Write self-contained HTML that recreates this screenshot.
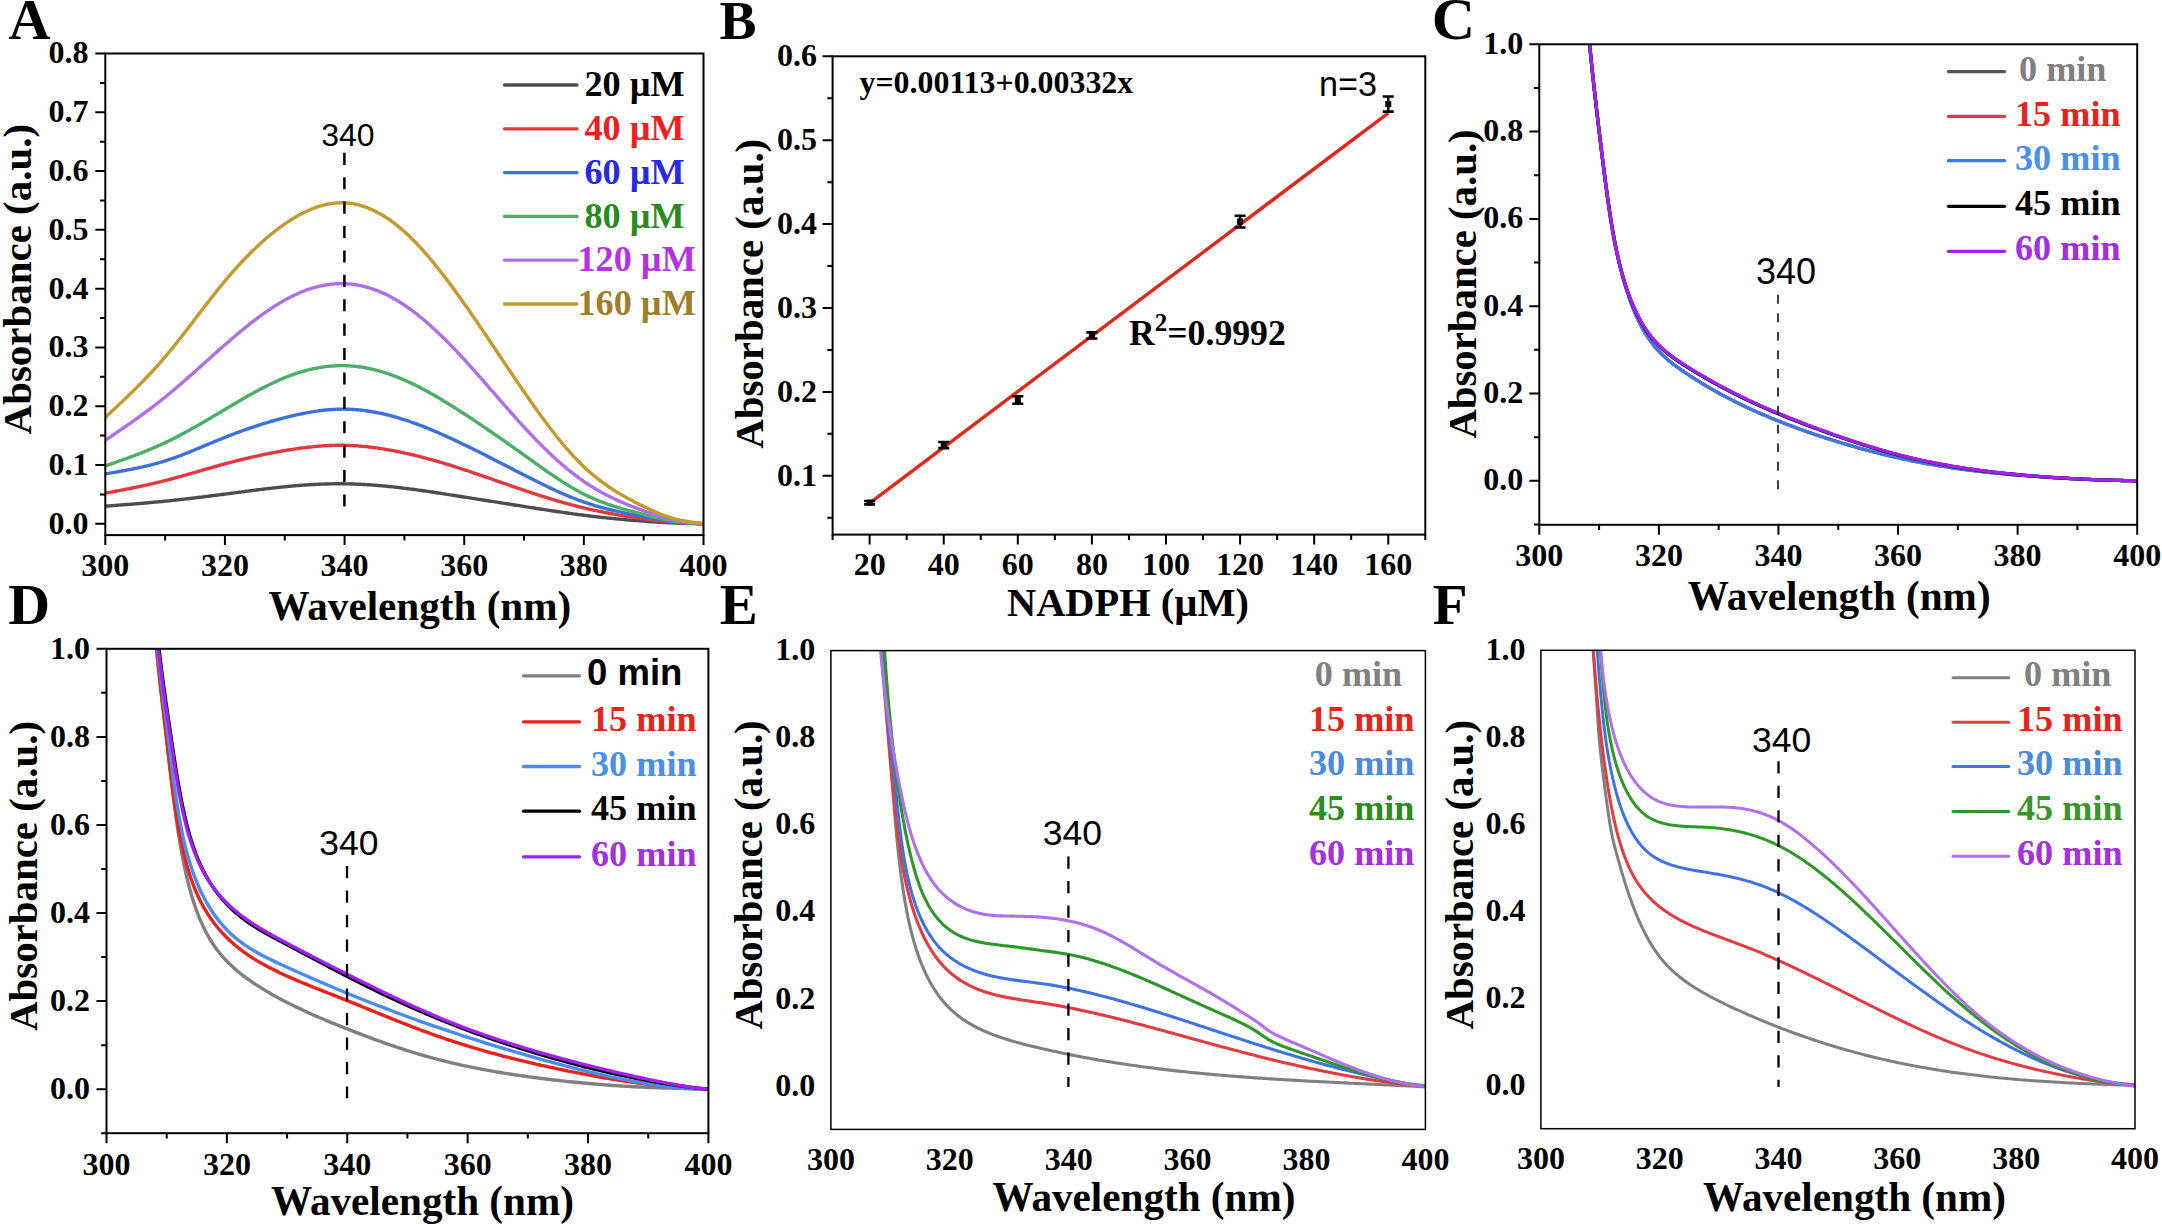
<!DOCTYPE html>
<html lang="en"><head><meta charset="utf-8"><title>NADPH absorbance spectra</title>
<style>html,body{margin:0;padding:0;background:#fff}svg{display:block}.sf{font-family:'Liberation Serif', 'Times New Roman', serif;font-weight:bold}.ss{font-family:'Liberation Sans', Arial, sans-serif;font-weight:bold}.sn{font-family:'Liberation Sans', Arial, sans-serif;font-weight:normal}</style>
</head><body>
<svg width="2162" height="1225" viewBox="0 0 2162 1225" role="img" aria-label="UV absorbance spectra of NADPH, panels A to F">
<rect width="2162" height="1225" fill="#fff"/>
<defs>
<clipPath id="cpA"><rect x="105.3" y="53.5" width="598.2" height="481.6"/></clipPath>
</defs>
<path d="M105.3,506.16 106.8,506.05 108.3,505.94 109.8,505.82 111.3,505.71 112.8,505.6 114.3,505.48 115.79,505.37 117.29,505.25 118.79,505.14 120.29,505.02 121.79,504.91 123.29,504.79 124.79,504.67 126.29,504.56 127.79,504.44 129.29,504.32 130.79,504.2 132.29,504.08 133.79,503.96 135.28,503.84 136.78,503.72 138.28,503.59 139.78,503.47 141.28,503.34 142.78,503.21 144.28,503.09 145.78,502.96 147.28,502.83 148.78,502.7 150.28,502.56 151.78,502.43 153.28,502.29 154.78,502.16 156.27,502.02 157.77,501.88 159.27,501.74 160.77,501.59 162.27,501.45 163.77,501.3 165.27,501.15 166.77,501 168.27,500.85 169.77,500.7 171.27,500.54 172.77,500.38 174.27,500.22 175.76,500.06 177.26,499.9 178.76,499.74 180.26,499.57 181.76,499.41 183.26,499.24 184.76,499.07 186.26,498.9 187.76,498.73 189.26,498.55 190.76,498.38 192.26,498.2 193.76,498.03 195.25,497.85 196.75,497.67 198.25,497.49 199.75,497.3 201.25,497.12 202.75,496.94 204.25,496.75 205.75,496.57 207.25,496.38 208.75,496.19 210.25,496 211.75,495.81 213.25,495.62 214.75,495.43 216.24,495.24 217.74,495.05 219.24,494.85 220.74,494.66 222.24,494.46 223.74,494.27 225.24,494.07 226.74,493.88 228.24,493.68 229.74,493.48 231.24,493.28 232.74,493.09 234.24,492.89 235.73,492.69 237.23,492.49 238.73,492.3 240.23,492.1 241.73,491.9 243.23,491.7 244.73,491.51 246.23,491.31 247.73,491.12 249.23,490.92 250.73,490.73 252.23,490.54 253.73,490.35 255.22,490.16 256.72,489.97 258.22,489.78 259.72,489.59 261.22,489.41 262.72,489.22 264.22,489.04 265.72,488.86 267.22,488.68 268.72,488.51 270.22,488.33 271.72,488.16 273.22,487.99 274.72,487.82 276.21,487.66 277.71,487.5 279.21,487.33 280.71,487.18 282.21,487.02 283.71,486.87 285.21,486.72 286.71,486.57 288.21,486.43 289.71,486.29 291.21,486.15 292.71,486.02 294.21,485.89 295.7,485.76 297.2,485.63 298.7,485.51 300.2,485.4 301.7,485.28 303.2,485.17 304.7,485.07 306.2,484.96 307.7,484.86 309.2,484.77 310.7,484.68 312.2,484.59 313.7,484.51 315.19,484.43 316.69,484.36 318.19,484.29 319.69,484.22 321.19,484.16 322.69,484.1 324.19,484.05 325.69,484 327.19,483.96 328.69,483.92 330.19,483.89 331.69,483.86 333.19,483.84 334.68,483.82 336.18,483.8 337.68,483.8 339.18,483.79 340.68,483.79 342.18,483.8 343.68,483.81 345.18,483.83 346.68,483.86 348.18,483.89 349.68,483.92 351.18,483.96 352.68,484 354.18,484.05 355.67,484.11 357.17,484.17 358.67,484.23 360.17,484.3 361.67,484.38 363.17,484.46 364.67,484.54 366.17,484.63 367.67,484.72 369.17,484.82 370.67,484.92 372.17,485.03 373.67,485.14 375.16,485.25 376.66,485.37 378.16,485.5 379.66,485.62 381.16,485.75 382.66,485.89 384.16,486.03 385.66,486.17 387.16,486.31 388.66,486.46 390.16,486.62 391.66,486.77 393.16,486.93 394.65,487.1 396.15,487.26 397.65,487.43 399.15,487.61 400.65,487.78 402.15,487.96 403.65,488.14 405.15,488.33 406.65,488.51 408.15,488.7 409.65,488.9 411.15,489.09 412.65,489.29 414.15,489.49 415.64,489.69 417.14,489.9 418.64,490.1 420.14,490.31 421.64,490.52 423.14,490.74 424.64,490.95 426.14,491.17 427.64,491.39 429.14,491.61 430.64,491.83 432.14,492.05 433.64,492.28 435.13,492.5 436.63,492.73 438.13,492.96 439.63,493.19 441.13,493.42 442.63,493.65 444.13,493.88 445.63,494.12 447.13,494.35 448.63,494.59 450.13,494.82 451.63,495.06 453.13,495.29 454.62,495.53 456.12,495.77 457.62,496.01 459.12,496.24 460.62,496.48 462.12,496.72 463.62,496.96 465.12,497.19 466.62,497.43 468.12,497.67 469.62,497.91 471.12,498.14 472.62,498.38 474.12,498.62 475.61,498.85 477.11,499.09 478.61,499.32 480.11,499.56 481.61,499.8 483.11,500.03 484.61,500.27 486.11,500.5 487.61,500.74 489.11,500.97 490.61,501.21 492.11,501.44 493.61,501.68 495.1,501.92 496.6,502.15 498.1,502.39 499.6,502.62 501.1,502.86 502.6,503.09 504.1,503.33 505.6,503.56 507.1,503.8 508.6,504.03 510.1,504.27 511.6,504.5 513.1,504.74 514.59,504.97 516.09,505.21 517.59,505.44 519.09,505.68 520.59,505.92 522.09,506.15 523.59,506.39 525.09,506.62 526.59,506.86 528.09,507.09 529.59,507.33 531.09,507.57 532.59,507.8 534.08,508.04 535.58,508.27 537.08,508.51 538.58,508.74 540.08,508.97 541.58,509.21 543.08,509.44 544.58,509.67 546.08,509.9 547.58,510.13 549.08,510.36 550.58,510.59 552.08,510.82 553.58,511.04 555.07,511.27 556.57,511.49 558.07,511.71 559.57,511.94 561.07,512.15 562.57,512.37 564.07,512.59 565.57,512.8 567.07,513.02 568.57,513.23 570.07,513.44 571.57,513.65 573.07,513.85 574.56,514.06 576.06,514.26 577.56,514.46 579.06,514.66 580.56,514.85 582.06,515.05 583.56,515.24 585.06,515.43 586.56,515.61 588.06,515.8 589.56,515.98 591.06,516.16 592.56,516.33 594.05,516.51 595.55,516.68 597.05,516.85 598.55,517.02 600.05,517.18 601.55,517.35 603.05,517.51 604.55,517.67 606.05,517.82 607.55,517.98 609.05,518.13 610.55,518.28 612.05,518.43 613.55,518.58 615.04,518.72 616.54,518.87 618.04,519.01 619.54,519.15 621.04,519.28 622.54,519.42 624.04,519.55 625.54,519.69 627.04,519.82 628.54,519.94 630.04,520.07 631.54,520.2 633.04,520.32 634.53,520.44 636.03,520.56 637.53,520.68 639.03,520.8 640.53,520.92 642.03,521.03 643.53,521.14 645.03,521.25 646.53,521.36 648.03,521.47 649.53,521.58 651.03,521.69 652.53,521.79 654.02,521.89 655.52,521.99 657.02,522.08 658.52,522.18 660.02,522.27 661.52,522.36 663.02,522.45 664.52,522.53 666.02,522.61 667.52,522.69 669.02,522.77 670.52,522.84 672.02,522.91 673.52,522.97 675.01,523.04 676.51,523.1 678.01,523.15 679.51,523.2 681.01,523.26 682.51,523.3 684.01,523.35 685.51,523.39 687.01,523.43 688.51,523.47 690.01,523.51 691.51,523.55 693.01,523.58 694.5,523.61 696,523.65 697.5,523.68 699,523.71 700.5,523.74 702,523.77 703.5,523.8" fill="none" stroke="#4d4d4d" stroke-width="3.4" stroke-linejoin="round" stroke-linecap="butt" clip-path="url(#cpA)"/>
<path d="M105.3,493.23 106.8,492.95 108.3,492.66 109.8,492.37 111.3,492.09 112.8,491.8 114.3,491.51 115.79,491.23 117.29,490.94 118.79,490.65 120.29,490.36 121.79,490.07 123.29,489.77 124.79,489.48 126.29,489.18 127.79,488.89 129.29,488.59 130.79,488.28 132.29,487.98 133.79,487.68 135.28,487.37 136.78,487.06 138.28,486.74 139.78,486.43 141.28,486.11 142.78,485.79 144.28,485.47 145.78,485.14 147.28,484.81 148.78,484.48 150.28,484.14 151.78,483.8 153.28,483.45 154.78,483.11 156.27,482.75 157.77,482.4 159.27,482.04 160.77,481.67 162.27,481.3 163.77,480.93 165.27,480.55 166.77,480.17 168.27,479.78 169.77,479.39 171.27,479 172.77,478.6 174.27,478.19 175.76,477.79 177.26,477.38 178.76,476.96 180.26,476.55 181.76,476.13 183.26,475.71 184.76,475.28 186.26,474.86 187.76,474.43 189.26,474 190.76,473.57 192.26,473.14 193.76,472.71 195.25,472.28 196.75,471.84 198.25,471.41 199.75,470.97 201.25,470.54 202.75,470.1 204.25,469.67 205.75,469.24 207.25,468.8 208.75,468.37 210.25,467.94 211.75,467.51 213.25,467.09 214.75,466.66 216.24,466.24 217.74,465.82 219.24,465.4 220.74,464.98 222.24,464.57 223.74,464.16 225.24,463.76 226.74,463.35 228.24,462.95 229.74,462.56 231.24,462.17 232.74,461.78 234.24,461.39 235.73,461.01 237.23,460.63 238.73,460.26 240.23,459.89 241.73,459.52 243.23,459.16 244.73,458.8 246.23,458.44 247.73,458.09 249.23,457.74 250.73,457.39 252.23,457.05 253.73,456.71 255.22,456.38 256.72,456.05 258.22,455.72 259.72,455.4 261.22,455.08 262.72,454.77 264.22,454.46 265.72,454.15 267.22,453.85 268.72,453.55 270.22,453.26 271.72,452.97 273.22,452.68 274.72,452.4 276.21,452.12 277.71,451.84 279.21,451.57 280.71,451.31 282.21,451.05 283.71,450.79 285.21,450.53 286.71,450.28 288.21,450.04 289.71,449.8 291.21,449.56 292.71,449.33 294.21,449.1 295.7,448.88 297.2,448.67 298.7,448.46 300.2,448.25 301.7,448.05 303.2,447.86 304.7,447.67 306.2,447.49 307.7,447.31 309.2,447.14 310.7,446.98 312.2,446.82 313.7,446.67 315.19,446.53 316.69,446.39 318.19,446.26 319.69,446.14 321.19,446.03 322.69,445.92 324.19,445.82 325.69,445.73 327.19,445.65 328.69,445.57 330.19,445.51 331.69,445.45 333.19,445.4 334.68,445.36 336.18,445.33 337.68,445.3 339.18,445.29 340.68,445.29 342.18,445.29 343.68,445.31 345.18,445.33 346.68,445.36 348.18,445.41 349.68,445.46 351.18,445.52 352.68,445.59 354.18,445.68 355.67,445.77 357.17,445.86 358.67,445.97 360.17,446.09 361.67,446.21 363.17,446.35 364.67,446.49 366.17,446.64 367.67,446.8 369.17,446.97 370.67,447.14 372.17,447.33 373.67,447.52 375.16,447.71 376.66,447.92 378.16,448.13 379.66,448.35 381.16,448.58 382.66,448.82 384.16,449.06 385.66,449.31 387.16,449.56 388.66,449.83 390.16,450.1 391.66,450.37 393.16,450.65 394.65,450.94 396.15,451.24 397.65,451.54 399.15,451.84 400.65,452.16 402.15,452.47 403.65,452.8 405.15,453.13 406.65,453.46 408.15,453.8 409.65,454.15 411.15,454.5 412.65,454.85 414.15,455.21 415.64,455.58 417.14,455.95 418.64,456.32 420.14,456.7 421.64,457.09 423.14,457.48 424.64,457.87 426.14,458.27 427.64,458.67 429.14,459.08 430.64,459.49 432.14,459.91 433.64,460.33 435.13,460.75 436.63,461.18 438.13,461.62 439.63,462.05 441.13,462.49 442.63,462.94 444.13,463.39 445.63,463.84 447.13,464.29 448.63,464.75 450.13,465.21 451.63,465.68 453.13,466.15 454.62,466.62 456.12,467.1 457.62,467.57 459.12,468.06 460.62,468.54 462.12,469.03 463.62,469.52 465.12,470.01 466.62,470.51 468.12,471.01 469.62,471.51 471.12,472.01 472.62,472.52 474.12,473.02 475.61,473.53 477.11,474.04 478.61,474.56 480.11,475.07 481.61,475.59 483.11,476.11 484.61,476.62 486.11,477.14 487.61,477.67 489.11,478.19 490.61,478.71 492.11,479.23 493.61,479.76 495.1,480.28 496.6,480.8 498.1,481.33 499.6,481.85 501.1,482.38 502.6,482.9 504.1,483.42 505.6,483.95 507.1,484.47 508.6,484.99 510.1,485.51 511.6,486.03 513.1,486.55 514.59,487.07 516.09,487.58 517.59,488.1 519.09,488.61 520.59,489.12 522.09,489.63 523.59,490.14 525.09,490.64 526.59,491.15 528.09,491.65 529.59,492.15 531.09,492.64 532.59,493.14 534.08,493.63 535.58,494.12 537.08,494.6 538.58,495.08 540.08,495.56 541.58,496.04 543.08,496.52 544.58,496.99 546.08,497.45 547.58,497.92 549.08,498.38 550.58,498.84 552.08,499.29 553.58,499.74 555.07,500.19 556.57,500.63 558.07,501.07 559.57,501.5 561.07,501.93 562.57,502.36 564.07,502.78 565.57,503.2 567.07,503.61 568.57,504.02 570.07,504.43 571.57,504.83 573.07,505.22 574.56,505.61 576.06,506 577.56,506.38 579.06,506.76 580.56,507.13 582.06,507.5 583.56,507.86 585.06,508.21 586.56,508.56 588.06,508.91 589.56,509.25 591.06,509.58 592.56,509.91 594.05,510.24 595.55,510.56 597.05,510.87 598.55,511.18 600.05,511.49 601.55,511.79 603.05,512.09 604.55,512.38 606.05,512.67 607.55,512.96 609.05,513.24 610.55,513.52 612.05,513.79 613.55,514.06 615.04,514.32 616.54,514.59 618.04,514.84 619.54,515.1 621.04,515.35 622.54,515.6 624.04,515.85 625.54,516.09 627.04,516.33 628.54,516.56 630.04,516.8 631.54,517.03 633.04,517.26 634.53,517.48 636.03,517.7 637.53,517.92 639.03,518.14 640.53,518.36 642.03,518.57 643.53,518.78 645.03,518.99 646.53,519.2 648.03,519.4 649.53,519.6 651.03,519.8 652.53,520 654.02,520.19 655.52,520.38 657.02,520.56 658.52,520.74 660.02,520.92 661.52,521.09 663.02,521.26 664.52,521.42 666.02,521.57 667.52,521.72 669.02,521.87 670.52,522.01 672.02,522.14 673.52,522.27 675.01,522.38 676.51,522.5 678.01,522.6 679.51,522.7 681.01,522.8 682.51,522.89 684.01,522.97 685.51,523.05 687.01,523.13 688.51,523.2 690.01,523.27 691.51,523.34 693.01,523.4 694.5,523.46 696,523.52 697.5,523.58 699,523.64 700.5,523.69 702,523.75 703.5,523.8" fill="none" stroke="#e0393e" stroke-width="3.4" stroke-linejoin="round" stroke-linecap="butt" clip-path="url(#cpA)"/>
<path d="M105.3,473.83 106.8,473.58 108.3,473.33 109.8,473.08 111.3,472.83 112.8,472.58 114.3,472.32 115.79,472.07 117.29,471.81 118.79,471.55 120.29,471.29 121.79,471.02 123.29,470.75 124.79,470.48 126.29,470.21 127.79,469.93 129.29,469.65 130.79,469.36 132.29,469.07 133.79,468.77 135.28,468.46 136.78,468.16 138.28,467.84 139.78,467.52 141.28,467.19 142.78,466.86 144.28,466.52 145.78,466.17 147.28,465.81 148.78,465.45 150.28,465.08 151.78,464.7 153.28,464.31 154.78,463.91 156.27,463.5 157.77,463.09 159.27,462.66 160.77,462.22 162.27,461.78 163.77,461.32 165.27,460.85 166.77,460.37 168.27,459.88 169.77,459.38 171.27,458.87 172.77,458.35 174.27,457.82 175.76,457.28 177.26,456.73 178.76,456.18 180.26,455.61 181.76,455.05 183.26,454.47 184.76,453.89 186.26,453.3 187.76,452.71 189.26,452.11 190.76,451.5 192.26,450.9 193.76,450.28 195.25,449.67 196.75,449.05 198.25,448.43 199.75,447.81 201.25,447.18 202.75,446.55 204.25,445.93 205.75,445.3 207.25,444.67 208.75,444.04 210.25,443.42 211.75,442.79 213.25,442.16 214.75,441.54 216.24,440.92 217.74,440.3 219.24,439.69 220.74,439.07 222.24,438.47 223.74,437.86 225.24,437.26 226.74,436.67 228.24,436.08 229.74,435.5 231.24,434.92 232.74,434.34 234.24,433.77 235.73,433.21 237.23,432.65 238.73,432.1 240.23,431.55 241.73,431 243.23,430.47 244.73,429.93 246.23,429.4 247.73,428.88 249.23,428.36 250.73,427.85 252.23,427.35 253.73,426.84 255.22,426.35 256.72,425.86 258.22,425.37 259.72,424.89 261.22,424.42 262.72,423.95 264.22,423.48 265.72,423.03 267.22,422.57 268.72,422.13 270.22,421.68 271.72,421.25 273.22,420.82 274.72,420.39 276.21,419.97 277.71,419.56 279.21,419.15 280.71,418.75 282.21,418.35 283.71,417.96 285.21,417.57 286.71,417.19 288.21,416.82 289.71,416.45 291.21,416.09 292.71,415.74 294.21,415.39 295.7,415.05 297.2,414.71 298.7,414.39 300.2,414.07 301.7,413.76 303.2,413.46 304.7,413.16 306.2,412.88 307.7,412.6 309.2,412.34 310.7,412.08 312.2,411.83 313.7,411.59 315.19,411.36 316.69,411.14 318.19,410.93 319.69,410.73 321.19,410.55 322.69,410.37 324.19,410.2 325.69,410.05 327.19,409.91 328.69,409.77 330.19,409.66 331.69,409.55 333.19,409.45 334.68,409.37 336.18,409.3 337.68,409.25 339.18,409.2 340.68,409.18 342.18,409.16 343.68,409.16 345.18,409.17 346.68,409.2 348.18,409.24 349.68,409.29 351.18,409.36 352.68,409.44 354.18,409.54 355.67,409.65 357.17,409.77 358.67,409.91 360.17,410.06 361.67,410.22 363.17,410.39 364.67,410.58 366.17,410.78 367.67,410.99 369.17,411.22 370.67,411.45 372.17,411.7 373.67,411.97 375.16,412.24 376.66,412.52 378.16,412.82 379.66,413.13 381.16,413.45 382.66,413.78 384.16,414.12 385.66,414.47 387.16,414.83 388.66,415.21 390.16,415.59 391.66,415.99 393.16,416.39 394.65,416.81 396.15,417.23 397.65,417.67 399.15,418.11 400.65,418.57 402.15,419.03 403.65,419.51 405.15,419.99 406.65,420.48 408.15,420.98 409.65,421.49 411.15,422.01 412.65,422.54 414.15,423.08 415.64,423.62 417.14,424.17 418.64,424.73 420.14,425.3 421.64,425.88 423.14,426.46 424.64,427.05 426.14,427.65 427.64,428.25 429.14,428.87 430.64,429.48 432.14,430.11 433.64,430.74 435.13,431.38 436.63,432.02 438.13,432.67 439.63,433.32 441.13,433.98 442.63,434.65 444.13,435.32 445.63,436 447.13,436.68 448.63,437.36 450.13,438.05 451.63,438.75 453.13,439.44 454.62,440.15 456.12,440.85 457.62,441.56 459.12,442.28 460.62,443 462.12,443.72 463.62,444.44 465.12,445.17 466.62,445.9 468.12,446.63 469.62,447.36 471.12,448.1 472.62,448.84 474.12,449.58 475.61,450.33 477.11,451.08 478.61,451.83 480.11,452.58 481.61,453.33 483.11,454.08 484.61,454.84 486.11,455.6 487.61,456.36 489.11,457.12 490.61,457.88 492.11,458.64 493.61,459.41 495.1,460.17 496.6,460.94 498.1,461.71 499.6,462.47 501.1,463.24 502.6,464.01 504.1,464.78 505.6,465.55 507.1,466.32 508.6,467.09 510.1,467.86 511.6,468.63 513.1,469.4 514.59,470.17 516.09,470.94 517.59,471.71 519.09,472.48 520.59,473.24 522.09,474.01 523.59,474.78 525.09,475.54 526.59,476.31 528.09,477.07 529.59,477.83 531.09,478.59 532.59,479.35 534.08,480.1 535.58,480.85 537.08,481.6 538.58,482.35 540.08,483.09 541.58,483.83 543.08,484.56 544.58,485.29 546.08,486.02 547.58,486.74 549.08,487.45 550.58,488.16 552.08,488.87 553.58,489.57 555.07,490.26 556.57,490.95 558.07,491.63 559.57,492.3 561.07,492.97 562.57,493.63 564.07,494.28 565.57,494.92 567.07,495.56 568.57,496.19 570.07,496.81 571.57,497.42 573.07,498.02 574.56,498.61 576.06,499.19 577.56,499.76 579.06,500.32 580.56,500.87 582.06,501.41 583.56,501.94 585.06,502.46 586.56,502.97 588.06,503.47 589.56,503.95 591.06,504.43 592.56,504.89 594.05,505.35 595.55,505.8 597.05,506.23 598.55,506.66 600.05,507.08 601.55,507.49 603.05,507.9 604.55,508.29 606.05,508.68 607.55,509.06 609.05,509.44 610.55,509.8 612.05,510.16 613.55,510.52 615.04,510.87 616.54,511.21 618.04,511.55 619.54,511.88 621.04,512.21 622.54,512.53 624.04,512.85 625.54,513.16 627.04,513.47 628.54,513.78 630.04,514.09 631.54,514.39 633.04,514.68 634.53,514.98 636.03,515.27 637.53,515.56 639.03,515.85 640.53,516.14 642.03,516.43 643.53,516.72 645.03,517 646.53,517.29 648.03,517.57 649.53,517.85 651.03,518.13 652.53,518.41 654.02,518.68 655.52,518.95 657.02,519.21 658.52,519.47 660.02,519.72 661.52,519.97 663.02,520.21 664.52,520.45 666.02,520.67 667.52,520.89 669.02,521.1 670.52,521.3 672.02,521.49 673.52,521.67 675.01,521.85 676.51,522.01 678.01,522.16 679.51,522.3 681.01,522.44 682.51,522.56 684.01,522.68 685.51,522.79 687.01,522.9 688.51,523 690.01,523.1 691.51,523.19 693.01,523.27 694.5,523.35 696,523.43 697.5,523.51 699,523.58 700.5,523.66 702,523.73 703.5,523.8" fill="none" stroke="#3b72d9" stroke-width="3.4" stroke-linejoin="round" stroke-linecap="butt" clip-path="url(#cpA)"/>
<path d="M105.3,465.89 106.8,465.38 108.3,464.86 109.8,464.34 111.3,463.82 112.8,463.29 114.3,462.77 115.79,462.25 117.29,461.72 118.79,461.2 120.29,460.67 121.79,460.13 123.29,459.6 124.79,459.06 126.29,458.52 127.79,457.98 129.29,457.43 130.79,456.88 132.29,456.32 133.79,455.76 135.28,455.2 136.78,454.63 138.28,454.06 139.78,453.48 141.28,452.89 142.78,452.3 144.28,451.71 145.78,451.1 147.28,450.5 148.78,449.88 150.28,449.26 151.78,448.63 153.28,447.99 154.78,447.35 156.27,446.69 157.77,446.03 159.27,445.37 160.77,444.69 162.27,444 163.77,443.31 165.27,442.6 166.77,441.89 168.27,441.17 169.77,440.43 171.27,439.69 172.77,438.94 174.27,438.19 175.76,437.42 177.26,436.65 178.76,435.87 180.26,435.08 181.76,434.28 183.26,433.48 184.76,432.67 186.26,431.86 187.76,431.04 189.26,430.21 190.76,429.38 192.26,428.54 193.76,427.7 195.25,426.86 196.75,426 198.25,425.15 199.75,424.29 201.25,423.42 202.75,422.56 204.25,421.69 205.75,420.81 207.25,419.93 208.75,419.06 210.25,418.17 211.75,417.29 213.25,416.4 214.75,415.52 216.24,414.63 217.74,413.74 219.24,412.85 220.74,411.96 222.24,411.06 223.74,410.17 225.24,409.28 226.74,408.39 228.24,407.5 229.74,406.61 231.24,405.72 232.74,404.83 234.24,403.95 235.73,403.06 237.23,402.19 238.73,401.31 240.23,400.44 241.73,399.57 243.23,398.7 244.73,397.84 246.23,396.98 247.73,396.13 249.23,395.29 250.73,394.45 252.23,393.61 253.73,392.79 255.22,391.97 256.72,391.15 258.22,390.35 259.72,389.55 261.22,388.76 262.72,387.98 264.22,387.21 265.72,386.45 267.22,385.69 268.72,384.95 270.22,384.22 271.72,383.5 273.22,382.79 274.72,382.09 276.21,381.4 277.71,380.72 279.21,380.06 280.71,379.41 282.21,378.77 283.71,378.14 285.21,377.53 286.71,376.93 288.21,376.35 289.71,375.78 291.21,375.23 292.71,374.69 294.21,374.16 295.7,373.65 297.2,373.15 298.7,372.67 300.2,372.2 301.7,371.75 303.2,371.32 304.7,370.89 306.2,370.49 307.7,370.1 309.2,369.72 310.7,369.36 312.2,369.02 313.7,368.69 315.19,368.38 316.69,368.09 318.19,367.81 319.69,367.54 321.19,367.3 322.69,367.07 324.19,366.85 325.69,366.66 327.19,366.48 328.69,366.32 330.19,366.17 331.69,366.04 333.19,365.93 334.68,365.84 336.18,365.76 337.68,365.7 339.18,365.66 340.68,365.64 342.18,365.63 343.68,365.65 345.18,365.68 346.68,365.73 348.18,365.79 349.68,365.88 351.18,365.98 352.68,366.1 354.18,366.24 355.67,366.39 357.17,366.57 358.67,366.76 360.17,366.96 361.67,367.19 363.17,367.43 364.67,367.68 366.17,367.96 367.67,368.25 369.17,368.55 370.67,368.87 372.17,369.21 373.67,369.57 375.16,369.93 376.66,370.32 378.16,370.72 379.66,371.13 381.16,371.56 382.66,372.01 384.16,372.47 385.66,372.94 387.16,373.43 388.66,373.94 390.16,374.45 391.66,374.99 393.16,375.53 394.65,376.09 396.15,376.67 397.65,377.26 399.15,377.86 400.65,378.47 402.15,379.1 403.65,379.74 405.15,380.39 406.65,381.06 408.15,381.74 409.65,382.43 411.15,383.13 412.65,383.85 414.15,384.58 415.64,385.31 417.14,386.06 418.64,386.82 420.14,387.59 421.64,388.38 423.14,389.17 424.64,389.97 426.14,390.78 427.64,391.6 429.14,392.43 430.64,393.27 432.14,394.11 433.64,394.97 435.13,395.83 436.63,396.7 438.13,397.58 439.63,398.47 441.13,399.36 442.63,400.27 444.13,401.17 445.63,402.09 447.13,403.01 448.63,403.93 450.13,404.87 451.63,405.8 453.13,406.75 454.62,407.7 456.12,408.65 457.62,409.61 459.12,410.57 460.62,411.53 462.12,412.5 463.62,413.48 465.12,414.45 466.62,415.43 468.12,416.42 469.62,417.4 471.12,418.39 472.62,419.39 474.12,420.38 475.61,421.38 477.11,422.38 478.61,423.39 480.11,424.39 481.61,425.4 483.11,426.42 484.61,427.43 486.11,428.45 487.61,429.47 489.11,430.5 490.61,431.52 492.11,432.55 493.61,433.58 495.1,434.62 496.6,435.65 498.1,436.69 499.6,437.73 501.1,438.78 502.6,439.82 504.1,440.87 505.6,441.92 507.1,442.98 508.6,444.03 510.1,445.09 511.6,446.15 513.1,447.21 514.59,448.27 516.09,449.34 517.59,450.41 519.09,451.48 520.59,452.55 522.09,453.62 523.59,454.7 525.09,455.77 526.59,456.85 528.09,457.93 529.59,459.01 531.09,460.09 532.59,461.17 534.08,462.24 535.58,463.32 537.08,464.39 538.58,465.47 540.08,466.53 541.58,467.6 543.08,468.66 544.58,469.72 546.08,470.77 547.58,471.81 549.08,472.85 550.58,473.89 552.08,474.91 553.58,475.93 555.07,476.94 556.57,477.94 558.07,478.94 559.57,479.92 561.07,480.89 562.57,481.86 564.07,482.81 565.57,483.75 567.07,484.68 568.57,485.59 570.07,486.5 571.57,487.39 573.07,488.26 574.56,489.12 576.06,489.97 577.56,490.8 579.06,491.62 580.56,492.42 582.06,493.2 583.56,493.96 585.06,494.71 586.56,495.44 588.06,496.15 589.56,496.84 591.06,497.52 592.56,498.18 594.05,498.83 595.55,499.46 597.05,500.08 598.55,500.68 600.05,501.27 601.55,501.85 603.05,502.41 604.55,502.96 606.05,503.5 607.55,504.03 609.05,504.55 610.55,505.05 612.05,505.55 613.55,506.03 615.04,506.51 616.54,506.98 618.04,507.43 619.54,507.89 621.04,508.33 622.54,508.76 624.04,509.19 625.54,509.62 627.04,510.03 628.54,510.44 630.04,510.85 631.54,511.25 633.04,511.65 634.53,512.04 636.03,512.44 637.53,512.82 639.03,513.21 640.53,513.59 642.03,513.97 643.53,514.36 645.03,514.74 646.53,515.12 648.03,515.49 649.53,515.87 651.03,516.24 652.53,516.61 654.02,516.97 655.52,517.33 657.02,517.68 658.52,518.02 660.02,518.36 661.52,518.69 663.02,519.01 664.52,519.33 666.02,519.63 667.52,519.92 669.02,520.2 670.52,520.47 672.02,520.72 673.52,520.97 675.01,521.19 676.51,521.41 678.01,521.61 679.51,521.8 681.01,521.98 682.51,522.15 684.01,522.31 685.51,522.46 687.01,522.6 688.51,522.73 690.01,522.86 691.51,522.98 693.01,523.1 694.5,523.21 696,523.31 697.5,523.41 699,523.51 700.5,523.61 702,523.71 703.5,523.8" fill="none" stroke="#4caf68" stroke-width="3.4" stroke-linejoin="round" stroke-linecap="butt" clip-path="url(#cpA)"/>
<path d="M105.3,440.32 106.8,439.3 108.3,438.29 109.8,437.27 111.3,436.25 112.8,435.23 114.3,434.21 115.79,433.18 117.29,432.16 118.79,431.13 120.29,430.1 121.79,429.07 123.29,428.04 124.79,427 126.29,425.96 127.79,424.92 129.29,423.87 130.79,422.82 132.29,421.76 133.79,420.7 135.28,419.64 136.78,418.57 138.28,417.5 139.78,416.42 141.28,415.33 142.78,414.24 144.28,413.14 145.78,412.04 147.28,410.93 148.78,409.81 150.28,408.68 151.78,407.55 153.28,406.41 154.78,405.27 156.27,404.11 157.77,402.95 159.27,401.77 160.77,400.59 162.27,399.4 163.77,398.2 165.27,396.99 166.77,395.77 168.27,394.54 169.77,393.31 171.27,392.06 172.77,390.81 174.27,389.54 175.76,388.27 177.26,387 178.76,385.71 180.26,384.42 181.76,383.12 183.26,381.82 184.76,380.51 186.26,379.2 187.76,377.88 189.26,376.56 190.76,375.24 192.26,373.91 193.76,372.58 195.25,371.24 196.75,369.9 198.25,368.56 199.75,367.22 201.25,365.88 202.75,364.54 204.25,363.19 205.75,361.85 207.25,360.51 208.75,359.16 210.25,357.82 211.75,356.48 213.25,355.14 214.75,353.8 216.24,352.47 217.74,351.14 219.24,349.81 220.74,348.48 222.24,347.16 223.74,345.84 225.24,344.53 226.74,343.22 228.24,341.92 229.74,340.62 231.24,339.33 232.74,338.05 234.24,336.77 235.73,335.5 237.23,334.24 238.73,332.98 240.23,331.73 241.73,330.49 243.23,329.26 244.73,328.04 246.23,326.83 247.73,325.63 249.23,324.44 250.73,323.26 252.23,322.09 253.73,320.93 255.22,319.79 256.72,318.65 258.22,317.53 259.72,316.42 261.22,315.33 262.72,314.24 264.22,313.18 265.72,312.12 267.22,311.08 268.72,310.06 270.22,309.05 271.72,308.05 273.22,307.07 274.72,306.11 276.21,305.17 277.71,304.24 279.21,303.33 280.71,302.43 282.21,301.56 283.71,300.7 285.21,299.86 286.71,299.05 288.21,298.25 289.71,297.46 291.21,296.7 292.71,295.96 294.21,295.24 295.7,294.54 297.2,293.86 298.7,293.2 300.2,292.56 301.7,291.94 303.2,291.34 304.7,290.76 306.2,290.21 307.7,289.67 309.2,289.16 310.7,288.66 312.2,288.19 313.7,287.74 315.19,287.32 316.69,286.91 318.19,286.53 319.69,286.17 321.19,285.84 322.69,285.52 324.19,285.23 325.69,284.97 327.19,284.72 328.69,284.5 330.19,284.3 331.69,284.13 333.19,283.98 334.68,283.86 336.18,283.76 337.68,283.68 339.18,283.63 340.68,283.6 342.18,283.6 343.68,283.63 345.18,283.68 346.68,283.75 348.18,283.85 349.68,283.97 351.18,284.12 352.68,284.3 354.18,284.5 355.67,284.72 357.17,284.97 358.67,285.25 360.17,285.55 361.67,285.87 363.17,286.22 364.67,286.59 366.17,286.99 367.67,287.41 369.17,287.86 370.67,288.33 372.17,288.82 373.67,289.34 375.16,289.88 376.66,290.45 378.16,291.03 379.66,291.65 381.16,292.28 382.66,292.94 384.16,293.63 385.66,294.33 387.16,295.06 388.66,295.82 390.16,296.59 391.66,297.39 393.16,298.22 394.65,299.06 396.15,299.93 397.65,300.82 399.15,301.73 400.65,302.67 402.15,303.63 403.65,304.61 405.15,305.62 406.65,306.64 408.15,307.69 409.65,308.76 411.15,309.85 412.65,310.96 414.15,312.09 415.64,313.24 417.14,314.42 418.64,315.61 420.14,316.82 421.64,318.05 423.14,319.3 424.64,320.56 426.14,321.85 427.64,323.15 429.14,324.47 430.64,325.81 432.14,327.16 433.64,328.53 435.13,329.91 436.63,331.31 438.13,332.73 439.63,334.16 441.13,335.61 442.63,337.07 444.13,338.54 445.63,340.03 447.13,341.53 448.63,343.05 450.13,344.57 451.63,346.11 453.13,347.66 454.62,349.23 456.12,350.8 457.62,352.39 459.12,353.98 460.62,355.59 462.12,357.21 463.62,358.84 465.12,360.47 466.62,362.12 468.12,363.77 469.62,365.43 471.12,367.1 472.62,368.78 474.12,370.46 475.61,372.15 477.11,373.85 478.61,375.55 480.11,377.25 481.61,378.96 483.11,380.68 484.61,382.39 486.11,384.11 487.61,385.83 489.11,387.56 490.61,389.28 492.11,391.01 493.61,392.73 495.1,394.46 496.6,396.19 498.1,397.91 499.6,399.63 501.1,401.35 502.6,403.07 504.1,404.79 505.6,406.5 507.1,408.21 508.6,409.91 510.1,411.61 511.6,413.31 513.1,414.99 514.59,416.68 516.09,418.35 517.59,420.02 519.09,421.68 520.59,423.33 522.09,424.97 523.59,426.61 525.09,428.23 526.59,429.84 528.09,431.45 529.59,433.04 531.09,434.62 532.59,436.2 534.08,437.76 535.58,439.31 537.08,440.84 538.58,442.37 540.08,443.88 541.58,445.38 543.08,446.87 544.58,448.34 546.08,449.8 547.58,451.25 549.08,452.69 550.58,454.1 552.08,455.51 553.58,456.9 555.07,458.28 556.57,459.64 558.07,460.98 559.57,462.31 561.07,463.63 562.57,464.93 564.07,466.21 565.57,467.47 567.07,468.72 568.57,469.95 570.07,471.17 571.57,472.36 573.07,473.54 574.56,474.7 576.06,475.84 577.56,476.97 579.06,478.07 580.56,479.15 582.06,480.22 583.56,481.27 585.06,482.29 586.56,483.3 588.06,484.29 589.56,485.25 591.06,486.2 592.56,487.14 594.05,488.05 595.55,488.95 597.05,489.83 598.55,490.69 600.05,491.54 601.55,492.37 603.05,493.18 604.55,493.98 606.05,494.77 607.55,495.54 609.05,496.3 610.55,497.04 612.05,497.78 613.55,498.49 615.04,499.2 616.54,499.9 618.04,500.58 619.54,501.25 621.04,501.91 622.54,502.56 624.04,503.2 625.54,503.84 627.04,504.46 628.54,505.07 630.04,505.68 631.54,506.28 633.04,506.86 634.53,507.45 636.03,508.02 637.53,508.59 639.03,509.16 640.53,509.71 642.03,510.26 643.53,510.81 645.03,511.35 646.53,511.89 648.03,512.42 649.53,512.95 651.03,513.47 652.53,513.98 654.02,514.48 655.52,514.97 657.02,515.45 658.52,515.93 660.02,516.39 661.52,516.84 663.02,517.27 664.52,517.69 666.02,518.1 667.52,518.49 669.02,518.87 670.52,519.23 672.02,519.58 673.52,519.9 675.01,520.21 676.51,520.5 678.01,520.78 679.51,521.04 681.01,521.28 682.51,521.51 684.01,521.73 685.51,521.93 687.01,522.13 688.51,522.31 690.01,522.49 691.51,522.65 693.01,522.81 694.5,522.97 696,523.11 697.5,523.26 699,523.4 700.5,523.53 702,523.67 703.5,523.8" fill="none" stroke="#b06fe8" stroke-width="3.4" stroke-linejoin="round" stroke-linecap="butt" clip-path="url(#cpA)"/>
<path d="M105.3,417.39 106.8,416 108.3,414.61 109.8,413.21 111.3,411.82 112.8,410.42 114.3,409.02 115.79,407.62 117.29,406.21 118.79,404.8 120.29,403.38 121.79,401.96 123.29,400.54 124.79,399.11 126.29,397.67 127.79,396.23 129.29,394.78 130.79,393.33 132.29,391.86 133.79,390.39 135.28,388.9 136.78,387.41 138.28,385.91 139.78,384.4 141.28,382.88 142.78,381.34 144.28,379.8 145.78,378.24 147.28,376.67 148.78,375.09 150.28,373.49 151.78,371.88 153.28,370.25 154.78,368.61 156.27,366.95 157.77,365.28 159.27,363.59 160.77,361.89 162.27,360.17 163.77,358.43 165.27,356.67 166.77,354.89 168.27,353.09 169.77,351.28 171.27,349.46 172.77,347.61 174.27,345.76 175.76,343.89 177.26,342 178.76,340.11 180.26,338.21 181.76,336.29 183.26,334.37 184.76,332.44 186.26,330.5 187.76,328.56 189.26,326.61 190.76,324.66 192.26,322.7 193.76,320.74 195.25,318.78 196.75,316.82 198.25,314.86 199.75,312.9 201.25,310.95 202.75,308.99 204.25,307.04 205.75,305.1 207.25,303.16 208.75,301.22 210.25,299.3 211.75,297.38 213.25,295.47 214.75,293.57 216.24,291.69 217.74,289.81 219.24,287.95 220.74,286.1 222.24,284.27 223.74,282.45 225.24,280.65 226.74,278.86 228.24,277.1 229.74,275.35 231.24,273.61 232.74,271.9 234.24,270.2 235.73,268.52 237.23,266.86 238.73,265.22 240.23,263.59 241.73,261.99 243.23,260.4 244.73,258.83 246.23,257.27 247.73,255.74 249.23,254.22 250.73,252.73 252.23,251.25 253.73,249.79 255.22,248.35 256.72,246.93 258.22,245.53 259.72,244.14 261.22,242.78 262.72,241.44 264.22,240.11 265.72,238.81 267.22,237.52 268.72,236.26 270.22,235.01 271.72,233.79 273.22,232.58 274.72,231.4 276.21,230.23 277.71,229.09 279.21,227.96 280.71,226.86 282.21,225.78 283.71,224.71 285.21,223.67 286.71,222.65 288.21,221.65 289.71,220.68 291.21,219.72 292.71,218.79 294.21,217.88 295.7,216.99 297.2,216.13 298.7,215.29 300.2,214.47 301.7,213.68 303.2,212.91 304.7,212.17 306.2,211.45 307.7,210.76 309.2,210.1 310.7,209.46 312.2,208.85 313.7,208.26 315.19,207.71 316.69,207.18 318.19,206.68 319.69,206.2 321.19,205.76 322.69,205.34 324.19,204.96 325.69,204.6 327.19,204.28 328.69,203.98 330.19,203.72 331.69,203.49 333.19,203.28 334.68,203.12 336.18,202.98 337.68,202.87 339.18,202.8 340.68,202.76 342.18,202.76 343.68,202.79 345.18,202.85 346.68,202.95 348.18,203.08 349.68,203.24 351.18,203.44 352.68,203.68 354.18,203.95 355.67,204.25 357.17,204.58 358.67,204.95 360.17,205.35 361.67,205.79 363.17,206.25 364.67,206.76 366.17,207.29 367.67,207.86 369.17,208.45 370.67,209.09 372.17,209.75 373.67,210.45 375.16,211.17 376.66,211.93 378.16,212.73 379.66,213.55 381.16,214.41 382.66,215.29 384.16,216.21 385.66,217.16 387.16,218.14 388.66,219.15 390.16,220.2 391.66,221.27 393.16,222.38 394.65,223.51 396.15,224.68 397.65,225.87 399.15,227.1 400.65,228.35 402.15,229.64 403.65,230.96 405.15,232.3 406.65,233.68 408.15,235.08 409.65,236.51 411.15,237.98 412.65,239.46 414.15,240.98 415.64,242.52 417.14,244.09 418.64,245.68 420.14,247.3 421.64,248.94 423.14,250.61 424.64,252.29 426.14,254.01 427.64,255.74 429.14,257.5 430.64,259.28 432.14,261.08 433.64,262.89 435.13,264.73 436.63,266.59 438.13,268.47 439.63,270.37 441.13,272.28 442.63,274.21 444.13,276.16 445.63,278.12 447.13,280.1 448.63,282.1 450.13,284.11 451.63,286.13 453.13,288.17 454.62,290.22 456.12,292.29 457.62,294.37 459.12,296.46 460.62,298.56 462.12,300.67 463.62,302.79 465.12,304.92 466.62,307.06 468.12,309.21 469.62,311.37 471.12,313.54 472.62,315.71 474.12,317.89 475.61,320.08 477.11,322.28 478.61,324.48 480.11,326.68 481.61,328.89 483.11,331.11 484.61,333.33 486.11,335.55 487.61,337.78 489.11,340.01 490.61,342.25 492.11,344.48 493.61,346.72 495.1,348.96 496.6,351.2 498.1,353.44 499.6,355.68 501.1,357.91 502.6,360.15 504.1,362.39 505.6,364.63 507.1,366.86 508.6,369.09 510.1,371.32 511.6,373.54 513.1,375.76 514.59,377.98 516.09,380.19 517.59,382.4 519.09,384.6 520.59,386.8 522.09,388.99 523.59,391.17 525.09,393.34 526.59,395.51 528.09,397.67 529.59,399.82 531.09,401.96 532.59,404.09 534.08,406.21 535.58,408.32 537.08,410.42 538.58,412.5 540.08,414.58 541.58,416.64 543.08,418.68 544.58,420.71 546.08,422.72 547.58,424.72 549.08,426.71 550.58,428.67 552.08,430.62 553.58,432.55 555.07,434.46 556.57,436.36 558.07,438.23 559.57,440.08 561.07,441.91 562.57,443.72 564.07,445.51 565.57,447.28 567.07,449.02 568.57,450.74 570.07,452.43 571.57,454.1 573.07,455.75 574.56,457.36 576.06,458.95 577.56,460.52 579.06,462.05 580.56,463.56 582.06,465.04 583.56,466.49 585.06,467.91 586.56,469.3 588.06,470.66 589.56,471.99 591.06,473.3 592.56,474.57 594.05,475.82 595.55,477.05 597.05,478.25 598.55,479.42 600.05,480.58 601.55,481.7 603.05,482.81 604.55,483.89 606.05,484.95 607.55,485.99 609.05,487.01 610.55,488.02 612.05,489 613.55,489.96 615.04,490.91 616.54,491.84 618.04,492.75 619.54,493.65 621.04,494.53 622.54,495.4 624.04,496.25 625.54,497.09 627.04,497.92 628.54,498.74 630.04,499.54 631.54,500.34 633.04,501.12 634.53,501.9 636.03,502.66 637.53,503.42 639.03,504.17 640.53,504.92 642.03,505.65 643.53,506.38 645.03,507.11 646.53,507.83 648.03,508.55 649.53,509.25 651.03,509.95 652.53,510.64 654.02,511.31 655.52,511.98 657.02,512.63 658.52,513.26 660.02,513.88 661.52,514.49 663.02,515.08 664.52,515.64 666.02,516.19 667.52,516.72 669.02,517.23 670.52,517.71 672.02,518.17 673.52,518.61 675.01,519.01 676.51,519.4 678.01,519.76 679.51,520.1 681.01,520.42 682.51,520.71 684.01,520.99 685.51,521.26 687.01,521.5 688.51,521.74 690.01,521.96 691.51,522.17 693.01,522.36 694.5,522.55 696,522.73 697.5,522.91 699,523.08 700.5,523.24 702,523.4 703.5,523.56" fill="none" stroke="#c59a2c" stroke-width="3.4" stroke-linejoin="round" stroke-linecap="butt" clip-path="url(#cpA)"/>
<line x1="344.4" y1="152.8" x2="344.4" y2="506.5" stroke="#000" stroke-width="2.5" stroke-dasharray="12.1 12.3"/>
<text class="sn" x="347.9" y="146" font-size="32" text-anchor="middle">340</text>
<rect x="105.3" y="53.5" width="598.2" height="481.6" fill="none" stroke="#000" stroke-width="2"/>
<path d="M105.3 535.1v10M224.94 535.1v10M344.58 535.1v10M464.22 535.1v10M583.86 535.1v10M703.5 535.1v10M165.12 535.1v5.3M284.76 535.1v5.3M404.4 535.1v5.3M524.04 535.1v5.3M643.68 535.1v5.3" stroke="#000" stroke-width="2" fill="none"/>
<path d="M105.3 523.8h-10M105.3 465.01h-10M105.3 406.22h-10M105.3 347.44h-10M105.3 288.65h-10M105.3 229.86h-10M105.3 171.07h-10M105.3 112.29h-10M105.3 53.5h-10M105.3 494.41h-5.3M105.3 435.62h-5.3M105.3 376.83h-5.3M105.3 318.04h-5.3M105.3 259.26h-5.3M105.3 200.47h-5.3M105.3 141.68h-5.3M105.3 82.89h-5.3" stroke="#000" stroke-width="2" fill="none"/>
<text class="sf" x="105.3" y="576.3" font-size="32" text-anchor="middle">300</text>
<text class="sf" x="224.94" y="576.3" font-size="32" text-anchor="middle">320</text>
<text class="sf" x="344.58" y="576.3" font-size="32" text-anchor="middle">340</text>
<text class="sf" x="464.22" y="576.3" font-size="32" text-anchor="middle">360</text>
<text class="sf" x="583.86" y="576.3" font-size="32" text-anchor="middle">380</text>
<text class="sf" x="703.5" y="576.3" font-size="32" text-anchor="middle">400</text>
<text class="sf" x="88.5" y="533.7" font-size="32" text-anchor="end">0.0</text>
<text class="sf" x="88.5" y="474.91" font-size="32" text-anchor="end">0.1</text>
<text class="sf" x="88.5" y="416.12" font-size="32" text-anchor="end">0.2</text>
<text class="sf" x="88.5" y="357.34" font-size="32" text-anchor="end">0.3</text>
<text class="sf" x="88.5" y="298.55" font-size="32" text-anchor="end">0.4</text>
<text class="sf" x="88.5" y="239.76" font-size="32" text-anchor="end">0.5</text>
<text class="sf" x="88.5" y="180.97" font-size="32" text-anchor="end">0.6</text>
<text class="sf" x="88.5" y="122.19" font-size="32" text-anchor="end">0.7</text>
<text class="sf" x="88.5" y="63.4" font-size="32" text-anchor="end">0.8</text>
<text class="sf" x="419.8" y="619.5" font-size="41.15" text-anchor="middle">Wavelength (nm)</text>
<text class="sf" x="31" y="279.2" font-size="40.95" text-anchor="middle" transform="rotate(-90 31 279.2)">Absorbance (a.u.)</text>
<text class="sf" x="8.5" y="39" font-size="58">A</text>
<line x1="504.5" y1="85" x2="577" y2="85" stroke="#4d4d4d" stroke-width="3.3" stroke-linecap="round"/>
<text class="sf" x="584.5" y="96.2" font-size="36.2" fill="#000000">20 µM</text>
<line x1="504.5" y1="128.8" x2="577" y2="128.8" stroke="#e0393e" stroke-width="3.3" stroke-linecap="round"/>
<text class="sf" x="584.5" y="140" font-size="36.2" fill="#f01e1e">40 µM</text>
<line x1="504.5" y1="172.6" x2="577" y2="172.6" stroke="#3b72d9" stroke-width="3.3" stroke-linecap="round"/>
<text class="sf" x="584.5" y="183.8" font-size="36.2" fill="#2828e6">60 µM</text>
<line x1="504.5" y1="216.4" x2="577" y2="216.4" stroke="#4caf68" stroke-width="3.3" stroke-linecap="round"/>
<text class="sf" x="584.5" y="227.6" font-size="36.2" fill="#2a8a1e">80 µM</text>
<line x1="504.5" y1="260.2" x2="577" y2="260.2" stroke="#b06fe8" stroke-width="3.3" stroke-linecap="round"/>
<text class="sf" x="577.5" y="271.4" font-size="36.2" fill="#b432e6">120 µM</text>
<line x1="504.5" y1="304" x2="577" y2="304" stroke="#c59a2c" stroke-width="3.3" stroke-linecap="round"/>
<text class="sf" x="577.5" y="315.2" font-size="36.2" fill="#a07d28">160 µM</text>
<defs>
<clipPath id="cpB"><rect x="832.6" y="56.3" width="592.7" height="478.3"/></clipPath>
</defs>
<line x1="869.64" y1="503.04" x2="1388.26" y2="113.08" stroke="#e0281a" stroke-width="3.4"/>
<rect x="866.64" y="499.65" width="6" height="6" fill="#000"/>
<rect x="940.73" y="442.09" width="6" height="6" fill="#000"/>
<rect x="1014.82" y="397.04" width="6" height="6" fill="#000"/>
<rect x="1088.91" y="332.44" width="6" height="6" fill="#000"/>
<rect x="1237.08" y="218.58" width="6" height="6" fill="#000"/>
<rect x="1385.26" y="101.12" width="6" height="6" fill="#000"/>
<path d="M869.64 500.97V504.33M864.14 500.97h11M864.14 504.33h11M943.73 442.07V448.11M938.23 442.07h11M938.23 448.11h11M1017.82 396.26V403.81M1012.32 396.26h11M1012.32 403.81h11M1091.91 332.41V338.46M1086.41 332.41h11M1086.41 338.46h11M1240.08 215.71V227.46M1234.58 215.71h11M1234.58 227.46h11M1388.26 96.57V111.67M1382.76 96.57h11M1382.76 111.67h11" stroke="#000" stroke-width="2.6" fill="none"/>
<rect x="832.6" y="56.3" width="592.7" height="478.3" fill="none" stroke="#000" stroke-width="2"/>
<path d="M869.64 534.6v10M943.73 534.6v10M1017.82 534.6v10M1091.91 534.6v10M1165.99 534.6v10M1240.08 534.6v10M1314.17 534.6v10M1388.26 534.6v10M832.6 534.6v5.3M906.69 534.6v5.3M980.77 534.6v5.3M1054.86 534.6v5.3M1128.95 534.6v5.3M1203.04 534.6v5.3M1277.12 534.6v5.3M1351.21 534.6v5.3M1425.3 534.6v5.3" stroke="#000" stroke-width="2" fill="none"/>
<path d="M832.6 475.8h-10M832.6 391.9h-10M832.6 308h-10M832.6 224.1h-10M832.6 140.2h-10M832.6 56.3h-10M832.6 517.75h-5.3M832.6 433.85h-5.3M832.6 349.95h-5.3M832.6 266.05h-5.3M832.6 182.15h-5.3M832.6 98.25h-5.3" stroke="#000" stroke-width="2" fill="none"/>
<text class="sf" x="869.64" y="575" font-size="32" text-anchor="middle">20</text>
<text class="sf" x="943.73" y="575" font-size="32" text-anchor="middle">40</text>
<text class="sf" x="1017.82" y="575" font-size="32" text-anchor="middle">60</text>
<text class="sf" x="1091.91" y="575" font-size="32" text-anchor="middle">80</text>
<text class="sf" x="1165.99" y="575" font-size="32" text-anchor="middle">100</text>
<text class="sf" x="1240.08" y="575" font-size="32" text-anchor="middle">120</text>
<text class="sf" x="1314.17" y="575" font-size="32" text-anchor="middle">140</text>
<text class="sf" x="1388.26" y="575" font-size="32" text-anchor="middle">160</text>
<text class="sf" x="817" y="485.5" font-size="32" text-anchor="end">0.1</text>
<text class="sf" x="817" y="401.6" font-size="32" text-anchor="end">0.2</text>
<text class="sf" x="817" y="317.7" font-size="32" text-anchor="end">0.3</text>
<text class="sf" x="817" y="233.8" font-size="32" text-anchor="end">0.4</text>
<text class="sf" x="817" y="149.9" font-size="32" text-anchor="end">0.5</text>
<text class="sf" x="817" y="66" font-size="32" text-anchor="end">0.6</text>
<text class="sf" x="1128" y="616.3" font-size="40.4" text-anchor="middle">NADPH (µM)</text>
<text class="sf" x="763" y="293.8" font-size="40.9" text-anchor="middle" transform="rotate(-90 763 293.8)">Absorbance (a.u.)</text>
<text class="sf" x="719.5" y="39" font-size="55.5">B</text>
<text class="sf" x="859.5" y="93" font-size="31.9">y=0.00113+0.00332x</text>
<text class="sn" x="1319" y="96" font-size="34.2">n=3</text>
<text class="sf" x="1129" y="345.2" font-size="35.7">R<tspan font-size="25" dy="-14.7">2</tspan><tspan dy="14.7">=0.9992</tspan></text>
<defs>
<clipPath id="cpC"><rect x="1539.3" y="44.3" width="597.9" height="480.5"/></clipPath>
</defs>
<path d="M1585.34,-7.88 1585.5,-5.49 1585.66,-3.1 1585.83,-0.71 1586,1.68 1586.18,4.07 1586.36,6.46 1586.54,8.85 1586.72,11.23 1586.91,13.62 1587.1,16 1587.3,18.38 1587.5,20.76 1587.7,23.14 1587.9,25.51 1588.11,27.88 1588.32,30.25 1588.53,32.62 1588.74,34.98 1588.96,37.34 1589.18,39.7 1589.4,42.06 1589.62,44.41 1589.85,46.76 1590.07,49.1 1590.3,51.44 1590.53,53.78 1590.77,56.11 1591,58.44 1591.24,60.76 1591.48,63.08 1591.72,65.4 1591.96,67.71 1592.2,70.02 1592.45,72.32 1592.69,74.62 1592.94,76.91 1593.18,79.19 1593.43,81.47 1593.68,83.75 1593.93,86.02 1594.18,88.28 1594.44,90.54 1594.69,92.79 1594.94,95.03 1595.19,97.27 1595.45,99.5 1595.7,101.73 1595.96,103.95 1596.21,106.16 1596.47,108.36 1596.72,110.56 1596.98,112.75 1597.23,114.93 1597.48,117.11 1597.74,119.28 1597.99,121.44 1598.24,123.59 1598.5,125.73 1598.75,127.87 1599,129.99 1599.25,132.11 1599.5,134.22 1599.75,136.32 1600,138.41 1600.25,140.5 1600.5,142.58 1600.74,144.65 1600.99,146.71 1601.24,148.76 1601.49,150.81 1601.73,152.86 1601.98,154.89 1602.23,156.92 1602.48,158.95 1602.73,160.97 1602.98,162.98 1603.23,164.99 1603.48,167 1603.73,169 1603.98,171 1604.24,172.99 1604.49,174.98 1604.75,176.96 1605.01,178.95 1605.27,180.93 1605.53,182.9 1605.8,184.88 1606.06,186.85 1606.33,188.82 1606.6,190.79 1606.87,192.76 1607.15,194.73 1607.43,196.7 1607.71,198.66 1607.99,200.63 1608.28,202.59 1608.56,204.56 1608.86,206.53 1609.15,208.5 1609.45,210.46 1609.75,212.44 1610.06,214.41 1610.37,216.39 1610.69,218.37 1611.01,220.35 1611.34,222.34 1611.67,224.33 1612.01,226.32 1612.35,228.33 1612.7,230.33 1613.06,232.35 1613.43,234.37 1613.8,236.39 1614.18,238.43 1614.56,240.47 1614.96,242.52 1615.36,244.57 1615.77,246.63 1616.19,248.7 1616.62,250.77 1617.06,252.85 1617.51,254.92 1617.96,257 1618.43,259.09 1618.9,261.17 1619.39,263.26 1619.88,265.34 1620.39,267.42 1620.9,269.5 1621.43,271.58 1621.97,273.66 1622.51,275.73 1623.07,277.8 1623.64,279.86 1624.22,281.92 1624.82,283.97 1625.42,286.01 1626.04,288.04 1626.67,290.07 1627.31,292.08 1627.96,294.09 1628.63,296.09 1629.31,298.07 1630,300.04 1630.71,302 1631.43,303.94 1632.16,305.87 1632.91,307.79 1633.67,309.69 1634.45,311.57 1635.24,313.44 1636.04,315.29 1636.86,317.11 1637.7,318.92 1638.55,320.71 1639.41,322.48 1640.29,324.23 1641.19,325.96 1642.1,327.66 1643.03,329.34 1643.97,331 1644.93,332.63 1645.91,334.23 1646.91,335.81 1647.92,337.36 1648.95,338.89 1649.99,340.38 1651.06,341.85 1652.14,343.28 1653.24,344.69 1654.35,346.07 1655.49,347.42 1656.64,348.74 1657.8,350.03 1658.98,351.3 1660.18,352.55 1661.4,353.77 1662.62,354.97 1663.87,356.15 1665.12,357.3 1666.39,358.44 1667.68,359.56 1668.97,360.66 1670.28,361.74 1671.6,362.8 1672.93,363.86 1674.28,364.89 1675.63,365.92 1677,366.93 1678.38,367.93 1679.76,368.92 1681.16,369.89 1682.56,370.86 1683.98,371.83 1685.4,372.78 1686.83,373.73 1688.26,374.68 1689.71,375.62 1691.16,376.56 1692.62,377.49 1694.09,378.43 1695.56,379.36 1697.04,380.28 1698.53,381.21 1700.03,382.13 1701.53,383.05 1703.05,383.97 1704.57,384.89 1706.1,385.8 1707.65,386.71 1709.2,387.62 1710.76,388.53 1712.34,389.43 1713.92,390.34 1715.52,391.24 1717.12,392.14 1718.74,393.04 1720.37,393.93 1722.02,394.83 1723.67,395.72 1725.34,396.61 1727.02,397.5 1728.72,398.38 1730.43,399.27 1732.15,400.15 1733.89,401.04 1735.64,401.92 1737.41,402.8 1739.19,403.68 1740.99,404.55 1742.8,405.43 1744.63,406.3 1746.47,407.18 1748.34,408.05 1750.21,408.92 1752.11,409.79 1754.02,410.66 1755.96,411.53 1757.9,412.39 1759.87,413.26 1761.86,414.12 1763.86,414.99 1765.89,415.85 1767.93,416.71 1770,417.57 1772.08,418.44 1774.18,419.3 1776.31,420.16 1778.45,421.02 1780.62,421.87 1782.81,422.73 1785.02,423.59 1787.25,424.45 1789.5,425.3 1791.77,426.16 1794.06,427.01 1796.36,427.86 1798.69,428.71 1801.03,429.55 1803.39,430.4 1805.76,431.24 1808.15,432.07 1810.56,432.91 1812.98,433.74 1815.41,434.57 1817.86,435.39 1820.32,436.21 1822.8,437.03 1825.28,437.84 1827.78,438.64 1830.29,439.44 1832.81,440.24 1835.34,441.03 1837.88,441.81 1840.43,442.59 1842.98,443.36 1845.55,444.13 1848.12,444.89 1850.7,445.64 1853.29,446.38 1855.88,447.12 1858.48,447.85 1861.08,448.58 1863.69,449.29 1866.3,450 1868.91,450.69 1871.53,451.38 1874.15,452.06 1876.77,452.73 1879.39,453.4 1882.02,454.05 1884.64,454.69 1887.27,455.32 1889.89,455.94 1892.51,456.56 1895.13,457.16 1897.75,457.75 1900.36,458.32 1902.98,458.89 1905.59,459.45 1908.19,460 1910.8,460.53 1913.4,461.06 1916,461.57 1918.6,462.07 1921.2,462.57 1923.79,463.05 1926.38,463.53 1928.98,463.99 1931.57,464.45 1934.16,464.89 1936.75,465.33 1939.33,465.75 1941.92,466.17 1944.5,466.58 1947.09,466.98 1949.67,467.38 1952.26,467.76 1954.84,468.13 1957.43,468.5 1960.01,468.86 1962.6,469.21 1965.18,469.56 1967.77,469.89 1970.35,470.22 1972.94,470.54 1975.52,470.86 1978.11,471.16 1980.7,471.47 1983.29,471.76 1985.88,472.05 1988.48,472.33 1991.07,472.6 1993.67,472.87 1996.26,473.13 1998.86,473.39 2001.47,473.64 2004.07,473.88 2006.68,474.12 2009.29,474.36 2011.9,474.58 2014.51,474.81 2017.13,475.03 2019.75,475.24 2022.37,475.45 2024.99,475.65 2027.61,475.85 2030.23,476.05 2032.84,476.24 2035.45,476.43 2038.05,476.61 2040.63,476.78 2043.21,476.96 2045.78,477.12 2048.32,477.29 2050.86,477.45 2053.37,477.6 2055.87,477.75 2058.34,477.89 2060.79,478.03 2063.21,478.17 2065.61,478.3 2067.98,478.43 2070.32,478.55 2072.63,478.67 2074.91,478.79 2077.15,478.9 2079.35,479 2081.53,479.1 2083.67,479.2 2085.78,479.3 2087.85,479.39 2089.9,479.47 2091.92,479.56 2093.92,479.63 2095.89,479.71 2097.83,479.78 2099.75,479.85 2101.65,479.92 2103.53,479.98 2105.39,480.04 2107.23,480.1 2109.06,480.16 2110.87,480.21 2112.66,480.26 2114.44,480.31 2116.21,480.36 2117.97,480.4 2119.71,480.44 2121.45,480.49 2123.18,480.52 2124.9,480.56 2126.62,480.6 2128.34,480.63 2130.05,480.67 2131.76,480.7 2133.47,480.73 2135.18,480.76 2136.89,480.79" fill="none" stroke="#4d4d4d" stroke-width="3.3" stroke-linejoin="round" stroke-linecap="butt" clip-path="url(#cpC)"/>
<path d="M1585.33,-7.91 1585.5,-5.49 1585.67,-3.08 1585.84,-0.66 1586.02,1.75 1586.2,4.15 1586.38,6.56 1586.57,8.95 1586.75,11.35 1586.94,13.73 1587.14,16.12 1587.33,18.5 1587.53,20.88 1587.73,23.25 1587.93,25.62 1588.14,27.98 1588.34,30.34 1588.55,32.69 1588.76,35.04 1588.98,37.39 1589.19,39.73 1589.41,42.07 1589.63,44.4 1589.85,46.72 1590.08,49.05 1590.3,51.37 1590.53,53.68 1590.76,55.99 1590.99,58.29 1591.22,60.59 1591.45,62.89 1591.69,65.18 1591.93,67.46 1592.16,69.74 1592.4,72.02 1592.64,74.29 1592.89,76.55 1593.13,78.81 1593.37,81.07 1593.62,83.32 1593.86,85.56 1594.11,87.81 1594.36,90.04 1594.61,92.27 1594.86,94.5 1595.11,96.72 1595.36,98.93 1595.61,101.14 1595.87,103.34 1596.12,105.54 1596.37,107.74 1596.63,109.93 1596.88,112.11 1597.14,114.29 1597.39,116.46 1597.65,118.62 1597.9,120.79 1598.16,122.94 1598.42,125.09 1598.67,127.24 1598.93,129.38 1599.19,131.51 1599.44,133.64 1599.7,135.76 1599.95,137.88 1600.21,139.98 1600.46,142.09 1600.72,144.19 1600.97,146.28 1601.23,148.36 1601.48,150.43 1601.74,152.5 1601.99,154.56 1602.25,156.62 1602.5,158.66 1602.75,160.7 1603.01,162.73 1603.26,164.75 1603.51,166.76 1603.77,168.76 1604.02,170.76 1604.27,172.74 1604.52,174.72 1604.78,176.68 1605.03,178.64 1605.28,180.59 1605.53,182.54 1605.79,184.48 1606.04,186.42 1606.3,188.36 1606.56,190.29 1606.82,192.23 1607.08,194.16 1607.34,196.1 1607.61,198.04 1607.88,199.98 1608.15,201.93 1608.43,203.89 1608.71,205.85 1608.99,207.82 1609.28,209.79 1609.57,211.77 1609.86,213.75 1610.16,215.74 1610.47,217.73 1610.78,219.73 1611.1,221.73 1611.42,223.74 1611.75,225.75 1612.09,227.77 1612.43,229.79 1612.78,231.81 1613.14,233.84 1613.51,235.87 1613.89,237.9 1614.27,239.94 1614.66,241.98 1615.07,244.03 1615.48,246.08 1615.9,248.12 1616.33,250.17 1616.77,252.22 1617.22,254.27 1617.68,256.32 1618.16,258.36 1618.64,260.4 1619.13,262.44 1619.63,264.48 1620.15,266.51 1620.67,268.54 1621.21,270.56 1621.76,272.58 1622.32,274.59 1622.89,276.59 1623.48,278.59 1624.07,280.58 1624.68,282.55 1625.3,284.52 1625.94,286.48 1626.58,288.43 1627.24,290.37 1627.92,292.29 1628.61,294.2 1629.31,296.1 1630.02,297.98 1630.75,299.85 1631.49,301.71 1632.25,303.55 1633.02,305.37 1633.81,307.18 1634.61,308.97 1635.42,310.74 1636.25,312.49 1637.1,314.22 1637.96,315.94 1638.84,317.63 1639.73,319.3 1640.64,320.95 1641.56,322.58 1642.51,324.18 1643.46,325.77 1644.44,327.32 1645.43,328.85 1646.44,330.36 1647.47,331.84 1648.51,333.3 1649.57,334.72 1650.65,336.12 1651.75,337.49 1652.86,338.84 1653.99,340.15 1655.14,341.44 1656.31,342.7 1657.49,343.93 1658.69,345.15 1659.9,346.33 1661.13,347.5 1662.38,348.64 1663.63,349.76 1664.91,350.87 1666.19,351.95 1667.49,353.01 1668.8,354.06 1670.13,355.09 1671.46,356.11 1672.81,357.11 1674.17,358.1 1675.53,359.08 1676.91,360.05 1678.3,361 1679.7,361.94 1681.1,362.88 1682.52,363.81 1683.94,364.73 1685.37,365.64 1686.81,366.55 1688.25,367.46 1689.7,368.36 1691.16,369.26 1692.62,370.16 1694.09,371.05 1695.57,371.95 1697.05,372.84 1698.54,373.73 1700.03,374.62 1701.53,375.51 1703.05,376.4 1704.57,377.28 1706.1,378.16 1707.63,379.05 1709.18,379.93 1710.74,380.81 1712.3,381.69 1713.88,382.57 1715.47,383.45 1717.07,384.33 1718.68,385.2 1720.3,386.08 1721.93,386.96 1723.58,387.83 1725.24,388.71 1726.91,389.59 1728.59,390.46 1730.29,391.34 1732,392.21 1733.73,393.09 1735.47,393.96 1737.22,394.84 1738.99,395.71 1740.78,396.59 1742.58,397.47 1744.4,398.34 1746.23,399.22 1748.08,400.1 1749.95,400.98 1751.84,401.86 1753.74,402.74 1755.66,403.62 1757.6,404.5 1759.56,405.39 1761.53,406.27 1763.53,407.16 1765.55,408.05 1767.58,408.94 1769.64,409.83 1771.71,410.72 1773.81,411.61 1775.93,412.51 1778.07,413.4 1780.23,414.3 1782.42,415.2 1784.62,416.11 1786.85,417.01 1789.1,417.92 1791.36,418.82 1793.65,419.73 1795.95,420.64 1798.27,421.54 1800.61,422.45 1802.96,423.36 1805.33,424.26 1807.72,425.17 1810.12,426.08 1812.53,426.98 1814.95,427.88 1817.39,428.78 1819.84,429.68 1822.29,430.57 1824.76,431.47 1827.24,432.36 1829.73,433.25 1832.22,434.13 1834.72,435.01 1837.23,435.89 1839.74,436.76 1842.26,437.63 1844.78,438.49 1847.31,439.35 1849.85,440.2 1852.39,441.05 1854.93,441.89 1857.48,442.72 1860.03,443.55 1862.58,444.37 1865.14,445.18 1867.7,445.99 1870.27,446.78 1872.84,447.57 1875.41,448.34 1877.98,449.11 1880.56,449.87 1883.13,450.62 1885.71,451.35 1888.29,452.08 1890.88,452.79 1893.46,453.5 1896.04,454.19 1898.63,454.86 1901.21,455.53 1903.8,456.18 1906.38,456.82 1908.97,457.45 1911.56,458.07 1914.14,458.67 1916.73,459.26 1919.32,459.84 1921.91,460.41 1924.5,460.97 1927.09,461.51 1929.68,462.05 1932.27,462.57 1934.86,463.08 1937.45,463.59 1940.04,464.08 1942.63,464.56 1945.22,465.03 1947.81,465.49 1950.4,465.94 1952.99,466.38 1955.59,466.82 1958.18,467.24 1960.77,467.65 1963.36,468.05 1965.96,468.45 1968.55,468.84 1971.14,469.21 1973.73,469.58 1976.33,469.94 1978.92,470.29 1981.51,470.63 1984.11,470.97 1986.7,471.3 1989.29,471.62 1991.89,471.93 1994.48,472.23 1997.07,472.53 1999.67,472.82 2002.26,473.1 2004.85,473.38 2007.45,473.65 2010.04,473.91 2012.63,474.17 2015.22,474.42 2017.82,474.66 2020.41,474.9 2023,475.14 2025.59,475.36 2028.17,475.58 2030.75,475.8 2033.33,476.01 2035.89,476.21 2038.45,476.41 2041,476.6 2043.53,476.79 2046.06,476.97 2048.56,477.15 2051.06,477.32 2053.53,477.48 2055.99,477.64 2058.43,477.8 2060.85,477.95 2063.25,478.1 2065.63,478.24 2067.98,478.37 2070.3,478.5 2072.6,478.63 2074.87,478.75 2077.11,478.87 2079.32,478.98 2081.5,479.09 2083.66,479.19 2085.78,479.29 2087.88,479.38 2089.96,479.47 2092,479.56 2094.03,479.64 2096.02,479.72 2098,479.8 2099.95,479.87 2101.87,479.94 2103.78,480.01 2105.66,480.07 2107.52,480.13 2109.36,480.18 2111.18,480.24 2112.99,480.29 2114.77,480.34 2116.54,480.38 2118.29,480.43 2120.03,480.47 2121.75,480.51 2123.46,480.54 2125.17,480.58 2126.86,480.61 2128.54,480.65 2130.21,480.68 2131.88,480.71 2133.54,480.73 2135.19,480.76 2136.84,480.79" fill="none" stroke="#e8373a" stroke-width="3.3" stroke-linejoin="round" stroke-linecap="butt" clip-path="url(#cpC)"/>
<path d="M1585.34,-7.88 1585.5,-5.49 1585.66,-3.1 1585.83,-0.71 1586,1.68 1586.18,4.07 1586.36,6.46 1586.54,8.85 1586.72,11.23 1586.91,13.62 1587.1,16 1587.3,18.38 1587.5,20.76 1587.7,23.14 1587.9,25.51 1588.11,27.88 1588.32,30.25 1588.53,32.62 1588.74,34.98 1588.96,37.34 1589.18,39.7 1589.4,42.06 1589.62,44.41 1589.85,46.76 1590.07,49.1 1590.3,51.44 1590.53,53.78 1590.77,56.11 1591,58.44 1591.24,60.76 1591.48,63.08 1591.72,65.4 1591.96,67.71 1592.2,70.02 1592.45,72.32 1592.69,74.62 1592.94,76.91 1593.18,79.19 1593.43,81.47 1593.68,83.75 1593.93,86.02 1594.18,88.28 1594.44,90.54 1594.69,92.79 1594.94,95.03 1595.19,97.27 1595.45,99.5 1595.7,101.73 1595.96,103.95 1596.21,106.16 1596.47,108.36 1596.72,110.56 1596.98,112.75 1597.23,114.93 1597.48,117.11 1597.74,119.28 1597.99,121.44 1598.24,123.59 1598.5,125.73 1598.75,127.87 1599,129.99 1599.25,132.11 1599.5,134.22 1599.75,136.32 1600,138.41 1600.25,140.5 1600.5,142.58 1600.74,144.65 1600.99,146.71 1601.24,148.76 1601.49,150.81 1601.73,152.86 1601.98,154.89 1602.23,156.92 1602.48,158.95 1602.73,160.97 1602.98,162.98 1603.23,164.99 1603.48,167 1603.73,169 1603.98,171 1604.24,172.99 1604.49,174.98 1604.75,176.96 1605.01,178.95 1605.27,180.93 1605.53,182.9 1605.8,184.88 1606.06,186.85 1606.33,188.82 1606.6,190.79 1606.87,192.76 1607.15,194.73 1607.43,196.7 1607.71,198.66 1607.99,200.63 1608.28,202.59 1608.56,204.56 1608.86,206.53 1609.15,208.5 1609.45,210.46 1609.75,212.44 1610.06,214.41 1610.37,216.39 1610.69,218.37 1611.01,220.35 1611.34,222.34 1611.67,224.33 1612.01,226.32 1612.35,228.33 1612.7,230.33 1613.06,232.35 1613.43,234.37 1613.8,236.39 1614.18,238.43 1614.56,240.47 1614.96,242.52 1615.36,244.57 1615.77,246.63 1616.19,248.7 1616.62,250.77 1617.06,252.85 1617.51,254.92 1617.96,257 1618.43,259.09 1618.9,261.17 1619.39,263.26 1619.88,265.34 1620.39,267.42 1620.9,269.5 1621.43,271.58 1621.97,273.66 1622.51,275.73 1623.07,277.8 1623.64,279.86 1624.22,281.92 1624.82,283.97 1625.42,286.01 1626.04,288.04 1626.67,290.07 1627.31,292.08 1627.96,294.09 1628.63,296.09 1629.31,298.07 1630,300.04 1630.71,302 1631.43,303.94 1632.16,305.87 1632.91,307.79 1633.67,309.69 1634.45,311.57 1635.24,313.44 1636.04,315.29 1636.86,317.11 1637.7,318.92 1638.55,320.71 1639.41,322.48 1640.29,324.23 1641.19,325.96 1642.1,327.66 1643.03,329.34 1643.97,331 1644.93,332.63 1645.91,334.23 1646.91,335.81 1647.92,337.36 1648.95,338.89 1649.99,340.38 1651.06,341.85 1652.14,343.28 1653.24,344.69 1654.35,346.07 1655.49,347.42 1656.64,348.74 1657.8,350.03 1658.98,351.3 1660.18,352.55 1661.4,353.77 1662.62,354.97 1663.87,356.15 1665.12,357.3 1666.39,358.44 1667.68,359.56 1668.97,360.66 1670.28,361.74 1671.6,362.8 1672.93,363.86 1674.28,364.89 1675.63,365.92 1677,366.93 1678.38,367.93 1679.76,368.92 1681.16,369.89 1682.56,370.86 1683.98,371.83 1685.4,372.78 1686.83,373.73 1688.26,374.68 1689.71,375.62 1691.16,376.56 1692.62,377.49 1694.09,378.43 1695.56,379.36 1697.04,380.28 1698.53,381.21 1700.03,382.13 1701.53,383.05 1703.05,383.97 1704.57,384.89 1706.1,385.8 1707.65,386.71 1709.2,387.62 1710.76,388.53 1712.34,389.43 1713.92,390.34 1715.52,391.24 1717.12,392.14 1718.74,393.04 1720.37,393.93 1722.02,394.83 1723.67,395.72 1725.34,396.61 1727.02,397.5 1728.72,398.38 1730.43,399.27 1732.15,400.15 1733.89,401.04 1735.64,401.92 1737.41,402.8 1739.19,403.68 1740.99,404.55 1742.8,405.43 1744.63,406.3 1746.47,407.18 1748.34,408.05 1750.21,408.92 1752.11,409.79 1754.02,410.66 1755.96,411.53 1757.9,412.39 1759.87,413.26 1761.86,414.12 1763.86,414.99 1765.89,415.85 1767.93,416.71 1770,417.57 1772.08,418.44 1774.18,419.3 1776.31,420.16 1778.45,421.02 1780.62,421.87 1782.81,422.73 1785.02,423.59 1787.25,424.45 1789.5,425.3 1791.77,426.16 1794.06,427.01 1796.36,427.86 1798.69,428.71 1801.03,429.55 1803.39,430.4 1805.76,431.24 1808.15,432.07 1810.56,432.91 1812.98,433.74 1815.41,434.57 1817.86,435.39 1820.32,436.21 1822.8,437.03 1825.28,437.84 1827.78,438.64 1830.29,439.44 1832.81,440.24 1835.34,441.03 1837.88,441.81 1840.43,442.59 1842.98,443.36 1845.55,444.13 1848.12,444.89 1850.7,445.64 1853.29,446.38 1855.88,447.12 1858.48,447.85 1861.08,448.58 1863.69,449.29 1866.3,450 1868.91,450.69 1871.53,451.38 1874.15,452.06 1876.77,452.73 1879.39,453.4 1882.02,454.05 1884.64,454.69 1887.27,455.32 1889.89,455.94 1892.51,456.56 1895.13,457.16 1897.75,457.75 1900.36,458.32 1902.98,458.89 1905.59,459.45 1908.19,460 1910.8,460.53 1913.4,461.06 1916,461.57 1918.6,462.07 1921.2,462.57 1923.79,463.05 1926.38,463.53 1928.98,463.99 1931.57,464.45 1934.16,464.89 1936.75,465.33 1939.33,465.75 1941.92,466.17 1944.5,466.58 1947.09,466.98 1949.67,467.38 1952.26,467.76 1954.84,468.13 1957.43,468.5 1960.01,468.86 1962.6,469.21 1965.18,469.56 1967.77,469.89 1970.35,470.22 1972.94,470.54 1975.52,470.86 1978.11,471.16 1980.7,471.47 1983.29,471.76 1985.88,472.05 1988.48,472.33 1991.07,472.6 1993.67,472.87 1996.26,473.13 1998.86,473.39 2001.47,473.64 2004.07,473.88 2006.68,474.12 2009.29,474.36 2011.9,474.58 2014.51,474.81 2017.13,475.03 2019.75,475.24 2022.37,475.45 2024.99,475.65 2027.61,475.85 2030.23,476.05 2032.84,476.24 2035.45,476.43 2038.05,476.61 2040.63,476.78 2043.21,476.96 2045.78,477.12 2048.32,477.29 2050.86,477.45 2053.37,477.6 2055.87,477.75 2058.34,477.89 2060.79,478.03 2063.21,478.17 2065.61,478.3 2067.98,478.43 2070.32,478.55 2072.63,478.67 2074.91,478.79 2077.15,478.9 2079.35,479 2081.53,479.1 2083.67,479.2 2085.78,479.3 2087.85,479.39 2089.9,479.47 2091.92,479.56 2093.92,479.63 2095.89,479.71 2097.83,479.78 2099.75,479.85 2101.65,479.92 2103.53,479.98 2105.39,480.04 2107.23,480.1 2109.06,480.16 2110.87,480.21 2112.66,480.26 2114.44,480.31 2116.21,480.36 2117.97,480.4 2119.71,480.44 2121.45,480.49 2123.18,480.52 2124.9,480.56 2126.62,480.6 2128.34,480.63 2130.05,480.67 2131.76,480.7 2133.47,480.73 2135.18,480.76 2136.89,480.79" fill="none" stroke="#3f78e0" stroke-width="3.3" stroke-linejoin="round" stroke-linecap="butt" clip-path="url(#cpC)"/>
<path d="M1585.33,-7.91 1585.5,-5.49 1585.67,-3.07 1585.84,-0.66 1586.02,1.75 1586.2,4.16 1586.38,6.56 1586.57,8.96 1586.75,11.35 1586.94,13.74 1587.14,16.12 1587.33,18.5 1587.53,20.88 1587.73,23.25 1587.93,25.62 1588.14,27.98 1588.34,30.34 1588.55,32.7 1588.76,35.05 1588.98,37.39 1589.19,39.74 1589.41,42.07 1589.63,44.4 1589.85,46.73 1590.08,49.06 1590.3,51.37 1590.53,53.69 1590.76,56 1590.99,58.3 1591.22,60.6 1591.46,62.9 1591.69,65.19 1591.93,67.47 1592.17,69.75 1592.4,72.03 1592.65,74.3 1592.89,76.56 1593.13,78.83 1593.37,81.08 1593.62,83.33 1593.87,85.58 1594.11,87.82 1594.36,90.05 1594.61,92.29 1594.86,94.51 1595.11,96.73 1595.36,98.95 1595.62,101.16 1595.87,103.36 1596.12,105.56 1596.38,107.75 1596.63,109.94 1596.88,112.13 1597.14,114.3 1597.4,116.48 1597.65,118.64 1597.91,120.81 1598.16,122.96 1598.42,125.11 1598.67,127.26 1598.93,129.4 1599.19,131.53 1599.44,133.66 1599.7,135.78 1599.95,137.9 1600.21,140.01 1600.46,142.12 1600.72,144.21 1600.97,146.3 1601.23,148.39 1601.48,150.46 1601.74,152.53 1601.99,154.59 1602.25,156.65 1602.5,158.69 1602.75,160.73 1603.01,162.76 1603.26,164.78 1603.51,166.79 1603.77,168.79 1604.02,170.79 1604.27,172.77 1604.53,174.75 1604.78,176.71 1605.03,178.67 1605.28,180.62 1605.54,182.57 1605.79,184.51 1606.05,186.45 1606.3,188.38 1606.56,190.32 1606.82,192.25 1607.09,194.19 1607.35,196.12 1607.62,198.06 1607.89,200.01 1608.16,201.95 1608.44,203.91 1608.72,205.87 1609,207.83 1609.29,209.81 1609.58,211.78 1609.87,213.76 1610.17,215.75 1610.48,217.74 1610.79,219.74 1611.11,221.74 1611.43,223.75 1611.76,225.76 1612.1,227.78 1612.45,229.8 1612.8,231.82 1613.16,233.85 1613.52,235.89 1613.9,237.92 1614.28,239.96 1614.68,242.01 1615.08,244.05 1615.49,246.1 1615.91,248.15 1616.34,250.2 1616.78,252.26 1617.23,254.31 1617.69,256.36 1618.16,258.41 1618.64,260.46 1619.14,262.5 1619.64,264.54 1620.15,266.58 1620.68,268.61 1621.21,270.64 1621.76,272.66 1622.32,274.68 1622.89,276.69 1623.47,278.69 1624.07,280.68 1624.67,282.66 1625.29,284.64 1625.93,286.6 1626.57,288.56 1627.23,290.5 1627.9,292.43 1628.59,294.35 1629.29,296.25 1630,298.14 1630.73,300.02 1631.47,301.88 1632.22,303.72 1632.99,305.55 1633.78,307.37 1634.58,309.16 1635.39,310.94 1636.22,312.7 1637.06,314.44 1637.92,316.15 1638.8,317.85 1639.69,319.53 1640.6,321.19 1641.52,322.82 1642.46,324.43 1643.42,326.01 1644.39,327.58 1645.38,329.11 1646.39,330.63 1647.41,332.11 1648.46,333.57 1649.52,335 1650.59,336.4 1651.69,337.78 1652.8,339.13 1653.93,340.44 1655.08,341.73 1656.25,343 1657.43,344.23 1658.63,345.45 1659.84,346.64 1661.07,347.8 1662.31,348.95 1663.57,350.07 1664.84,351.17 1666.13,352.26 1667.42,353.33 1668.74,354.37 1670.06,355.41 1671.39,356.42 1672.74,357.43 1674.1,358.42 1675.47,359.39 1676.84,360.36 1678.23,361.31 1679.63,362.26 1681.04,363.19 1682.45,364.12 1683.87,365.04 1685.3,365.95 1686.74,366.86 1688.18,367.77 1689.63,368.67 1691.09,369.57 1692.55,370.46 1694.02,371.36 1695.5,372.25 1696.98,373.15 1698.47,374.04 1699.96,374.93 1701.47,375.81 1702.98,376.7 1704.5,377.59 1706.03,378.47 1707.56,379.35 1709.11,380.24 1710.67,381.12 1712.23,382 1713.81,382.88 1715.4,383.76 1717,384.63 1718.61,385.51 1720.23,386.39 1721.86,387.26 1723.51,388.14 1725.16,389.02 1726.84,389.89 1728.52,390.77 1730.22,391.64 1731.93,392.52 1733.65,393.39 1735.39,394.27 1737.15,395.14 1738.92,396.02 1740.7,396.9 1742.51,397.77 1744.32,398.65 1746.16,399.53 1748.01,400.41 1749.87,401.28 1751.76,402.16 1753.66,403.04 1755.58,403.93 1757.52,404.81 1759.48,405.69 1761.46,406.58 1763.45,407.46 1765.47,408.35 1767.5,409.24 1769.56,410.13 1771.63,411.02 1773.73,411.91 1775.85,412.8 1777.99,413.7 1780.15,414.6 1782.34,415.5 1784.54,416.4 1786.77,417.3 1789.02,418.2 1791.28,419.11 1793.57,420.01 1795.87,420.92 1798.19,421.82 1800.53,422.73 1802.89,423.63 1805.26,424.54 1807.64,425.44 1810.04,426.34 1812.45,427.24 1814.88,428.14 1817.31,429.04 1819.76,429.93 1822.22,430.83 1824.69,431.72 1827.17,432.61 1829.65,433.49 1832.15,434.37 1834.65,435.25 1837.16,436.13 1839.67,437 1842.19,437.86 1844.72,438.72 1847.25,439.58 1849.78,440.43 1852.32,441.27 1854.86,442.11 1857.41,442.94 1859.97,443.77 1862.52,444.59 1865.08,445.4 1867.64,446.2 1870.21,446.99 1872.78,447.77 1875.35,448.55 1877.92,449.32 1880.5,450.07 1883.08,450.82 1885.66,451.55 1888.24,452.27 1890.82,452.99 1893.4,453.69 1895.99,454.38 1898.57,455.05 1901.16,455.71 1903.75,456.37 1906.33,457 1908.92,457.63 1911.51,458.24 1914.09,458.84 1916.68,459.43 1919.27,460.01 1921.86,460.58 1924.45,461.13 1927.04,461.68 1929.63,462.21 1932.22,462.73 1934.81,463.24 1937.4,463.74 1939.99,464.23 1942.58,464.71 1945.18,465.18 1947.77,465.64 1950.36,466.09 1952.95,466.53 1955.55,466.96 1958.14,467.38 1960.73,467.79 1963.32,468.19 1965.92,468.58 1968.51,468.97 1971.1,469.34 1973.7,469.71 1976.29,470.06 1978.89,470.41 1981.48,470.75 1984.07,471.09 1986.67,471.41 1989.26,471.73 1991.85,472.04 1994.45,472.34 1997.04,472.64 1999.64,472.92 2002.23,473.2 2004.82,473.48 2007.42,473.75 2010.01,474.01 2012.6,474.26 2015.2,474.51 2017.79,474.75 2020.38,474.99 2022.98,475.22 2025.56,475.44 2028.15,475.66 2030.73,475.87 2033.31,476.08 2035.87,476.28 2038.43,476.47 2040.98,476.66 2043.51,476.85 2046.04,477.03 2048.55,477.2 2051.04,477.37 2053.52,477.53 2055.98,477.69 2058.42,477.84 2060.84,477.99 2063.24,478.14 2065.61,478.27 2067.96,478.41 2070.29,478.54 2072.59,478.66 2074.86,478.78 2077.1,478.89 2079.31,479 2081.49,479.11 2083.65,479.21 2085.78,479.31 2087.88,479.4 2089.95,479.49 2092,479.57 2094.02,479.66 2096.02,479.73 2097.99,479.81 2099.94,479.88 2101.87,479.95 2103.77,480.01 2105.65,480.07 2107.51,480.13 2109.36,480.18 2111.18,480.24 2112.98,480.29 2114.76,480.33 2116.53,480.38 2118.28,480.42 2120.02,480.46 2121.75,480.5 2123.46,480.54 2125.16,480.58 2126.85,480.61 2128.53,480.64 2130.21,480.67 2131.87,480.7 2133.53,480.73 2135.19,480.76 2136.84,480.79" fill="none" stroke="#000000" stroke-width="3.3" stroke-linejoin="round" stroke-linecap="butt" clip-path="url(#cpC)"/>
<path d="M1585.33,-7.92 1585.5,-5.49 1585.67,-3.08 1585.84,-0.66 1586.02,1.75 1586.2,4.15 1586.38,6.55 1586.57,8.95 1586.75,11.34 1586.94,13.73 1587.13,16.12 1587.33,18.5 1587.53,20.87 1587.73,23.24 1587.93,25.61 1588.14,27.98 1588.34,30.33 1588.55,32.69 1588.76,35.04 1588.98,37.38 1589.19,39.72 1589.41,42.06 1589.63,44.39 1589.85,46.72 1590.08,49.04 1590.3,51.36 1590.53,53.67 1590.76,55.98 1590.99,58.29 1591.22,60.58 1591.45,62.88 1591.69,65.17 1591.92,67.45 1592.16,69.73 1592.4,72.01 1592.64,74.28 1592.88,76.54 1593.13,78.8 1593.37,81.06 1593.62,83.31 1593.86,85.55 1594.11,87.79 1594.36,90.03 1594.61,92.26 1594.86,94.48 1595.11,96.7 1595.36,98.92 1595.61,101.13 1595.87,103.33 1596.12,105.53 1596.37,107.72 1596.63,109.91 1596.88,112.09 1597.14,114.27 1597.39,116.44 1597.65,118.61 1597.9,120.77 1598.16,122.93 1598.42,125.08 1598.67,127.22 1598.93,129.36 1599.18,131.49 1599.44,133.62 1599.7,135.74 1599.95,137.86 1600.21,139.97 1600.46,142.07 1600.72,144.16 1600.97,146.25 1601.23,148.34 1601.48,150.41 1601.74,152.48 1601.99,154.54 1602.25,156.59 1602.5,158.64 1602.75,160.68 1603.01,162.71 1603.26,164.73 1603.51,166.74 1603.77,168.74 1604.02,170.73 1604.27,172.72 1604.52,174.69 1604.77,176.66 1605.03,178.62 1605.28,180.57 1605.53,182.52 1605.79,184.46 1606.04,186.4 1606.3,188.34 1606.56,190.27 1606.82,192.21 1607.08,194.14 1607.34,196.08 1607.61,198.02 1607.88,199.97 1608.15,201.92 1608.42,203.87 1608.7,205.84 1608.98,207.8 1609.27,209.78 1609.56,211.75 1609.86,213.74 1610.16,215.73 1610.46,217.72 1610.77,219.72 1611.09,221.72 1611.41,223.73 1611.74,225.74 1612.08,227.76 1612.42,229.78 1612.77,231.8 1613.13,233.83 1613.5,235.86 1613.88,237.89 1614.26,239.93 1614.65,241.97 1615.06,244.01 1615.47,246.05 1615.89,248.1 1616.32,250.15 1616.76,252.19 1617.22,254.24 1617.68,256.28 1618.15,258.32 1618.63,260.36 1619.13,262.4 1619.63,264.43 1620.15,266.46 1620.67,268.49 1621.21,270.51 1621.76,272.52 1622.32,274.53 1622.89,276.53 1623.48,278.52 1624.08,280.5 1624.69,282.47 1625.31,284.44 1625.94,286.39 1626.59,288.33 1627.25,290.27 1627.93,292.19 1628.62,294.09 1629.32,295.99 1630.04,297.87 1630.76,299.73 1631.51,301.58 1632.27,303.42 1633.04,305.24 1633.83,307.04 1634.63,308.82 1635.45,310.59 1636.28,312.34 1637.12,314.07 1637.99,315.77 1638.87,317.46 1639.76,319.13 1640.67,320.78 1641.6,322.4 1642.54,324 1643.5,325.58 1644.48,327.13 1645.47,328.66 1646.48,330.16 1647.5,331.64 1648.55,333.09 1649.61,334.52 1650.69,335.91 1651.79,337.28 1652.9,338.62 1654.04,339.93 1655.19,341.22 1656.35,342.48 1657.54,343.71 1658.74,344.92 1659.95,346.11 1661.18,347.27 1662.43,348.41 1663.68,349.53 1664.96,350.63 1666.24,351.72 1667.54,352.78 1668.85,353.83 1670.18,354.86 1671.51,355.88 1672.86,356.88 1674.22,357.87 1675.59,358.85 1676.97,359.81 1678.35,360.77 1679.75,361.71 1681.16,362.65 1682.57,363.57 1683.99,364.5 1685.42,365.41 1686.86,366.32 1688.31,367.23 1689.76,368.13 1691.21,369.03 1692.67,369.93 1694.14,370.82 1695.62,371.72 1697.1,372.61 1698.59,373.5 1700.08,374.39 1701.59,375.28 1703.1,376.17 1704.62,377.05 1706.15,377.94 1707.69,378.82 1709.23,379.7 1710.79,380.58 1712.36,381.46 1713.93,382.34 1715.52,383.22 1717.12,384.1 1718.73,384.97 1720.35,385.85 1721.99,386.73 1723.63,387.6 1725.29,388.48 1726.96,389.35 1728.65,390.23 1730.34,391.11 1732.06,391.98 1733.78,392.86 1735.52,393.73 1737.28,394.61 1739.05,395.48 1740.84,396.36 1742.64,397.24 1744.45,398.11 1746.29,398.99 1748.14,399.87 1750.01,400.75 1751.89,401.63 1753.8,402.51 1755.72,403.39 1757.66,404.28 1759.61,405.16 1761.59,406.05 1763.59,406.93 1765.6,407.82 1767.64,408.71 1769.7,409.6 1771.77,410.5 1773.87,411.39 1775.99,412.29 1778.13,413.18 1780.29,414.08 1782.48,414.99 1784.68,415.89 1786.91,416.8 1789.16,417.7 1791.42,418.61 1793.71,419.52 1796.01,420.43 1798.33,421.34 1800.67,422.24 1803.02,423.15 1805.39,424.06 1807.78,424.97 1810.17,425.88 1812.59,426.78 1815.01,427.68 1817.45,428.59 1819.89,429.49 1822.35,430.38 1824.82,431.28 1827.3,432.17 1829.78,433.06 1832.27,433.95 1834.77,434.83 1837.28,435.71 1839.79,436.58 1842.31,437.45 1844.84,438.32 1847.36,439.18 1849.9,440.03 1852.44,440.88 1854.98,441.72 1857.53,442.56 1860.08,443.39 1862.63,444.21 1865.19,445.02 1867.75,445.83 1870.32,446.62 1872.88,447.41 1875.45,448.19 1878.03,448.96 1880.6,449.72 1883.18,450.47 1885.76,451.21 1888.34,451.93 1890.92,452.65 1893.5,453.35 1896.08,454.04 1898.67,454.72 1901.25,455.39 1903.84,456.04 1906.42,456.69 1909.01,457.32 1911.6,457.93 1914.18,458.54 1916.77,459.13 1919.36,459.71 1921.94,460.28 1924.53,460.84 1927.12,461.39 1929.71,461.93 1932.3,462.45 1934.89,462.97 1937.48,463.47 1940.07,463.96 1942.66,464.45 1945.25,464.92 1947.84,465.38 1950.43,465.83 1953.02,466.28 1955.62,466.71 1958.21,467.13 1960.8,467.55 1963.39,467.95 1965.98,468.35 1968.58,468.74 1971.17,469.12 1973.76,469.49 1976.35,469.85 1978.95,470.2 1981.54,470.55 1984.13,470.88 1986.73,471.21 1989.32,471.53 1991.91,471.85 1994.5,472.15 1997.1,472.45 1999.69,472.74 2002.28,473.03 2004.88,473.31 2007.47,473.58 2010.06,473.84 2012.65,474.1 2015.25,474.35 2017.84,474.6 2020.43,474.84 2023.02,475.08 2025.61,475.3 2028.19,475.53 2030.77,475.74 2033.34,475.95 2035.91,476.16 2038.47,476.36 2041.01,476.55 2043.55,476.74 2046.07,476.93 2048.58,477.11 2051.07,477.28 2053.55,477.45 2056.01,477.61 2058.44,477.77 2060.86,477.92 2063.26,478.07 2065.64,478.21 2067.99,478.34 2070.31,478.48 2072.61,478.61 2074.88,478.73 2077.12,478.85 2079.33,478.96 2081.51,479.07 2083.66,479.17 2085.79,479.27 2087.89,479.37 2089.96,479.46 2092.01,479.55 2094.03,479.64 2096.03,479.72 2098,479.79 2099.95,479.87 2101.88,479.94 2103.78,480 2105.66,480.07 2107.53,480.13 2109.37,480.18 2111.19,480.24 2112.99,480.29 2114.77,480.34 2116.54,480.39 2118.29,480.43 2120.03,480.47 2121.76,480.51 2123.47,480.55 2125.17,480.58 2126.86,480.62 2128.54,480.65 2130.21,480.68 2131.88,480.71 2133.54,480.74 2135.19,480.76 2136.84,480.79" fill="none" stroke="#a020f0" stroke-width="3.3" stroke-linejoin="round" stroke-linecap="butt" clip-path="url(#cpC)"/>
<line x1="1778" y1="294.8" x2="1778" y2="489.8" stroke="#000" stroke-width="1.5" stroke-dasharray="8.9 9.65"/>
<text class="sn" x="1786" y="284.2" font-size="36" text-anchor="middle">340</text>
<rect x="1539.3" y="44.3" width="597.9" height="480.5" fill="none" stroke="#000" stroke-width="2"/>
<path d="M1539.3 524.8v10M1658.88 524.8v10M1778.46 524.8v10M1898.04 524.8v10M2017.62 524.8v10M2137.2 524.8v10M1599.09 524.8v5.3M1718.67 524.8v5.3M1838.25 524.8v5.3M1957.83 524.8v5.3M2077.41 524.8v5.3" stroke="#000" stroke-width="2" fill="none"/>
<path d="M1539.3 480.8h-10M1539.3 393.5h-10M1539.3 306.2h-10M1539.3 218.9h-10M1539.3 131.6h-10M1539.3 44.3h-10M1539.3 524.45h-5.3M1539.3 437.15h-5.3M1539.3 349.85h-5.3M1539.3 262.55h-5.3M1539.3 175.25h-5.3M1539.3 87.95h-5.3" stroke="#000" stroke-width="2" fill="none"/>
<text class="sf" x="1539.3" y="566" font-size="32" text-anchor="middle">300</text>
<text class="sf" x="1658.88" y="566" font-size="32" text-anchor="middle">320</text>
<text class="sf" x="1778.46" y="566" font-size="32" text-anchor="middle">340</text>
<text class="sf" x="1898.04" y="566" font-size="32" text-anchor="middle">360</text>
<text class="sf" x="2017.62" y="566" font-size="32" text-anchor="middle">380</text>
<text class="sf" x="2137.2" y="566" font-size="32" text-anchor="middle">400</text>
<text class="sf" x="1523.2" y="490.3" font-size="32" text-anchor="end">0.0</text>
<text class="sf" x="1523.2" y="403" font-size="32" text-anchor="end">0.2</text>
<text class="sf" x="1523.2" y="315.7" font-size="32" text-anchor="end">0.4</text>
<text class="sf" x="1523.2" y="228.4" font-size="32" text-anchor="end">0.6</text>
<text class="sf" x="1523.2" y="141.1" font-size="32" text-anchor="end">0.8</text>
<text class="sf" x="1523.2" y="53.8" font-size="32" text-anchor="end">1.0</text>
<text class="sf" x="1839.2" y="610" font-size="41.15" text-anchor="middle">Wavelength (nm)</text>
<text class="sf" x="1475.7" y="284" font-size="40.8" text-anchor="middle" transform="rotate(-90 1475.7 284)">Absorbance (a.u.)</text>
<text class="sf" x="1431.7" y="39.1" font-size="60">C</text>
<line x1="1948.5" y1="71.6" x2="2004.5" y2="71.6" stroke="#555555" stroke-width="3.3" stroke-linecap="round"/>
<text class="sf" x="2019" y="80.7" font-size="36.2" fill="#808080">0 min</text>
<line x1="1948.5" y1="116.4" x2="2004.5" y2="116.4" stroke="#e8373a" stroke-width="3.3" stroke-linecap="round"/>
<text class="sf" x="2015" y="125.5" font-size="36.2" fill="#e8241a">15 min</text>
<line x1="1948.5" y1="160.7" x2="2004.5" y2="160.7" stroke="#3f78e0" stroke-width="3.3" stroke-linecap="round"/>
<text class="sf" x="2015" y="169.8" font-size="36.2" fill="#4a8fe8">30 min</text>
<line x1="1948.5" y1="206.3" x2="2004.5" y2="206.3" stroke="#000000" stroke-width="3.3" stroke-linecap="round"/>
<text class="sf" x="2015" y="215.4" font-size="36.2" fill="#000000">45 min</text>
<line x1="1948.5" y1="251.3" x2="2004.5" y2="251.3" stroke="#a020f0" stroke-width="3.3" stroke-linecap="round"/>
<text class="sf" x="2015" y="260.4" font-size="36.2" fill="#a030e0">60 min</text>
<defs>
<clipPath id="cpD"><rect x="106.5" y="648.8" width="601.9" height="484.4"/></clipPath>
</defs>
<path d="M152.82,596.05 152.94,598.64 153.06,601.23 153.19,603.8 153.33,606.36 153.47,608.91 153.62,611.45 153.78,613.98 153.94,616.5 154.1,619.01 154.28,621.51 154.45,624.01 154.63,626.49 154.82,628.96 155.01,631.43 155.21,633.88 155.41,636.33 155.62,638.77 155.83,641.2 156.04,643.63 156.26,646.04 156.49,648.45 156.71,650.85 156.94,653.24 157.17,655.63 157.41,658.01 157.65,660.38 157.89,662.74 158.14,665.1 158.39,667.46 158.64,669.8 158.89,672.14 159.15,674.48 159.4,676.81 159.66,679.13 159.93,681.45 160.19,683.76 160.45,686.07 160.72,688.37 160.99,690.67 161.26,692.96 161.52,695.25 161.79,697.54 162.07,699.82 162.34,702.1 162.61,704.37 162.88,706.65 163.15,708.91 163.43,711.18 163.7,713.44 163.97,715.7 164.24,717.96 164.51,720.21 164.78,722.46 165.05,724.71 165.32,726.96 165.59,729.21 165.85,731.45 166.12,733.69 166.38,735.93 166.64,738.18 166.9,740.42 167.16,742.65 167.41,744.89 167.67,747.13 167.92,749.36 168.17,751.6 168.43,753.83 168.68,756.06 168.93,758.29 169.18,760.52 169.43,762.75 169.68,764.97 169.93,767.19 170.18,769.42 170.44,771.64 170.69,773.86 170.94,776.07 171.2,778.29 171.45,780.5 171.71,782.71 171.97,784.92 172.23,787.13 172.49,789.33 172.75,791.54 173.02,793.74 173.29,795.94 173.56,798.13 173.83,800.33 174.11,802.52 174.39,804.71 174.67,806.89 174.96,809.08 175.25,811.26 175.54,813.44 175.84,815.61 176.14,817.79 176.44,819.96 176.75,822.12 177.06,824.29 177.38,826.45 177.7,828.61 178.03,830.77 178.36,832.92 178.7,835.07 179.04,837.22 179.39,839.36 179.74,841.5 180.1,843.64 180.47,845.77 180.84,847.9 181.22,850.03 181.61,852.15 182,854.27 182.4,856.39 182.8,858.5 183.21,860.61 183.63,862.72 184.06,864.82 184.5,866.91 184.94,869 185.39,871.09 185.86,873.17 186.33,875.24 186.81,877.3 187.3,879.36 187.8,881.41 188.31,883.46 188.83,885.49 189.37,887.52 189.91,889.53 190.47,891.54 191.04,893.54 191.62,895.53 192.21,897.51 192.82,899.48 193.44,901.43 194.07,903.38 194.72,905.31 195.38,907.23 196.05,909.14 196.74,911.04 197.45,912.92 198.17,914.79 198.91,916.64 199.66,918.48 200.43,920.31 201.21,922.12 202.02,923.91 202.84,925.69 203.67,927.45 204.53,929.2 205.4,930.93 206.29,932.64 207.2,934.33 208.13,936.01 209.08,937.67 210.05,939.3 211.03,940.92 212.04,942.52 213.07,944.1 214.12,945.66 215.19,947.2 216.28,948.72 217.4,950.22 218.53,951.69 219.69,953.15 220.87,954.58 222.07,955.99 223.29,957.38 224.53,958.75 225.8,960.1 227.08,961.43 228.38,962.74 229.69,964.04 231.03,965.31 232.38,966.57 233.75,967.81 235.14,969.03 236.54,970.24 237.96,971.43 239.4,972.61 240.84,973.77 242.3,974.92 243.78,976.05 245.27,977.17 246.77,978.27 248.28,979.36 249.81,980.44 251.34,981.51 252.89,982.57 254.45,983.61 256.01,984.64 257.59,985.67 259.17,986.68 260.77,987.68 262.37,988.68 263.98,989.66 265.59,990.64 267.22,991.61 268.85,992.57 270.49,993.52 272.14,994.46 273.79,995.4 275.45,996.32 277.12,997.24 278.8,998.15 280.48,999.06 282.17,999.96 283.87,1000.85 285.58,1001.73 287.29,1002.61 289.01,1003.48 290.73,1004.34 292.46,1005.2 294.2,1006.05 295.95,1006.9 297.7,1007.74 299.46,1008.57 301.22,1009.4 302.99,1010.23 304.77,1011.05 306.55,1011.86 308.34,1012.67 310.13,1013.48 311.93,1014.28 313.74,1015.08 315.55,1015.87 317.37,1016.66 319.19,1017.45 321.02,1018.23 322.85,1019.01 324.69,1019.78 326.54,1020.56 328.39,1021.33 330.24,1022.09 332.1,1022.86 333.97,1023.62 335.84,1024.38 337.71,1025.14 339.59,1025.9 341.48,1026.65 343.36,1027.41 345.26,1028.16 347.16,1028.91 349.06,1029.66 350.97,1030.41 352.88,1031.16 354.8,1031.9 356.72,1032.65 358.65,1033.39 360.58,1034.13 362.52,1034.88 364.47,1035.61 366.42,1036.35 368.38,1037.09 370.35,1037.82 372.32,1038.55 374.3,1039.28 376.29,1040.01 378.29,1040.73 380.29,1041.45 382.31,1042.17 384.33,1042.88 386.36,1043.6 388.4,1044.3 390.45,1045.01 392.51,1045.71 394.58,1046.41 396.66,1047.11 398.75,1047.8 400.85,1048.49 402.96,1049.18 405.08,1049.86 407.22,1050.53 409.36,1051.21 411.52,1051.87 413.69,1052.54 415.87,1053.2 418.06,1053.85 420.27,1054.5 422.48,1055.15 424.72,1055.79 426.96,1056.43 429.22,1057.06 431.49,1057.68 433.78,1058.3 436.08,1058.92 438.4,1059.53 440.73,1060.13 443.07,1060.73 445.44,1061.32 447.81,1061.91 450.2,1062.49 452.61,1063.06 455.04,1063.63 457.48,1064.19 459.94,1064.75 462.41,1065.3 464.9,1065.84 467.41,1066.38 469.94,1066.9 472.48,1067.42 475.04,1067.94 477.62,1068.45 480.21,1068.95 482.81,1069.44 485.43,1069.93 488.07,1070.41 490.71,1070.88 493.37,1071.35 496.04,1071.81 498.72,1072.26 501.41,1072.71 504.11,1073.15 506.82,1073.58 509.54,1074.01 512.27,1074.43 515,1074.84 517.74,1075.25 520.49,1075.65 523.24,1076.04 526,1076.43 528.76,1076.81 531.52,1077.18 534.29,1077.55 537.06,1077.91 539.83,1078.27 542.61,1078.61 545.38,1078.95 548.15,1079.29 550.93,1079.62 553.7,1079.94 556.47,1080.26 559.24,1080.56 562,1080.87 564.77,1081.16 567.52,1081.45 570.28,1081.74 573.02,1082.01 575.77,1082.29 578.5,1082.55 581.23,1082.81 583.95,1083.06 586.66,1083.31 589.36,1083.55 592.05,1083.78 594.73,1084.01 597.41,1084.23 600.07,1084.44 602.71,1084.65 605.35,1084.86 607.97,1085.05 610.58,1085.24 613.17,1085.43 615.75,1085.61 618.31,1085.78 620.86,1085.94 623.39,1086.1 625.9,1086.26 628.39,1086.41 630.87,1086.55 633.32,1086.68 635.76,1086.81 638.18,1086.94 640.57,1087.06 642.94,1087.17 645.29,1087.28 647.62,1087.38 649.92,1087.47 652.2,1087.56 654.46,1087.64 656.69,1087.72 658.9,1087.8 661.09,1087.87 663.25,1087.94 665.39,1088 667.51,1088.06 669.6,1088.12 671.67,1088.17 673.71,1088.22 675.73,1088.27 677.73,1088.31 679.7,1088.36 681.65,1088.4 683.57,1088.45 685.47,1088.49 687.35,1088.53 689.2,1088.57 691.02,1088.61 692.83,1088.65 694.6,1088.69 696.36,1088.73 698.09,1088.78 699.79,1088.82 701.47,1088.87 703.12,1088.91 704.75,1088.96 706.36,1089.02 707.94,1089.07" fill="none" stroke="#808080" stroke-width="3.4" stroke-linejoin="round" stroke-linecap="butt" clip-path="url(#cpD)"/>
<path d="M152.77,596.05 152.92,598.72 153.08,601.37 153.24,604 153.4,606.61 153.56,609.19 153.73,611.75 153.9,614.29 154.08,616.82 154.26,619.32 154.44,621.8 154.62,624.27 154.81,626.72 155,629.15 155.19,631.56 155.38,633.96 155.58,636.35 155.78,638.72 155.98,641.07 156.19,643.41 156.39,645.74 156.6,648.06 156.81,650.37 157.03,652.66 157.24,654.94 157.46,657.22 157.68,659.48 157.91,661.74 158.13,663.99 158.36,666.23 158.59,668.46 158.82,670.69 159.05,672.91 159.29,675.13 159.52,677.34 159.76,679.55 160,681.75 160.24,683.95 160.48,686.15 160.73,688.35 160.97,690.55 161.22,692.75 161.47,694.94 161.72,697.14 161.97,699.34 162.22,701.54 162.47,703.74 162.73,705.95 162.98,708.16 163.24,710.37 163.5,712.59 163.76,714.81 164.02,717.05 164.28,719.28 164.54,721.53 164.8,723.78 165.06,726.04 165.33,728.31 165.59,730.59 165.85,732.88 166.12,735.18 166.38,737.49 166.65,739.81 166.91,742.14 167.18,744.49 167.45,746.84 167.72,749.2 167.99,751.57 168.26,753.95 168.54,756.33 168.81,758.72 169.09,761.12 169.37,763.52 169.66,765.92 169.94,768.33 170.23,770.75 170.52,773.16 170.82,775.58 171.12,778 171.42,780.42 171.73,782.84 172.04,785.27 172.35,787.69 172.67,790.11 172.99,792.52 173.32,794.94 173.65,797.35 173.99,799.76 174.34,802.16 174.68,804.56 175.04,806.95 175.4,809.34 175.77,811.72 176.14,814.09 176.52,816.45 176.9,818.81 177.29,821.15 177.69,823.49 178.1,825.82 178.51,828.13 178.93,830.43 179.36,832.72 179.8,835 180.24,837.27 180.7,839.52 181.16,841.75 181.63,843.98 182.11,846.18 182.59,848.37 183.09,850.54 183.6,852.7 184.11,854.83 184.64,856.95 185.17,859.05 185.71,861.12 186.27,863.18 186.84,865.22 187.41,867.23 188,869.22 188.6,871.19 189.2,873.13 189.82,875.05 190.46,876.95 191.1,878.83 191.75,880.68 192.42,882.5 193.09,884.31 193.78,886.09 194.48,887.85 195.19,889.58 195.92,891.3 196.65,892.99 197.4,894.66 198.15,896.31 198.92,897.94 199.7,899.55 200.49,901.14 201.3,902.71 202.11,904.26 202.94,905.79 203.78,907.3 204.63,908.79 205.49,910.26 206.37,911.71 207.25,913.14 208.15,914.56 209.06,915.95 209.98,917.33 210.91,918.69 211.86,920.04 212.82,921.37 213.79,922.68 214.77,923.97 215.76,925.25 216.77,926.51 217.78,927.75 218.81,928.98 219.86,930.19 220.91,931.39 221.98,932.58 223.05,933.75 224.14,934.9 225.25,936.04 226.36,937.17 227.49,938.28 228.63,939.38 229.78,940.46 230.95,941.53 232.12,942.59 233.31,943.64 234.51,944.67 235.73,945.7 236.95,946.71 238.19,947.71 239.44,948.69 240.71,949.67 241.99,950.63 243.27,951.59 244.58,952.53 245.89,953.47 247.22,954.39 248.56,955.3 249.91,956.21 251.28,957.1 252.66,957.99 254.05,958.87 255.45,959.74 256.87,960.6 258.3,961.45 259.74,962.29 261.19,963.13 262.66,963.96 264.14,964.78 265.64,965.6 267.14,966.41 268.66,967.21 270.19,968.01 271.74,968.8 273.29,969.58 274.86,970.36 276.43,971.13 278.02,971.9 279.62,972.67 281.23,973.42 282.85,974.18 284.48,974.93 286.12,975.68 287.77,976.42 289.44,977.16 291.11,977.89 292.79,978.63 294.47,979.36 296.17,980.09 297.88,980.81 299.59,981.53 301.32,982.26 303.05,982.98 304.79,983.69 306.54,984.41 308.29,985.13 310.06,985.84 311.83,986.56 313.6,987.27 315.39,987.99 317.18,988.7 318.97,989.42 320.78,990.13 322.59,990.85 324.4,991.57 326.22,992.29 328.05,993.01 329.88,993.73 331.72,994.45 333.56,995.18 335.41,995.91 337.26,996.64 339.12,997.38 340.98,998.11 342.84,998.85 344.71,999.6 346.58,1000.35 348.45,1001.1 350.33,1001.86 352.21,1002.62 354.1,1003.38 355.99,1004.15 357.88,1004.92 359.78,1005.69 361.68,1006.47 363.59,1007.25 365.51,1008.03 367.43,1008.82 369.35,1009.61 371.28,1010.4 373.22,1011.19 375.17,1011.99 377.12,1012.79 379.07,1013.59 381.04,1014.39 383.01,1015.19 384.99,1015.99 386.98,1016.8 388.98,1017.61 390.98,1018.41 393,1019.22 395.02,1020.03 397.05,1020.84 399.09,1021.65 401.14,1022.46 403.2,1023.27 405.27,1024.08 407.35,1024.89 409.44,1025.7 411.54,1026.51 413.65,1027.32 415.78,1028.13 417.91,1028.94 420.06,1029.75 422.22,1030.55 424.39,1031.36 426.57,1032.16 428.76,1032.96 430.97,1033.76 433.19,1034.56 435.43,1035.35 437.68,1036.15 439.94,1036.94 442.21,1037.73 444.5,1038.51 446.81,1039.29 449.13,1040.08 451.46,1040.85 453.81,1041.63 456.17,1042.4 458.55,1043.17 460.95,1043.93 463.36,1044.69 465.79,1045.45 468.23,1046.2 470.69,1046.95 473.17,1047.69 475.66,1048.43 478.17,1049.17 480.69,1049.9 483.22,1050.62 485.77,1051.35 488.33,1052.06 490.91,1052.78 493.49,1053.48 496.09,1054.19 498.69,1054.89 501.31,1055.58 503.93,1056.27 506.57,1056.95 509.21,1057.63 511.86,1058.3 514.52,1058.97 517.18,1059.63 519.85,1060.28 522.53,1060.94 525.21,1061.58 527.89,1062.22 530.58,1062.85 533.27,1063.48 535.97,1064.1 538.66,1064.72 541.36,1065.33 544.06,1065.93 546.76,1066.53 549.46,1067.12 552.16,1067.7 554.86,1068.28 557.55,1068.85 560.25,1069.42 562.94,1069.98 565.63,1070.53 568.31,1071.07 570.99,1071.61 573.67,1072.14 576.34,1072.67 579,1073.18 581.66,1073.69 584.31,1074.2 586.95,1074.69 589.58,1075.18 592.21,1075.66 594.82,1076.13 597.43,1076.6 600.03,1077.06 602.61,1077.51 605.18,1077.95 607.74,1078.38 610.29,1078.81 612.83,1079.23 615.35,1079.64 617.85,1080.04 620.35,1080.44 622.82,1080.82 625.28,1081.2 627.73,1081.57 630.15,1081.93 632.56,1082.28 634.95,1082.62 637.33,1082.96 639.68,1083.28 642.01,1083.6 644.33,1083.91 646.62,1084.21 648.89,1084.5 651.14,1084.78 653.37,1085.05 655.57,1085.31 657.76,1085.57 659.92,1085.81 662.06,1086.05 664.18,1086.27 666.27,1086.49 668.35,1086.7 670.4,1086.9 672.42,1087.09 674.43,1087.28 676.41,1087.45 678.36,1087.62 680.3,1087.77 682.21,1087.92 684.09,1088.06 685.96,1088.19 687.8,1088.32 689.61,1088.43 691.4,1088.54 693.17,1088.63 694.91,1088.72 696.62,1088.8 698.31,1088.87 699.98,1088.94 701.62,1088.99 703.24,1089.04 704.83,1089.08 706.39,1089.11 707.93,1089.13" fill="none" stroke="#e8241a" stroke-width="3.4" stroke-linejoin="round" stroke-linecap="butt" clip-path="url(#cpD)"/>
<path d="M153.18,596.4 153.33,598.85 153.49,601.3 153.66,603.74 153.83,606.16 154,608.58 154.18,610.99 154.36,613.39 154.55,615.78 154.74,618.16 154.93,620.53 155.13,622.89 155.33,625.24 155.54,627.59 155.75,629.93 155.96,632.26 156.18,634.58 156.4,636.9 156.63,639.21 156.85,641.51 157.08,643.81 157.32,646.1 157.55,648.38 157.79,650.66 158.03,652.94 158.28,655.2 158.53,657.47 158.77,659.72 159.03,661.98 159.28,664.23 159.54,666.47 159.8,668.71 160.06,670.95 160.32,673.18 160.58,675.41 160.85,677.64 161.11,679.86 161.38,682.09 161.65,684.3 161.92,686.52 162.2,688.74 162.47,690.95 162.74,693.16 163.02,695.37 163.3,697.58 163.57,699.79 163.85,702 164.13,704.21 164.41,706.42 164.68,708.63 164.96,710.84 165.24,713.05 165.52,715.26 165.8,717.47 166.08,719.68 166.36,721.89 166.63,724.11 166.91,726.33 167.19,728.55 167.46,730.77 167.74,732.99 168.01,735.22 168.29,737.45 168.56,739.69 168.83,741.92 169.1,744.16 169.37,746.41 169.64,748.65 169.91,750.9 170.18,753.14 170.46,755.39 170.73,757.64 171,759.89 171.28,762.14 171.55,764.39 171.83,766.64 172.11,768.89 172.39,771.14 172.68,773.39 172.97,775.63 173.26,777.88 173.55,780.12 173.85,782.36 174.15,784.6 174.45,786.83 174.76,789.06 175.07,791.29 175.39,793.51 175.71,795.73 176.03,797.95 176.37,800.16 176.7,802.37 177.05,804.57 177.39,806.76 177.75,808.95 178.11,811.13 178.48,813.31 178.85,815.48 179.23,817.64 179.62,819.8 180.01,821.95 180.42,824.09 180.83,826.22 181.25,828.34 181.68,830.46 182.11,832.56 182.56,834.66 183.01,836.75 183.47,838.82 183.95,840.89 184.43,842.95 184.92,844.99 185.42,847.03 185.94,849.05 186.46,851.06 187,853.06 187.54,855.05 188.1,857.02 188.67,858.98 189.25,860.93 189.84,862.87 190.44,864.79 191.06,866.7 191.69,868.59 192.33,870.47 192.99,872.34 193.65,874.19 194.33,876.02 195.03,877.85 195.74,879.65 196.46,881.44 197.19,883.22 197.94,884.98 198.7,886.73 199.47,888.46 200.26,890.17 201.06,891.87 201.88,893.56 202.71,895.23 203.55,896.88 204.41,898.51 205.29,900.13 206.18,901.74 207.08,903.32 208,904.89 208.93,906.45 209.88,907.98 210.84,909.5 211.82,911 212.81,912.49 213.82,913.96 214.85,915.41 215.89,916.84 216.94,918.25 218.02,919.65 219.1,921.03 220.21,922.39 221.33,923.73 222.47,925.05 223.62,926.36 224.79,927.65 225.98,928.91 227.18,930.16 228.4,931.39 229.64,932.6 230.89,933.79 232.17,934.97 233.46,936.12 234.76,937.25 236.09,938.37 237.43,939.46 238.79,940.53 240.17,941.59 241.56,942.62 242.97,943.64 244.39,944.64 245.83,945.63 247.29,946.59 248.76,947.55 250.24,948.48 251.74,949.41 253.25,950.31 254.77,951.21 256.31,952.09 257.85,952.96 259.41,953.82 260.98,954.67 262.55,955.51 264.14,956.34 265.74,957.16 267.34,957.97 268.95,958.77 270.57,959.57 272.2,960.36 273.84,961.14 275.48,961.91 277.12,962.69 278.77,963.45 280.43,964.22 282.09,964.98 283.76,965.74 285.43,966.49 287.1,967.25 288.77,968 290.45,968.75 292.13,969.51 293.81,970.26 295.49,971.01 297.18,971.76 298.86,972.51 300.56,973.26 302.25,974.02 303.95,974.77 305.65,975.52 307.35,976.27 309.06,977.02 310.77,977.77 312.49,978.52 314.21,979.26 315.93,980.01 317.66,980.76 319.39,981.51 321.13,982.26 322.87,983.01 324.61,983.76 326.36,984.5 328.11,985.25 329.87,986 331.64,986.75 333.41,987.5 335.18,988.24 336.96,988.99 338.75,989.74 340.54,990.49 342.34,991.23 344.14,991.98 345.95,992.73 347.77,993.48 349.59,994.23 351.42,994.97 353.25,995.72 355.09,996.47 356.94,997.22 358.8,997.97 360.66,998.71 362.53,999.46 364.41,1000.21 366.29,1000.96 368.18,1001.71 370.08,1002.46 371.99,1003.21 373.9,1003.96 375.83,1004.71 377.76,1005.46 379.7,1006.21 381.64,1006.96 383.6,1007.71 385.56,1008.46 387.54,1009.21 389.52,1009.96 391.51,1010.72 393.51,1011.47 395.52,1012.22 397.54,1012.98 399.57,1013.73 401.61,1014.48 403.66,1015.24 405.72,1015.99 407.78,1016.75 409.86,1017.5 411.95,1018.26 414.05,1019.02 416.16,1019.77 418.28,1020.53 420.41,1021.29 422.55,1022.05 424.7,1022.81 426.86,1023.57 429.04,1024.33 431.22,1025.09 433.42,1025.85 435.63,1026.61 437.85,1027.37 440.08,1028.13 442.32,1028.9 444.58,1029.66 446.85,1030.43 449.13,1031.19 451.42,1031.96 453.73,1032.73 456.04,1033.49 458.38,1034.26 460.72,1035.03 463.08,1035.8 465.45,1036.57 467.83,1037.34 470.23,1038.12 472.64,1038.89 475.06,1039.66 477.49,1040.44 479.94,1041.21 482.39,1041.98 484.86,1042.76 487.34,1043.53 489.83,1044.3 492.33,1045.07 494.84,1045.84 497.35,1046.61 499.88,1047.38 502.41,1048.15 504.95,1048.91 507.49,1049.67 510.05,1050.43 512.6,1051.19 515.17,1051.95 517.74,1052.7 520.31,1053.45 522.89,1054.2 525.48,1054.95 528.06,1055.69 530.65,1056.43 533.24,1057.16 535.84,1057.89 538.43,1058.62 541.03,1059.34 543.63,1060.06 546.23,1060.77 548.83,1061.48 551.43,1062.18 554.02,1062.88 556.62,1063.57 559.21,1064.26 561.81,1064.94 564.4,1065.62 566.98,1066.29 569.57,1066.96 572.15,1067.61 574.72,1068.27 577.29,1068.91 579.86,1069.55 582.42,1070.18 584.97,1070.8 587.52,1071.42 590.06,1072.03 592.6,1072.63 595.12,1073.23 597.64,1073.81 600.15,1074.39 602.65,1074.96 605.14,1075.52 607.62,1076.07 610.09,1076.61 612.55,1077.14 615,1077.67 617.43,1078.18 619.86,1078.68 622.27,1079.18 624.67,1079.66 627.06,1080.14 629.43,1080.6 631.79,1081.05 634.13,1081.5 636.46,1081.93 638.77,1082.35 641.07,1082.76 643.35,1083.16 645.61,1083.54 647.86,1083.92 650.09,1084.28 652.3,1084.63 654.49,1084.97 656.66,1085.29 658.82,1085.6 660.95,1085.9 663.06,1086.19 665.16,1086.46 667.23,1086.72 669.28,1086.97 671.31,1087.2 673.31,1087.42 675.3,1087.62 677.26,1087.81 679.19,1087.99 681.1,1088.15 682.99,1088.3 684.85,1088.43 686.69,1088.54 688.5,1088.64 690.29,1088.73 692.04,1088.8 693.78,1088.85 695.48,1088.89 697.15,1088.91 698.8,1088.91 700.42,1088.9 702.01,1088.87 703.56,1088.82 705.09,1088.76 706.59,1088.68 708.06,1088.58" fill="none" stroke="#4a8bf0" stroke-width="3.4" stroke-linejoin="round" stroke-linecap="butt" clip-path="url(#cpD)"/>
<path d="M154.59,596.07 154.74,598.58 154.9,601.06 155.06,603.54 155.23,606 155.4,608.44 155.58,610.88 155.76,613.29 155.95,615.7 156.14,618.09 156.34,620.48 156.54,622.84 156.74,625.2 156.95,627.55 157.16,629.88 157.38,632.21 157.6,634.52 157.83,636.83 158.06,639.12 158.29,641.41 158.53,643.68 158.77,645.95 159.01,648.21 159.26,650.46 159.51,652.7 159.77,654.94 160.02,657.16 160.28,659.39 160.55,661.6 160.82,663.81 161.09,666.01 161.36,668.21 161.64,670.4 161.91,672.59 162.19,674.77 162.48,676.95 162.77,679.12 163.05,681.29 163.34,683.46 163.64,685.63 163.93,687.79 164.23,689.95 164.53,692.1 164.83,694.26 165.14,696.41 165.44,698.57 165.75,700.72 166.06,702.87 166.37,705.02 166.68,707.18 166.99,709.33 167.31,711.48 167.62,713.64 167.94,715.79 168.26,717.95 168.58,720.11 168.9,722.27 169.22,724.44 169.54,726.61 169.86,728.78 170.18,730.96 170.51,733.14 170.83,735.32 171.16,737.51 171.48,739.7 171.81,741.9 172.13,744.1 172.46,746.31 172.79,748.52 173.12,750.73 173.45,752.94 173.79,755.16 174.12,757.37 174.46,759.59 174.8,761.81 175.15,764.03 175.49,766.25 175.84,768.46 176.2,770.68 176.55,772.89 176.91,775.1 177.28,777.31 177.65,779.52 178.02,781.72 178.4,783.92 178.78,786.11 179.17,788.3 179.57,790.49 179.97,792.67 180.37,794.84 180.78,797.01 181.2,799.17 181.63,801.32 182.06,803.46 182.49,805.6 182.94,807.72 183.39,809.84 183.85,811.95 184.32,814.05 184.79,816.14 185.28,818.21 185.77,820.28 186.27,822.33 186.78,824.38 187.3,826.4 187.83,828.42 188.36,830.42 188.91,832.41 189.47,834.39 190.03,836.35 190.61,838.29 191.2,840.22 191.8,842.13 192.41,844.03 193.03,845.91 193.66,847.77 194.31,849.61 194.96,851.44 195.63,853.24 196.31,855.03 197,856.8 197.71,858.55 198.43,860.28 199.16,861.98 199.9,863.67 200.66,865.33 201.43,866.98 202.22,868.61 203.01,870.21 203.82,871.8 204.64,873.37 205.48,874.91 206.33,876.44 207.19,877.95 208.06,879.44 208.95,880.92 209.84,882.37 210.76,883.81 211.68,885.22 212.62,886.62 213.57,888.01 214.53,889.37 215.5,890.72 216.49,892.05 217.49,893.36 218.5,894.66 219.52,895.94 220.56,897.2 221.61,898.45 222.67,899.68 223.74,900.89 224.83,902.09 225.93,903.27 227.04,904.44 228.16,905.59 229.3,906.73 230.44,907.85 231.6,908.95 232.77,910.05 233.96,911.12 235.15,912.19 236.36,913.24 237.58,914.27 238.81,915.29 240.05,916.3 241.31,917.29 242.58,918.27 243.86,919.24 245.15,920.2 246.45,921.14 247.76,922.07 249.09,922.99 250.43,923.89 251.78,924.79 253.14,925.68 254.51,926.56 255.9,927.43 257.29,928.29 258.7,929.15 260.12,930 261.55,930.85 263,931.69 264.45,932.52 265.92,933.36 267.39,934.18 268.88,935.01 270.38,935.84 271.88,936.66 273.39,937.48 274.92,938.3 276.45,939.12 277.98,939.93 279.52,940.75 281.07,941.57 282.63,942.39 284.19,943.21 285.75,944.03 287.32,944.85 288.89,945.68 290.47,946.51 292.05,947.34 293.63,948.17 295.21,949.01 296.8,949.85 298.39,950.69 299.99,951.53 301.58,952.38 303.19,953.23 304.79,954.08 306.4,954.94 308.02,955.79 309.63,956.65 311.26,957.51 312.88,958.38 314.52,959.24 316.15,960.11 317.79,960.98 319.44,961.85 321.09,962.73 322.75,963.6 324.41,964.48 326.07,965.36 327.74,966.24 329.42,967.12 331.1,968.01 332.79,968.89 334.49,969.78 336.19,970.67 337.89,971.56 339.61,972.45 341.32,973.34 343.05,974.24 344.78,975.13 346.52,976.03 348.26,976.93 350.02,977.82 351.77,978.72 353.54,979.62 355.31,980.53 357.09,981.43 358.88,982.33 360.67,983.24 362.48,984.14 364.29,985.05 366.1,985.95 367.93,986.86 369.76,987.77 371.61,988.67 373.46,989.58 375.31,990.49 377.18,991.4 379.06,992.31 380.94,993.22 382.83,994.13 384.74,995.04 386.65,995.95 388.57,996.85 390.49,997.76 392.43,998.67 394.38,999.58 396.34,1000.49 398.31,1001.4 400.28,1002.31 402.27,1003.22 404.27,1004.13 406.27,1005.03 408.29,1005.94 410.32,1006.85 412.35,1007.75 414.4,1008.66 416.46,1009.56 418.53,1010.46 420.61,1011.37 422.7,1012.27 424.8,1013.17 426.92,1014.07 429.04,1014.97 431.18,1015.87 433.33,1016.77 435.49,1017.66 437.66,1018.56 439.84,1019.45 442.04,1020.34 444.24,1021.23 446.46,1022.12 448.69,1023.01 450.94,1023.9 453.19,1024.78 455.46,1025.66 457.74,1026.55 460.04,1027.42 462.34,1028.3 464.66,1029.18 467,1030.05 469.34,1030.93 471.7,1031.8 474.08,1032.67 476.46,1033.53 478.86,1034.4 481.27,1035.26 483.68,1036.11 486.11,1036.97 488.55,1037.82 491,1038.67 493.46,1039.52 495.93,1040.36 498.41,1041.2 500.89,1042.04 503.39,1042.87 505.89,1043.7 508.39,1044.52 510.91,1045.34 513.43,1046.16 515.96,1046.97 518.49,1047.78 521.02,1048.58 523.57,1049.38 526.11,1050.17 528.66,1050.96 531.21,1051.75 533.77,1052.52 536.33,1053.3 538.89,1054.06 541.45,1054.82 544.02,1055.58 546.59,1056.33 549.15,1057.07 551.72,1057.81 554.29,1058.54 556.85,1059.26 559.42,1059.98 561.98,1060.69 564.54,1061.39 567.1,1062.09 569.66,1062.78 572.22,1063.46 574.77,1064.14 577.32,1064.81 579.86,1065.46 582.4,1066.12 584.93,1066.76 587.46,1067.4 589.99,1068.03 592.5,1068.64 595.01,1069.26 597.52,1069.86 600.01,1070.45 602.5,1071.04 604.98,1071.62 607.44,1072.18 609.9,1072.74 612.35,1073.3 614.78,1073.84 617.2,1074.37 619.61,1074.9 622,1075.41 624.38,1075.92 626.74,1076.41 629.09,1076.9 631.43,1077.38 633.74,1077.85 636.04,1078.31 638.32,1078.76 640.58,1079.2 642.82,1079.63 645.04,1080.05 647.24,1080.46 649.42,1080.87 651.58,1081.26 653.71,1081.64 655.83,1082.01 657.92,1082.38 660,1082.73 662.05,1083.08 664.08,1083.41 666.09,1083.74 668.08,1084.06 670.05,1084.37 671.99,1084.67 673.92,1084.96 675.82,1085.24 677.71,1085.52 679.57,1085.78 681.41,1086.04 683.23,1086.29 685.02,1086.53 686.8,1086.77 688.55,1086.99 690.29,1087.21 692,1087.42 693.69,1087.62 695.36,1087.81 697.01,1088 698.64,1088.18 700.24,1088.35 701.83,1088.51 703.39,1088.67 704.93,1088.82 706.45,1088.96 707.95,1089.1" fill="none" stroke="#000000" stroke-width="3.4" stroke-linejoin="round" stroke-linecap="butt" clip-path="url(#cpD)"/>
<path d="M153.86,596.09 154.01,598.59 154.17,601.08 154.32,603.56 154.49,606.02 154.66,608.47 154.83,610.9 155.01,613.32 155.2,615.72 155.39,618.12 155.58,620.5 155.78,622.87 155.99,625.22 156.2,627.57 156.41,629.9 156.63,632.22 156.85,634.53 157.08,636.83 157.31,639.12 157.54,641.4 157.78,643.68 158.02,645.94 158.27,648.19 158.52,650.44 158.77,652.68 159.03,654.91 159.29,657.13 159.55,659.35 159.82,661.56 160.09,663.76 160.36,665.96 160.64,668.15 160.92,670.34 161.2,672.52 161.48,674.7 161.77,676.88 162.06,679.04 162.35,681.21 162.65,683.37 162.94,685.53 163.24,687.69 163.54,689.85 163.84,692 164.15,694.15 164.45,696.3 164.76,698.45 165.07,700.6 165.38,702.75 165.69,704.9 166,707.05 166.32,709.2 166.63,711.35 166.95,713.51 167.27,715.66 167.59,717.82 167.9,719.98 168.22,722.14 168.54,724.31 168.87,726.48 169.19,728.65 169.51,730.83 169.83,733.01 170.15,735.2 170.47,737.39 170.79,739.59 171.12,741.79 171.44,744 171.76,746.21 172.09,748.43 172.41,750.65 172.74,752.87 173.07,755.09 173.4,757.31 173.73,759.54 174.06,761.76 174.4,763.99 174.74,766.22 175.08,768.44 175.43,770.66 175.78,772.89 176.14,775.11 176.49,777.32 176.86,779.54 177.22,781.75 177.6,783.95 177.97,786.16 178.36,788.35 178.74,790.55 179.14,792.73 179.54,794.91 179.94,797.08 180.36,799.25 180.78,801.41 181.2,803.55 181.64,805.69 182.08,807.83 182.53,809.95 182.98,812.06 183.45,814.16 183.92,816.25 184.4,818.33 184.89,820.39 185.39,822.44 185.9,824.49 186.42,826.51 186.95,828.52 187.49,830.52 188.04,832.51 188.6,834.48 189.17,836.43 189.75,838.36 190.34,840.28 190.95,842.19 191.56,844.07 192.19,845.94 192.83,847.78 193.48,849.61 194.15,851.42 194.83,853.21 195.52,854.98 196.23,856.73 196.95,858.45 197.68,860.15 198.43,861.84 199.19,863.5 199.96,865.13 200.75,866.75 201.55,868.35 202.37,869.92 203.2,871.48 204.04,873.01 204.9,874.52 205.77,876.02 206.66,877.49 207.55,878.95 208.46,880.38 209.39,881.8 210.32,883.2 211.27,884.58 212.23,885.94 213.21,887.28 214.2,888.61 215.2,889.91 216.21,891.21 217.23,892.48 218.27,893.74 219.32,894.98 220.38,896.2 221.46,897.41 222.54,898.61 223.64,899.78 224.75,900.95 225.88,902.09 227.01,903.23 228.16,904.35 229.31,905.45 230.48,906.54 231.66,907.62 232.85,908.68 234.06,909.73 235.27,910.77 236.5,911.79 237.73,912.81 238.98,913.81 240.24,914.79 241.51,915.77 242.79,916.73 244.08,917.69 245.38,918.63 246.7,919.56 248.02,920.48 249.35,921.4 250.7,922.3 252.05,923.2 253.42,924.08 254.79,924.96 256.18,925.84 257.58,926.7 258.98,927.57 260.4,928.42 261.83,929.28 263.27,930.13 264.71,930.97 266.17,931.82 267.64,932.66 269.12,933.5 270.61,934.33 272.1,935.17 273.6,936 275.11,936.83 276.63,937.67 278.16,938.49 279.69,939.32 281.23,940.15 282.77,940.98 284.32,941.81 285.88,942.64 287.44,943.47 289.01,944.3 290.58,945.13 292.15,945.96 293.73,946.8 295.32,947.63 296.91,948.47 298.5,949.31 300.1,950.15 301.7,950.99 303.31,951.83 304.92,952.67 306.54,953.52 308.16,954.36 309.78,955.21 311.42,956.06 313.05,956.91 314.7,957.76 316.34,958.61 318,959.46 319.65,960.32 321.32,961.17 322.99,962.03 324.66,962.89 326.34,963.75 328.03,964.62 329.72,965.48 331.41,966.35 333.12,967.21 334.83,968.08 336.54,968.95 338.26,969.82 339.99,970.7 341.72,971.57 343.46,972.45 345.2,973.33 346.95,974.21 348.71,975.09 350.47,975.97 352.24,976.86 354.02,977.74 355.8,978.63 357.59,979.52 359.38,980.42 361.19,981.31 362.99,982.2 364.81,983.1 366.63,984 368.46,984.9 370.3,985.81 372.14,986.71 373.99,987.62 375.85,988.53 377.71,989.44 379.59,990.35 381.46,991.26 383.35,992.18 385.24,993.1 387.15,994.02 389.06,994.94 390.97,995.86 392.9,996.78 394.84,997.71 396.78,998.63 398.73,999.55 400.69,1000.48 402.66,1001.41 404.65,1002.33 406.64,1003.26 408.64,1004.19 410.65,1005.11 412.67,1006.04 414.7,1006.97 416.74,1007.89 418.79,1008.82 420.85,1009.74 422.93,1010.66 425.01,1011.59 427.11,1012.51 429.22,1013.43 431.34,1014.34 433.47,1015.26 435.61,1016.18 437.77,1017.09 439.94,1018 442.12,1018.91 444.32,1019.82 446.53,1020.72 448.75,1021.62 450.98,1022.52 453.23,1023.42 455.49,1024.31 457.77,1025.2 460.06,1026.09 462.36,1026.98 464.68,1027.86 467.02,1028.73 469.37,1029.61 471.73,1030.48 474.11,1031.34 476.5,1032.21 478.9,1033.06 481.32,1033.92 483.75,1034.77 486.19,1035.61 488.64,1036.46 491.11,1037.29 493.58,1038.13 496.07,1038.96 498.56,1039.78 501.06,1040.6 503.57,1041.42 506.09,1042.23 508.61,1043.04 511.15,1043.84 513.68,1044.64 516.23,1045.43 518.78,1046.22 521.34,1047 523.9,1047.78 526.46,1048.55 529.03,1049.32 531.6,1050.08 534.17,1050.84 536.75,1051.59 539.33,1052.34 541.91,1053.08 544.49,1053.82 547.07,1054.55 549.65,1055.28 552.23,1056 554.81,1056.71 557.38,1057.42 559.96,1058.13 562.53,1058.82 565.1,1059.51 567.67,1060.2 570.23,1060.88 572.79,1061.55 575.34,1062.22 577.89,1062.88 580.43,1063.54 582.96,1064.19 585.49,1064.83 588.01,1065.47 590.52,1066.1 593.03,1066.72 595.53,1067.34 598.01,1067.95 600.49,1068.55 602.96,1069.15 605.41,1069.74 607.86,1070.33 610.29,1070.9 612.72,1071.47 615.13,1072.04 617.52,1072.59 619.91,1073.14 622.27,1073.69 624.63,1074.22 626.97,1074.75 629.29,1075.27 631.6,1075.78 633.89,1076.29 636.17,1076.79 638.43,1077.28 640.67,1077.76 642.89,1078.23 645.09,1078.7 647.28,1079.16 649.44,1079.61 651.59,1080.06 653.72,1080.5 655.82,1080.92 657.91,1081.34 659.98,1081.75 662.02,1082.16 664.05,1082.55 666.06,1082.94 668.04,1083.31 670.01,1083.68 671.96,1084.04 673.88,1084.39 675.79,1084.73 677.67,1085.06 679.54,1085.38 681.38,1085.69 683.21,1085.99 685.01,1086.28 686.79,1086.56 688.55,1086.83 690.29,1087.09 692.01,1087.34 693.7,1087.58 695.38,1087.81 697.03,1088.02 698.67,1088.23 700.28,1088.42 701.87,1088.61 703.44,1088.78 704.98,1088.94 706.51,1089.09 708.01,1089.23" fill="none" stroke="#a020f0" stroke-width="3.4" stroke-linejoin="round" stroke-linecap="butt" clip-path="url(#cpD)"/>
<line x1="347" y1="865.9" x2="347" y2="1098.2" stroke="#000" stroke-width="2.3" stroke-dasharray="12.3 12.2"/>
<text class="sn" x="348.8" y="854.6" font-size="35.5" text-anchor="middle">340</text>
<rect x="106.5" y="648.8" width="601.9" height="484.4" fill="none" stroke="#000" stroke-width="2"/>
<path d="M106.5 1133.2v10M226.88 1133.2v10M347.26 1133.2v10M467.64 1133.2v10M588.02 1133.2v10M708.4 1133.2v10M166.69 1133.2v5.3M287.07 1133.2v5.3M407.45 1133.2v5.3M527.83 1133.2v5.3M648.21 1133.2v5.3" stroke="#000" stroke-width="2" fill="none"/>
<path d="M106.5 1089.2h-10M106.5 1001.12h-10M106.5 913.04h-10M106.5 824.96h-10M106.5 736.88h-10M106.5 648.8h-10M106.5 1133.24h-5.3M106.5 1045.16h-5.3M106.5 957.08h-5.3M106.5 869h-5.3M106.5 780.92h-5.3M106.5 692.84h-5.3" stroke="#000" stroke-width="2" fill="none"/>
<text class="sf" x="106.5" y="1174.5" font-size="32" text-anchor="middle">300</text>
<text class="sf" x="226.88" y="1174.5" font-size="32" text-anchor="middle">320</text>
<text class="sf" x="347.26" y="1174.5" font-size="32" text-anchor="middle">340</text>
<text class="sf" x="467.64" y="1174.5" font-size="32" text-anchor="middle">360</text>
<text class="sf" x="588.02" y="1174.5" font-size="32" text-anchor="middle">380</text>
<text class="sf" x="708.4" y="1174.5" font-size="32" text-anchor="middle">400</text>
<text class="sf" x="90" y="1099.1" font-size="32" text-anchor="end">0.0</text>
<text class="sf" x="90" y="1011.02" font-size="32" text-anchor="end">0.2</text>
<text class="sf" x="90" y="922.94" font-size="32" text-anchor="end">0.4</text>
<text class="sf" x="90" y="834.86" font-size="32" text-anchor="end">0.6</text>
<text class="sf" x="90" y="746.78" font-size="32" text-anchor="end">0.8</text>
<text class="sf" x="90" y="658.7" font-size="32" text-anchor="end">1.0</text>
<text class="sf" x="422.5" y="1215.3" font-size="41.15" text-anchor="middle">Wavelength (nm)</text>
<text class="sf" x="36.8" y="876" font-size="40.9" text-anchor="middle" transform="rotate(-90 36.8 876)">Absorbance (a.u.)</text>
<text class="sf" x="8.2" y="624" font-size="58">D</text>
<line x1="523.5" y1="675.9" x2="579.5" y2="675.9" stroke="#808080" stroke-width="3.3" stroke-linecap="round"/>
<text class="ss" x="587" y="684.7" font-size="36.5" fill="#000000">0 min</text>
<line x1="523.5" y1="721.9" x2="579.5" y2="721.9" stroke="#e8241a" stroke-width="3.3" stroke-linecap="round"/>
<text class="sf" x="591" y="731.1" font-size="36.2" fill="#e8241a">15 min</text>
<line x1="523.5" y1="766.5" x2="579.5" y2="766.5" stroke="#4a8bf0" stroke-width="3.3" stroke-linecap="round"/>
<text class="sf" x="591" y="775.7" font-size="36.2" fill="#4a8fe8">30 min</text>
<line x1="523.5" y1="811.2" x2="579.5" y2="811.2" stroke="#000000" stroke-width="3.3" stroke-linecap="round"/>
<text class="sf" x="591" y="820.4" font-size="36.2" fill="#000000">45 min</text>
<line x1="523.5" y1="856.8" x2="579.5" y2="856.8" stroke="#a020f0" stroke-width="3.3" stroke-linecap="round"/>
<text class="sf" x="591" y="866" font-size="36.2" fill="#a030e0">60 min</text>
<defs>
<clipPath id="cpE"><rect x="830.9" y="650.6" width="594.5" height="478.8"/></clipPath>
</defs>
<path d="M878.33,598.85 878.47,601.7 878.61,604.53 878.75,607.35 878.9,610.17 879.05,612.97 879.2,615.75 879.36,618.53 879.52,621.3 879.68,624.06 879.84,626.81 880.01,629.55 880.17,632.28 880.34,635.01 880.51,637.72 880.69,640.42 880.87,643.12 881.04,645.81 881.22,648.49 881.41,651.17 881.59,653.83 881.78,656.49 881.97,659.14 882.16,661.79 882.35,664.43 882.54,667.06 882.74,669.69 882.93,672.31 883.13,674.93 883.33,677.54 883.53,680.15 883.74,682.75 883.94,685.35 884.15,687.94 884.35,690.53 884.56,693.12 884.77,695.7 884.98,698.28 885.19,700.86 885.4,703.43 885.61,706 885.83,708.57 886.04,711.14 886.26,713.7 886.47,716.27 886.69,718.83 886.91,721.39 887.12,723.95 887.34,726.51 887.56,729.07 887.78,731.63 888,734.19 888.22,736.75 888.44,739.31 888.66,741.87 888.88,744.43 889.1,746.99 889.32,749.56 889.54,752.13 889.76,754.69 889.98,757.26 890.2,759.84 890.42,762.41 890.64,764.99 890.86,767.57 891.08,770.16 891.3,772.75 891.51,775.34 891.73,777.94 891.95,780.54 892.16,783.14 892.38,785.76 892.59,788.37 892.81,790.99 893.02,793.61 893.24,796.24 893.46,798.86 893.67,801.49 893.89,804.13 894.11,806.76 894.33,809.4 894.55,812.03 894.78,814.67 895,817.31 895.23,819.94 895.46,822.58 895.7,825.22 895.93,827.85 896.17,830.49 896.42,833.12 896.66,835.75 896.92,838.38 897.17,841 897.43,843.62 897.7,846.24 897.96,848.85 898.24,851.46 898.52,854.07 898.8,856.67 899.09,859.26 899.39,861.85 899.69,864.43 900,867.01 900.32,869.58 900.64,872.14 900.97,874.7 901.3,877.25 901.65,879.79 902,882.32 902.36,884.84 902.73,887.35 903.1,889.86 903.49,892.35 903.88,894.83 904.29,897.3 904.7,899.77 905.12,902.22 905.55,904.65 905.99,907.08 906.44,909.5 906.9,911.9 907.38,914.29 907.86,916.66 908.35,919.02 908.86,921.37 909.38,923.7 909.91,926.02 910.45,928.32 911.01,930.61 911.57,932.89 912.16,935.14 912.75,937.38 913.36,939.61 913.99,941.82 914.63,944.01 915.28,946.18 915.95,948.34 916.64,950.47 917.34,952.59 918.06,954.69 918.8,956.78 919.55,958.84 920.32,960.88 921.1,962.91 921.91,964.91 922.73,966.89 923.58,968.85 924.44,970.8 925.32,972.72 926.22,974.61 927.14,976.49 928.08,978.34 929.04,980.18 930.02,981.98 931.03,983.77 932.05,985.53 933.1,987.27 934.17,988.99 935.26,990.68 936.38,992.34 937.51,993.98 938.67,995.6 939.86,997.18 941.07,998.75 942.3,1000.29 943.56,1001.8 944.84,1003.28 946.15,1004.74 947.49,1006.17 948.85,1007.57 950.24,1008.94 951.65,1010.29 953.09,1011.6 954.56,1012.89 956.06,1014.15 957.58,1015.38 959.13,1016.58 960.71,1017.75 962.32,1018.89 963.95,1020.01 965.6,1021.1 967.28,1022.16 968.98,1023.2 970.71,1024.21 972.46,1025.19 974.22,1026.16 976.01,1027.1 977.83,1028.02 979.66,1028.91 981.51,1029.79 983.37,1030.64 985.26,1031.47 987.16,1032.28 989.08,1033.08 991.01,1033.85 992.96,1034.61 994.93,1035.34 996.91,1036.06 998.9,1036.77 1000.9,1037.46 1002.92,1038.13 1004.94,1038.79 1006.98,1039.43 1009.03,1040.07 1011.09,1040.68 1013.15,1041.29 1015.23,1041.88 1017.31,1042.46 1019.39,1043.04 1021.49,1043.6 1023.59,1044.15 1025.69,1044.69 1027.8,1045.23 1029.91,1045.75 1032.02,1046.27 1034.14,1046.78 1036.26,1047.29 1038.38,1047.79 1040.49,1048.28 1042.61,1048.77 1044.73,1049.26 1046.85,1049.74 1048.97,1050.22 1051.09,1050.69 1053.21,1051.15 1055.33,1051.61 1057.46,1052.07 1059.58,1052.52 1061.7,1052.96 1063.82,1053.41 1065.94,1053.84 1068.07,1054.27 1070.19,1054.7 1072.31,1055.12 1074.43,1055.54 1076.56,1055.96 1078.68,1056.37 1080.81,1056.77 1082.93,1057.17 1085.05,1057.57 1087.18,1057.96 1089.3,1058.34 1091.43,1058.73 1093.55,1059.11 1095.68,1059.48 1097.8,1059.85 1099.93,1060.22 1102.05,1060.58 1104.18,1060.94 1106.31,1061.29 1108.43,1061.64 1110.56,1061.98 1112.69,1062.33 1114.81,1062.66 1116.94,1063 1119.07,1063.33 1121.19,1063.65 1123.32,1063.97 1125.45,1064.29 1127.58,1064.61 1129.71,1064.92 1131.83,1065.23 1133.96,1065.53 1136.09,1065.83 1138.22,1066.13 1140.35,1066.42 1142.48,1066.71 1144.6,1066.99 1146.73,1067.28 1148.86,1067.55 1150.99,1067.83 1153.12,1068.1 1155.25,1068.37 1157.38,1068.64 1159.51,1068.9 1161.64,1069.16 1163.77,1069.41 1165.9,1069.67 1168.03,1069.91 1170.16,1070.16 1172.29,1070.4 1174.42,1070.64 1176.55,1070.88 1178.68,1071.12 1180.81,1071.35 1182.94,1071.58 1185.07,1071.8 1187.2,1072.02 1189.33,1072.24 1191.46,1072.46 1193.59,1072.67 1195.72,1072.89 1197.85,1073.1 1199.98,1073.3 1202.11,1073.51 1204.24,1073.71 1206.37,1073.91 1208.5,1074.1 1210.63,1074.29 1212.76,1074.49 1214.89,1074.67 1217.02,1074.86 1219.15,1075.04 1221.28,1075.23 1223.41,1075.41 1225.54,1075.58 1227.67,1075.76 1229.8,1075.93 1231.94,1076.1 1234.07,1076.27 1236.2,1076.44 1238.33,1076.6 1240.46,1076.76 1242.59,1076.92 1244.72,1077.08 1246.85,1077.24 1248.97,1077.39 1251.1,1077.54 1253.23,1077.7 1255.36,1077.84 1257.49,1077.99 1259.62,1078.14 1261.75,1078.28 1263.88,1078.42 1266.01,1078.56 1268.14,1078.7 1270.27,1078.84 1272.4,1078.98 1274.53,1079.11 1276.65,1079.24 1278.78,1079.37 1280.91,1079.5 1283.04,1079.63 1285.17,1079.76 1287.3,1079.89 1289.42,1080.01 1291.55,1080.13 1293.68,1080.26 1295.81,1080.38 1297.93,1080.5 1300.06,1080.62 1302.19,1080.73 1304.31,1080.85 1306.44,1080.96 1308.57,1081.08 1310.69,1081.19 1312.82,1081.31 1314.94,1081.42 1317.07,1081.53 1319.2,1081.64 1321.32,1081.75 1323.45,1081.86 1325.57,1081.97 1327.7,1082.07 1329.82,1082.18 1331.94,1082.29 1334.07,1082.39 1336.19,1082.5 1338.32,1082.6 1340.44,1082.7 1342.56,1082.81 1344.69,1082.91 1346.81,1083.01 1348.93,1083.11 1351.05,1083.22 1353.17,1083.32 1355.3,1083.42 1357.42,1083.52 1359.54,1083.62 1361.66,1083.72 1363.78,1083.82 1365.9,1083.92 1368.02,1084.02 1370.14,1084.12 1372.26,1084.22 1374.38,1084.32 1376.5,1084.42 1378.62,1084.52 1380.74,1084.63 1382.85,1084.73 1384.97,1084.83 1387.09,1084.93 1389.21,1085.03 1391.32,1085.13 1393.44,1085.23 1395.56,1085.34 1397.67,1085.44 1399.79,1085.54 1401.9,1085.65 1404.02,1085.75 1406.13,1085.85 1408.25,1085.96 1410.36,1086.07 1412.48,1086.17 1414.59,1086.28 1416.7,1086.39 1418.81,1086.5 1420.93,1086.6 1423.04,1086.71 1425.15,1086.83" fill="none" stroke="#808080" stroke-width="3.1" stroke-linejoin="round" stroke-linecap="butt" clip-path="url(#cpE)"/>
<path d="M878.18,598.8 878.38,601.61 878.57,604.41 878.77,607.19 878.96,609.97 879.16,612.73 879.35,615.48 879.54,618.22 879.74,620.95 879.93,623.67 880.12,626.38 880.31,629.08 880.5,631.77 880.7,634.45 880.89,637.12 881.08,639.78 881.27,642.43 881.46,645.07 881.65,647.71 881.84,650.34 882.03,652.96 882.23,655.57 882.42,658.17 882.61,660.77 882.8,663.36 882.99,665.95 883.18,668.53 883.38,671.1 883.57,673.67 883.76,676.23 883.96,678.78 884.15,681.34 884.34,683.88 884.54,686.42 884.73,688.96 884.93,691.5 885.12,694.03 885.32,696.56 885.52,699.08 885.72,701.6 885.91,704.12 886.11,706.64 886.31,709.15 886.51,711.67 886.71,714.18 886.92,716.69 887.12,719.2 887.32,721.7 887.53,724.21 887.73,726.72 887.94,729.23 888.14,731.73 888.35,734.24 888.56,736.75 888.77,739.26 888.98,741.77 889.19,744.28 889.41,746.8 889.62,749.31 889.84,751.83 890.05,754.36 890.27,756.88 890.49,759.41 890.71,761.94 890.93,764.47 891.16,767.01 891.38,769.55 891.61,772.1 891.83,774.65 892.06,777.21 892.29,779.77 892.53,782.33 892.76,784.91 892.99,787.48 893.23,790.07 893.47,792.65 893.71,795.24 893.96,797.83 894.21,800.43 894.46,803.03 894.72,805.63 894.98,808.23 895.25,810.83 895.52,813.43 895.79,816.03 896.08,818.63 896.36,821.23 896.66,823.82 896.96,826.42 897.26,829.01 897.58,831.6 897.9,834.18 898.23,836.76 898.56,839.34 898.91,841.91 899.26,844.47 899.62,847.03 900,849.59 900.38,852.13 900.77,854.67 901.17,857.2 901.58,859.72 902,862.23 902.43,864.73 902.88,867.22 903.33,869.7 903.8,872.17 904.28,874.63 904.77,877.08 905.28,879.51 905.79,881.93 906.32,884.34 906.87,886.73 907.43,889.11 908,891.48 908.59,893.82 909.19,896.16 909.81,898.47 910.44,900.77 911.09,903.05 911.76,905.32 912.44,907.56 913.14,909.79 913.85,911.99 914.59,914.18 915.34,916.35 916.1,918.49 916.89,920.62 917.69,922.72 918.51,924.8 919.35,926.85 920.2,928.89 921.08,930.89 921.97,932.88 922.88,934.83 923.8,936.76 924.75,938.67 925.72,940.55 926.7,942.4 927.7,944.22 928.72,946.01 929.76,947.78 930.82,949.51 931.9,951.22 933,952.89 934.12,954.53 935.25,956.14 936.41,957.72 937.59,959.26 938.78,960.77 940,962.25 941.23,963.69 942.49,965.09 943.76,966.47 945.06,967.8 946.37,969.11 947.71,970.38 949.06,971.61 950.43,972.81 951.81,973.98 953.22,975.12 954.64,976.23 956.08,977.3 957.53,978.35 959,979.36 960.49,980.35 961.99,981.3 963.51,982.22 965.04,983.12 966.59,983.98 968.15,984.82 969.73,985.63 971.32,986.41 972.92,987.16 974.53,987.89 976.16,988.59 977.8,989.26 979.45,989.91 981.11,990.54 982.79,991.14 984.48,991.71 986.17,992.26 987.88,992.8 989.6,993.31 991.33,993.8 993.06,994.27 994.81,994.72 996.57,995.16 998.34,995.58 1000.11,995.98 1001.9,996.38 1003.69,996.75 1005.49,997.12 1007.3,997.47 1009.12,997.81 1010.94,998.14 1012.78,998.46 1014.62,998.78 1016.46,999.08 1018.32,999.38 1020.18,999.68 1022.04,999.97 1023.92,1000.25 1025.79,1000.54 1027.68,1000.82 1029.57,1001.1 1031.46,1001.38 1033.36,1001.66 1035.26,1001.94 1037.17,1002.22 1039.08,1002.51 1041,1002.8 1042.92,1003.1 1044.84,1003.4 1046.77,1003.71 1048.7,1004.02 1050.63,1004.35 1052.57,1004.68 1054.5,1005.01 1056.45,1005.36 1058.39,1005.71 1060.34,1006.06 1062.29,1006.43 1064.24,1006.8 1066.2,1007.17 1068.16,1007.55 1070.12,1007.94 1072.08,1008.33 1074.05,1008.73 1076.02,1009.14 1077.99,1009.55 1079.96,1009.96 1081.94,1010.39 1083.92,1010.81 1085.9,1011.24 1087.89,1011.68 1089.87,1012.12 1091.86,1012.57 1093.86,1013.02 1095.85,1013.48 1097.85,1013.94 1099.84,1014.41 1101.84,1014.88 1103.85,1015.35 1105.85,1015.83 1107.86,1016.31 1109.87,1016.8 1111.88,1017.29 1113.89,1017.78 1115.91,1018.28 1117.92,1018.78 1119.94,1019.29 1121.96,1019.8 1123.98,1020.31 1126.01,1020.83 1128.03,1021.35 1130.06,1021.87 1132.09,1022.39 1134.12,1022.92 1136.15,1023.45 1138.19,1023.98 1140.22,1024.52 1142.26,1025.06 1144.3,1025.6 1146.34,1026.14 1148.38,1026.69 1150.42,1027.23 1152.46,1027.78 1154.51,1028.33 1156.55,1028.89 1158.6,1029.44 1160.65,1030 1162.7,1030.55 1164.75,1031.11 1166.8,1031.67 1168.85,1032.24 1170.91,1032.8 1172.96,1033.36 1175.02,1033.93 1177.08,1034.49 1179.13,1035.06 1181.19,1035.62 1183.25,1036.19 1185.31,1036.76 1187.37,1037.33 1189.43,1037.9 1191.49,1038.46 1193.56,1039.03 1195.62,1039.6 1197.68,1040.17 1199.75,1040.74 1201.81,1041.3 1203.88,1041.87 1205.94,1042.44 1208.01,1043 1210.08,1043.57 1212.14,1044.13 1214.21,1044.7 1216.28,1045.26 1218.34,1045.82 1220.41,1046.38 1222.48,1046.94 1224.55,1047.5 1226.61,1048.05 1228.68,1048.61 1230.75,1049.16 1232.82,1049.71 1234.88,1050.26 1236.95,1050.81 1239.02,1051.35 1241.09,1051.89 1243.15,1052.43 1245.22,1052.97 1247.29,1053.51 1249.35,1054.04 1251.42,1054.57 1253.48,1055.1 1255.55,1055.62 1257.61,1056.14 1259.68,1056.66 1261.74,1057.18 1263.81,1057.69 1265.87,1058.2 1267.93,1058.71 1270,1059.22 1272.06,1059.72 1274.12,1060.22 1276.19,1060.71 1278.25,1061.21 1280.31,1061.7 1282.38,1062.18 1284.44,1062.67 1286.5,1063.15 1288.57,1063.63 1290.63,1064.1 1292.69,1064.57 1294.75,1065.04 1296.82,1065.5 1298.88,1065.96 1300.94,1066.42 1303.01,1066.88 1305.07,1067.33 1307.13,1067.78 1309.2,1068.22 1311.26,1068.66 1313.32,1069.1 1315.39,1069.53 1317.45,1069.96 1319.52,1070.39 1321.58,1070.81 1323.65,1071.23 1325.71,1071.64 1327.78,1072.06 1329.84,1072.46 1331.91,1072.87 1333.97,1073.27 1336.04,1073.66 1338.11,1074.06 1340.17,1074.44 1342.24,1074.83 1344.31,1075.21 1346.38,1075.59 1348.45,1075.96 1350.52,1076.33 1352.58,1076.69 1354.65,1077.05 1356.73,1077.41 1358.8,1077.76 1360.87,1078.1 1362.94,1078.45 1365.01,1078.79 1367.09,1079.12 1369.16,1079.45 1371.23,1079.78 1373.31,1080.1 1375.38,1080.41 1377.46,1080.73 1379.54,1081.03 1381.61,1081.34 1383.69,1081.63 1385.77,1081.93 1387.85,1082.22 1389.93,1082.5 1392.01,1082.78 1394.09,1083.06 1396.17,1083.33 1398.26,1083.59 1400.34,1083.85 1402.43,1084.11 1404.51,1084.36 1406.6,1084.61 1408.69,1084.85 1410.77,1085.09 1412.86,1085.32 1414.95,1085.54 1417.04,1085.76 1419.14,1085.98 1421.23,1086.19 1423.32,1086.4 1425.42,1086.6" fill="none" stroke="#e03c42" stroke-width="3.1" stroke-linejoin="round" stroke-linecap="butt" clip-path="url(#cpE)"/>
<path d="M878.42,598.44 878.53,601.26 878.65,604.07 878.77,606.87 878.89,609.65 879.03,612.43 879.17,615.19 879.31,617.94 879.46,620.68 879.61,623.41 879.77,626.13 879.94,628.84 880.11,631.54 880.28,634.23 880.46,636.91 880.64,639.58 880.83,642.24 881.02,644.89 881.22,647.53 881.42,650.17 881.62,652.79 881.83,655.41 882.05,658.02 882.26,660.63 882.48,663.22 882.7,665.81 882.93,668.39 883.16,670.97 883.39,673.54 883.63,676.1 883.87,678.66 884.11,681.21 884.35,683.75 884.6,686.29 884.85,688.82 885.1,691.35 885.35,693.88 885.61,696.4 885.87,698.92 886.13,701.43 886.39,703.93 886.65,706.44 886.92,708.94 887.18,711.44 887.45,713.93 887.72,716.42 887.99,718.91 888.26,721.4 888.53,723.89 888.81,726.37 889.08,728.85 889.36,731.33 889.63,733.81 889.9,736.29 890.18,738.76 890.45,741.24 890.73,743.72 891.01,746.19 891.28,748.67 891.55,751.14 891.83,753.62 892.1,756.1 892.38,758.58 892.65,761.06 892.92,763.54 893.19,766.02 893.46,768.51 893.73,770.99 893.99,773.48 894.26,775.97 894.52,778.47 894.78,780.96 895.05,783.46 895.3,785.97 895.56,788.47 895.82,790.98 896.08,793.49 896.33,796 896.59,798.51 896.85,801.02 897.11,803.54 897.37,806.05 897.63,808.56 897.9,811.06 898.17,813.57 898.44,816.07 898.72,818.57 899,821.07 899.29,823.57 899.58,826.06 899.87,828.54 900.18,831.02 900.49,833.49 900.8,835.96 901.12,838.42 901.45,840.88 901.79,843.32 902.14,845.76 902.5,848.19 902.86,850.61 903.24,853.03 903.62,855.43 904.02,857.82 904.43,860.21 904.85,862.58 905.28,864.94 905.72,867.29 906.17,869.62 906.64,871.94 907.12,874.25 907.62,876.55 908.13,878.83 908.66,881.1 909.2,883.35 909.75,885.59 910.32,887.81 910.91,890.01 911.52,892.2 912.14,894.37 912.78,896.52 913.44,898.65 914.12,900.77 914.81,902.86 915.53,904.94 916.26,907 917.02,909.03 917.79,911.04 918.59,913.03 919.4,915 920.24,916.95 921.09,918.87 921.97,920.76 922.87,922.63 923.79,924.47 924.73,926.29 925.7,928.08 926.68,929.84 927.69,931.57 928.72,933.28 929.78,934.95 930.85,936.59 931.95,938.2 933.08,939.78 934.22,941.33 935.4,942.84 936.59,944.32 937.81,945.77 939.06,947.18 940.33,948.55 941.62,949.89 942.94,951.19 944.29,952.46 945.66,953.68 947.05,954.88 948.46,956.04 949.89,957.16 951.35,958.25 952.82,959.31 954.31,960.33 955.83,961.33 957.35,962.29 958.9,963.22 960.46,964.12 962.04,964.98 963.63,965.82 965.23,966.63 966.85,967.41 968.48,968.17 970.12,968.89 971.77,969.59 973.44,970.26 975.11,970.91 976.79,971.53 978.47,972.12 980.16,972.69 981.86,973.24 983.57,973.76 985.28,974.26 986.99,974.73 988.71,975.19 990.44,975.63 992.16,976.04 993.9,976.44 995.64,976.82 997.38,977.19 999.13,977.54 1000.88,977.87 1002.64,978.2 1004.41,978.5 1006.17,978.8 1007.95,979.09 1009.72,979.37 1011.51,979.63 1013.29,979.89 1015.08,980.15 1016.88,980.39 1018.68,980.64 1020.49,980.87 1022.3,981.11 1024.11,981.34 1025.93,981.57 1027.75,981.8 1029.58,982.03 1031.41,982.26 1033.25,982.49 1035.09,982.73 1036.93,982.97 1038.78,983.21 1040.64,983.47 1042.5,983.72 1044.36,983.99 1046.23,984.26 1048.1,984.55 1049.97,984.84 1051.85,985.15 1053.74,985.46 1055.63,985.78 1057.52,986.11 1059.41,986.45 1061.31,986.8 1063.22,987.15 1065.12,987.52 1067.04,987.89 1068.95,988.28 1070.87,988.67 1072.79,989.07 1074.72,989.47 1076.65,989.89 1078.58,990.31 1080.51,990.74 1082.45,991.18 1084.4,991.62 1086.34,992.07 1088.29,992.53 1090.24,993 1092.2,993.47 1094.16,993.95 1096.12,994.44 1098.08,994.93 1100.05,995.43 1102.02,995.94 1103.99,996.45 1105.97,996.97 1107.95,997.49 1109.93,998.02 1111.91,998.56 1113.9,999.1 1115.88,999.65 1117.87,1000.2 1119.87,1000.76 1121.86,1001.32 1123.86,1001.89 1125.86,1002.46 1127.86,1003.04 1129.86,1003.62 1131.87,1004.21 1133.88,1004.8 1135.89,1005.4 1137.9,1006 1139.91,1006.6 1141.93,1007.21 1143.95,1007.83 1145.97,1008.44 1147.99,1009.06 1150.01,1009.69 1152.03,1010.31 1154.06,1010.94 1156.08,1011.58 1158.11,1012.21 1160.14,1012.85 1162.17,1013.5 1164.2,1014.14 1166.24,1014.79 1168.27,1015.44 1170.3,1016.09 1172.34,1016.75 1174.38,1017.41 1176.41,1018.07 1178.45,1018.73 1180.49,1019.39 1182.53,1020.06 1184.57,1020.72 1186.62,1021.39 1188.66,1022.06 1190.7,1022.73 1192.74,1023.4 1194.79,1024.08 1196.83,1024.75 1198.88,1025.42 1200.92,1026.1 1202.97,1026.78 1205.01,1027.45 1207.06,1028.13 1209.1,1028.8 1211.15,1029.48 1213.19,1030.16 1215.24,1030.83 1217.28,1031.51 1219.33,1032.19 1221.37,1032.86 1223.42,1033.54 1225.46,1034.21 1227.51,1034.88 1229.55,1035.56 1231.59,1036.23 1233.64,1036.9 1235.68,1037.57 1237.72,1038.23 1239.76,1038.9 1241.8,1039.56 1243.84,1040.23 1245.88,1040.89 1247.91,1041.55 1249.95,1042.2 1251.99,1042.86 1254.02,1043.51 1256.05,1044.16 1258.09,1044.81 1260.12,1045.45 1262.15,1046.09 1264.18,1046.73 1266.21,1047.37 1268.24,1048.01 1270.27,1048.64 1272.3,1049.27 1274.33,1049.9 1276.36,1050.53 1278.38,1051.15 1280.41,1051.77 1282.44,1052.39 1284.46,1053 1286.49,1053.62 1288.51,1054.23 1290.54,1054.83 1292.56,1055.44 1294.59,1056.04 1296.61,1056.64 1298.64,1057.23 1300.66,1057.82 1302.69,1058.41 1304.71,1059 1306.74,1059.58 1308.76,1060.16 1310.79,1060.74 1312.81,1061.31 1314.84,1061.88 1316.86,1062.45 1318.89,1063.01 1320.92,1063.57 1322.94,1064.13 1324.97,1064.68 1327,1065.23 1329.02,1065.78 1331.05,1066.32 1333.08,1066.86 1335.11,1067.4 1337.14,1067.93 1339.17,1068.46 1341.2,1068.98 1343.23,1069.5 1345.27,1070.02 1347.3,1070.53 1349.33,1071.04 1351.37,1071.55 1353.41,1072.05 1355.44,1072.55 1357.48,1073.04 1359.52,1073.53 1361.56,1074.01 1363.6,1074.5 1365.64,1074.97 1367.68,1075.45 1369.73,1075.91 1371.77,1076.38 1373.82,1076.84 1375.87,1077.29 1377.92,1077.75 1379.97,1078.19 1382.02,1078.63 1384.07,1079.07 1386.13,1079.51 1388.18,1079.93 1390.24,1080.36 1392.3,1080.78 1394.36,1081.19 1396.42,1081.6 1398.49,1082.01 1400.55,1082.41 1402.62,1082.81 1404.69,1083.2 1406.76,1083.58 1408.83,1083.96 1410.9,1084.34 1412.98,1084.71 1415.06,1085.08 1417.14,1085.44 1419.22,1085.8 1421.31,1086.15 1423.39,1086.49 1425.48,1086.83" fill="none" stroke="#3f74e0" stroke-width="3.1" stroke-linejoin="round" stroke-linecap="butt" clip-path="url(#cpE)"/>
<path d="M881.42,598.47 881.57,601.24 881.71,604.01 881.86,606.76 882.01,609.51 882.17,612.26 882.32,614.99 882.48,617.72 882.63,620.43 882.79,623.15 882.95,625.85 883.11,628.54 883.28,631.23 883.44,633.91 883.61,636.59 883.77,639.26 883.94,641.92 884.12,644.57 884.29,647.22 884.47,649.86 884.64,652.5 884.82,655.12 885,657.75 885.19,660.36 885.37,662.98 885.56,665.58 885.75,668.18 885.94,670.77 886.14,673.36 886.33,675.95 886.53,678.53 886.73,681.1 886.94,683.67 887.15,686.23 887.36,688.79 887.57,691.34 887.78,693.89 888,696.44 888.22,698.98 888.44,701.52 888.67,704.05 888.9,706.58 889.13,709.11 889.36,711.63 889.6,714.15 889.84,716.67 890.08,719.18 890.33,721.69 890.58,724.19 890.83,726.7 891.09,729.2 891.35,731.7 891.61,734.19 891.87,736.68 892.14,739.18 892.42,741.66 892.69,744.15 892.97,746.63 893.26,749.12 893.54,751.6 893.83,754.08 894.13,756.56 894.43,759.03 894.73,761.51 895.04,763.98 895.35,766.45 895.66,768.93 895.98,771.4 896.3,773.87 896.62,776.34 896.95,778.81 897.29,781.28 897.63,783.75 897.97,786.22 898.32,788.68 898.67,791.15 899.03,793.62 899.39,796.08 899.76,798.54 900.13,801 900.51,803.46 900.89,805.92 901.28,808.37 901.68,810.81 902.09,813.26 902.5,815.7 902.92,818.13 903.35,820.56 903.78,822.99 904.22,825.4 904.67,827.82 905.13,830.22 905.6,832.62 906.08,835.02 906.56,837.4 907.06,839.78 907.56,842.15 908.07,844.51 908.6,846.87 909.13,849.21 909.68,851.55 910.23,853.87 910.8,856.19 911.37,858.5 911.96,860.79 912.56,863.08 913.17,865.35 913.8,867.61 914.43,869.86 915.08,872.09 915.75,874.3 916.43,876.5 917.13,878.68 917.85,880.84 918.58,882.97 919.34,885.09 920.11,887.18 920.9,889.24 921.72,891.27 922.56,893.28 923.42,895.26 924.3,897.2 925.21,899.12 926.15,901 927.11,902.85 928.09,904.66 929.11,906.44 930.15,908.18 931.21,909.88 932.31,911.55 933.43,913.18 934.58,914.78 935.76,916.33 936.97,917.85 938.21,919.32 939.48,920.76 940.78,922.15 942.12,923.51 943.48,924.82 944.87,926.08 946.3,927.31 947.76,928.49 949.26,929.62 950.78,930.71 952.34,931.75 953.94,932.75 955.57,933.7 957.24,934.6 958.94,935.45 960.67,936.25 962.44,937.01 964.24,937.73 966.07,938.4 967.92,939.03 969.79,939.62 971.68,940.17 973.59,940.69 975.51,941.17 977.44,941.62 979.38,942.05 981.33,942.44 983.29,942.81 985.24,943.16 987.19,943.48 989.14,943.78 991.08,944.06 993.01,944.33 994.92,944.58 996.83,944.82 998.71,945.04 1000.58,945.26 1002.42,945.47 1004.24,945.67 1006.03,945.87 1007.79,946.07 1009.52,946.26 1011.21,946.46 1012.88,946.66 1014.51,946.86 1016.13,947.06 1017.72,947.26 1019.3,947.46 1020.86,947.66 1022.41,947.86 1023.96,948.07 1025.5,948.28 1027.04,948.49 1028.58,948.7 1030.13,948.91 1031.69,949.12 1033.25,949.34 1034.84,949.55 1036.44,949.77 1038.06,949.99 1039.71,950.22 1041.39,950.44 1043.09,950.67 1044.84,950.9 1046.61,951.14 1048.43,951.37 1050.27,951.62 1052.14,951.87 1054.03,952.13 1055.95,952.4 1057.89,952.67 1059.84,952.97 1061.81,953.27 1063.79,953.59 1065.78,953.93 1067.77,954.28 1069.77,954.65 1071.77,955.04 1073.76,955.45 1075.76,955.89 1077.76,956.33 1079.76,956.8 1081.77,957.29 1083.77,957.79 1085.77,958.31 1087.77,958.85 1089.78,959.4 1091.78,959.97 1093.79,960.55 1095.79,961.15 1097.8,961.77 1099.8,962.4 1101.81,963.04 1103.82,963.7 1105.82,964.37 1107.83,965.05 1109.84,965.75 1111.85,966.45 1113.85,967.18 1115.86,967.91 1117.87,968.65 1119.87,969.4 1121.88,970.17 1123.89,970.94 1125.89,971.73 1127.9,972.52 1129.9,973.32 1131.91,974.13 1133.92,974.95 1135.92,975.78 1137.92,976.61 1139.93,977.46 1141.93,978.3 1143.93,979.16 1145.93,980.02 1147.94,980.88 1149.94,981.76 1151.94,982.63 1153.93,983.51 1155.93,984.4 1157.93,985.29 1159.92,986.18 1161.92,987.07 1163.91,987.97 1165.91,988.87 1167.9,989.77 1169.89,990.67 1171.88,991.58 1173.87,992.48 1175.85,993.39 1177.84,994.29 1179.82,995.19 1181.8,996.1 1183.79,997 1185.77,997.9 1187.74,998.8 1189.72,999.7 1191.7,1000.59 1193.67,1001.49 1195.65,1002.38 1197.63,1003.27 1199.61,1004.16 1201.59,1005.05 1203.58,1005.95 1205.58,1006.84 1207.58,1007.73 1209.58,1008.63 1211.6,1009.52 1213.62,1010.42 1215.65,1011.32 1217.69,1012.23 1219.75,1013.14 1221.8,1014.05 1223.86,1014.96 1225.91,1015.87 1227.95,1016.78 1229.97,1017.68 1231.97,1018.59 1233.94,1019.49 1235.88,1020.39 1237.77,1021.28 1239.63,1022.16 1241.43,1023.03 1243.17,1023.9 1244.85,1024.75 1246.46,1025.6 1248.01,1026.43 1249.48,1027.25 1250.88,1028.06 1252.23,1028.85 1253.51,1029.63 1254.74,1030.39 1255.93,1031.14 1257.06,1031.88 1258.15,1032.6 1259.21,1033.31 1260.23,1034.01 1261.22,1034.69 1262.19,1035.35 1263.16,1036.01 1264.11,1036.66 1265.07,1037.3 1266.04,1037.93 1267.02,1038.56 1268.03,1039.18 1269.07,1039.81 1270.15,1040.43 1271.28,1041.05 1272.45,1041.67 1273.69,1042.3 1274.99,1042.93 1276.37,1043.57 1277.83,1044.21 1279.37,1044.87 1281,1045.53 1282.7,1046.2 1284.46,1046.87 1286.29,1047.55 1288.18,1048.24 1290.11,1048.93 1292.08,1049.63 1294.1,1050.33 1296.14,1051.04 1298.21,1051.75 1300.3,1052.46 1302.39,1053.18 1304.5,1053.89 1306.6,1054.61 1308.7,1055.33 1310.8,1056.05 1312.89,1056.76 1314.98,1057.48 1317.07,1058.2 1319.15,1058.92 1321.22,1059.63 1323.29,1060.34 1325.36,1061.05 1327.42,1061.76 1329.48,1062.46 1331.54,1063.16 1333.59,1063.86 1335.64,1064.55 1337.68,1065.24 1339.72,1065.92 1341.76,1066.6 1343.79,1067.27 1345.82,1067.93 1347.85,1068.59 1349.87,1069.24 1351.9,1069.88 1353.92,1070.52 1355.93,1071.14 1357.95,1071.76 1359.97,1072.38 1361.98,1072.98 1364,1073.57 1366.01,1074.16 1368.02,1074.73 1370.04,1075.3 1372.05,1075.85 1374.07,1076.4 1376.08,1076.93 1378.1,1077.45 1380.12,1077.96 1382.14,1078.46 1384.16,1078.95 1386.19,1079.42 1388.21,1079.88 1390.24,1080.33 1392.28,1080.77 1394.31,1081.19 1396.35,1081.6 1398.4,1081.99 1400.44,1082.37 1402.5,1082.73 1404.55,1083.08 1406.61,1083.41 1408.68,1083.73 1410.75,1084.03 1412.83,1084.31 1414.92,1084.58 1417.01,1084.83 1419.1,1085.06 1421.21,1085.28 1423.32,1085.47 1425.44,1085.65" fill="none" stroke="#2f9628" stroke-width="3.1" stroke-linejoin="round" stroke-linecap="butt" clip-path="url(#cpE)"/>
<path d="M876.59,598.35 876.77,601.1 876.95,603.85 877.13,606.58 877.31,609.3 877.5,612.01 877.69,614.7 877.88,617.39 878.08,620.06 878.28,622.72 878.48,625.38 878.69,628.02 878.89,630.65 879.1,633.27 879.32,635.89 879.53,638.49 879.75,641.08 879.97,643.67 880.2,646.24 880.43,648.81 880.66,651.37 880.9,653.92 881.14,656.46 881.38,659 881.62,661.52 881.87,664.04 882.13,666.56 882.38,669.06 882.64,671.56 882.9,674.06 883.17,676.55 883.44,679.03 883.72,681.5 883.99,683.97 884.28,686.44 884.56,688.9 884.85,691.35 885.15,693.8 885.44,696.25 885.74,698.69 886.05,701.13 886.36,703.56 886.67,705.99 886.99,708.42 887.31,710.85 887.64,713.27 887.97,715.69 888.31,718.1 888.65,720.52 888.99,722.93 889.34,725.34 889.69,727.75 890.05,730.16 890.41,732.57 890.78,734.97 891.15,737.38 891.53,739.78 891.91,742.19 892.29,744.59 892.68,747 893.08,749.41 893.48,751.81 893.88,754.22 894.29,756.63 894.71,759.04 895.13,761.45 895.55,763.86 895.98,766.28 896.42,768.7 896.86,771.12 897.31,773.54 897.76,775.97 898.22,778.4 898.68,780.83 899.15,783.27 899.62,785.71 900.1,788.15 900.58,790.59 901.08,793.03 901.58,795.48 902.09,797.92 902.6,800.36 903.13,802.8 903.67,805.23 904.21,807.66 904.77,810.08 905.33,812.5 905.91,814.9 906.5,817.3 907.1,819.69 907.71,822.07 908.34,824.44 908.98,826.8 909.63,829.14 910.3,831.47 910.99,833.78 911.68,836.08 912.4,838.36 913.13,840.62 913.88,842.87 914.64,845.09 915.42,847.29 916.22,849.48 917.04,851.64 917.88,853.77 918.74,855.89 919.61,857.97 920.51,860.03 921.43,862.07 922.37,864.08 923.33,866.05 924.31,868 925.32,869.92 926.35,871.8 927.4,873.66 928.48,875.48 929.58,877.26 930.71,879.01 931.86,880.73 933.04,882.41 934.24,884.05 935.48,885.65 936.73,887.21 938.02,888.73 939.33,890.21 940.68,891.64 942.05,893.03 943.45,894.39 944.87,895.69 946.32,896.96 947.8,898.19 949.3,899.37 950.83,900.51 952.38,901.61 953.95,902.66 955.54,903.68 957.16,904.65 958.79,905.58 960.45,906.47 962.13,907.31 963.82,908.12 965.54,908.88 967.27,909.6 969.02,910.28 970.79,910.92 972.57,911.52 974.37,912.07 976.18,912.59 978.01,913.06 979.85,913.49 981.7,913.88 983.56,914.23 985.44,914.54 987.32,914.81 989.21,915.04 991.1,915.24 992.98,915.41 994.85,915.55 996.71,915.67 998.56,915.77 1000.38,915.85 1002.17,915.91 1003.94,915.96 1005.67,916 1007.36,916.03 1009.01,916.05 1010.62,916.08 1012.18,916.1 1013.71,916.13 1015.22,916.15 1016.7,916.17 1018.17,916.2 1019.64,916.23 1021.11,916.26 1022.58,916.3 1024.07,916.34 1025.57,916.38 1027.1,916.43 1028.65,916.49 1030.23,916.55 1031.83,916.62 1033.44,916.7 1035.08,916.79 1036.74,916.89 1038.41,917 1040.11,917.11 1041.82,917.25 1043.55,917.39 1045.29,917.54 1047.05,917.71 1048.83,917.9 1050.62,918.09 1052.43,918.31 1054.24,918.54 1056.07,918.78 1057.91,919.05 1059.77,919.33 1061.63,919.63 1063.5,919.95 1065.38,920.29 1067.27,920.65 1069.17,921.03 1071.08,921.43 1072.99,921.86 1074.91,922.31 1076.83,922.78 1078.76,923.28 1080.69,923.8 1082.62,924.35 1084.56,924.93 1086.5,925.53 1088.44,926.16 1090.38,926.82 1092.32,927.5 1094.26,928.22 1096.2,928.97 1098.14,929.75 1100.07,930.56 1102,931.4 1103.93,932.27 1105.86,933.16 1107.79,934.09 1109.71,935.03 1111.63,936 1113.54,937 1115.46,938.01 1117.37,939.04 1119.28,940.1 1121.18,941.16 1123.09,942.25 1124.99,943.34 1126.89,944.45 1128.79,945.57 1130.68,946.7 1132.57,947.84 1134.46,948.99 1136.35,950.14 1138.24,951.29 1140.12,952.45 1142,953.61 1143.88,954.77 1145.76,955.93 1147.63,957.09 1149.5,958.24 1151.37,959.39 1153.24,960.53 1155.1,961.66 1156.97,962.79 1158.83,963.9 1160.69,965 1162.54,966.09 1164.4,967.17 1166.25,968.25 1168.11,969.31 1169.96,970.37 1171.82,971.42 1173.67,972.47 1175.53,973.51 1177.38,974.55 1179.24,975.59 1181.1,976.62 1182.96,977.65 1184.82,978.69 1186.69,979.72 1188.56,980.75 1190.43,981.79 1192.31,982.83 1194.19,983.87 1196.07,984.92 1197.96,985.97 1199.86,987.03 1201.76,988.09 1203.66,989.17 1205.57,990.25 1207.49,991.34 1209.42,992.44 1211.35,993.56 1213.29,994.68 1215.24,995.82 1217.19,996.97 1219.16,998.14 1221.13,999.32 1223.09,1000.5 1225.06,1001.69 1227.01,1002.89 1228.96,1004.08 1230.88,1005.27 1232.78,1006.44 1234.65,1007.61 1236.5,1008.75 1238.3,1009.88 1240.06,1010.99 1241.78,1012.07 1243.44,1013.12 1245.05,1014.14 1246.6,1015.11 1248.09,1016.05 1249.51,1016.96 1250.87,1017.82 1252.17,1018.66 1253.42,1019.47 1254.61,1020.26 1255.75,1021.02 1256.84,1021.77 1257.89,1022.51 1258.89,1023.23 1259.85,1023.95 1260.78,1024.67 1261.68,1025.38 1262.55,1026.08 1263.42,1026.78 1264.29,1027.47 1265.16,1028.15 1266.04,1028.82 1266.94,1029.49 1267.87,1030.15 1268.84,1030.8 1269.85,1031.45 1270.91,1032.1 1272.02,1032.75 1273.19,1033.41 1274.44,1034.08 1275.76,1034.77 1277.16,1035.47 1278.65,1036.19 1280.23,1036.93 1281.88,1037.69 1283.6,1038.46 1285.39,1039.26 1287.23,1040.06 1289.12,1040.88 1291.05,1041.71 1293.02,1042.55 1295.02,1043.4 1297.04,1044.25 1299.08,1045.11 1301.12,1045.98 1303.17,1046.84 1305.21,1047.71 1307.24,1048.58 1309.26,1049.44 1311.26,1050.31 1313.25,1051.17 1315.23,1052.03 1317.2,1052.89 1319.17,1053.75 1321.12,1054.6 1323.06,1055.45 1325.01,1056.3 1326.94,1057.14 1328.87,1057.97 1330.8,1058.81 1332.73,1059.63 1334.66,1060.46 1336.59,1061.27 1338.52,1062.08 1340.45,1062.88 1342.38,1063.68 1344.32,1064.47 1346.26,1065.25 1348.2,1066.03 1350.14,1066.79 1352.08,1067.55 1354.02,1068.3 1355.97,1069.04 1357.92,1069.77 1359.87,1070.49 1361.82,1071.2 1363.78,1071.9 1365.73,1072.58 1367.69,1073.26 1369.65,1073.93 1371.61,1074.58 1373.58,1075.22 1375.54,1075.85 1377.51,1076.47 1379.48,1077.07 1381.45,1077.66 1383.43,1078.24 1385.4,1078.8 1387.38,1079.34 1389.36,1079.88 1391.34,1080.39 1393.33,1080.89 1395.32,1081.38 1397.31,1081.85 1399.3,1082.3 1401.29,1082.74 1403.29,1083.15 1405.29,1083.55 1407.29,1083.94 1409.29,1084.3 1411.3,1084.65 1413.31,1084.97 1415.32,1085.28 1417.33,1085.57 1419.35,1085.84 1421.36,1086.08 1423.38,1086.31 1425.41,1086.52" fill="none" stroke="#b070e8" stroke-width="3.1" stroke-linejoin="round" stroke-linecap="butt" clip-path="url(#cpE)"/>
<line x1="1068.4" y1="856.4" x2="1068.4" y2="1087" stroke="#000" stroke-width="2.3" stroke-dasharray="12.3 12.2"/>
<text class="sn" x="1072.3" y="845.3" font-size="35.5" text-anchor="middle">340</text>
<rect x="830.9" y="650.6" width="594.5" height="478.8" fill="none" stroke="#000" stroke-width="1.5"/>
<text class="sf" x="830.9" y="1170" font-size="32" text-anchor="middle">300</text>
<text class="sf" x="949.8" y="1170" font-size="32" text-anchor="middle">320</text>
<text class="sf" x="1068.7" y="1170" font-size="32" text-anchor="middle">340</text>
<text class="sf" x="1187.6" y="1170" font-size="32" text-anchor="middle">360</text>
<text class="sf" x="1306.5" y="1170" font-size="32" text-anchor="middle">380</text>
<text class="sf" x="1425.4" y="1170" font-size="32" text-anchor="middle">400</text>
<text class="sf" x="815.2" y="1095.8" font-size="32" text-anchor="end">0.0</text>
<text class="sf" x="815.2" y="1008.62" font-size="32" text-anchor="end">0.2</text>
<text class="sf" x="815.2" y="921.44" font-size="32" text-anchor="end">0.4</text>
<text class="sf" x="815.2" y="834.26" font-size="32" text-anchor="end">0.6</text>
<text class="sf" x="815.2" y="747.08" font-size="32" text-anchor="end">0.8</text>
<text class="sf" x="815.2" y="659.9" font-size="32" text-anchor="end">1.0</text>
<text class="sf" x="1144" y="1211.4" font-size="41.15" text-anchor="middle">Wavelength (nm)</text>
<text class="sf" x="762" y="875" font-size="40.8" text-anchor="middle" transform="rotate(-90 762 875)">Absorbance (a.u.)</text>
<text class="sf" x="719.7" y="623.5" font-size="57">E</text>
<text class="sf" x="1358.5" y="686" font-size="36.2" text-anchor="middle" fill="#808080">0 min</text>
<text class="sf" x="1361.7" y="730.9" font-size="36.2" text-anchor="middle" fill="#e8241a">15 min</text>
<text class="sf" x="1361.7" y="775.4" font-size="36.2" text-anchor="middle" fill="#4a8be0">30 min</text>
<text class="sf" x="1361.7" y="820.2" font-size="36.2" text-anchor="middle" fill="#2e8b22">45 min</text>
<text class="sf" x="1361.7" y="864.6" font-size="36.2" text-anchor="middle" fill="#a530e0">60 min</text>
<defs>
<clipPath id="cpF"><rect x="1540.9" y="650.3" width="594.1" height="478.4"/></clipPath>
</defs>
<path d="M1589.62,598.1 1589.8,600.85 1589.98,603.59 1590.17,606.32 1590.35,609.05 1590.53,611.77 1590.72,614.48 1590.9,617.19 1591.09,619.88 1591.27,622.58 1591.46,625.26 1591.64,627.94 1591.83,630.61 1592.01,633.27 1592.2,635.93 1592.38,638.58 1592.56,641.22 1592.75,643.85 1592.93,646.48 1593.11,649.1 1593.29,651.7 1593.47,654.31 1593.65,656.9 1593.83,659.49 1594.01,662.06 1594.18,664.63 1594.36,667.19 1594.53,669.75 1594.71,672.29 1594.88,674.82 1595.05,677.35 1595.22,679.87 1595.39,682.38 1595.55,684.88 1595.72,687.37 1595.88,689.85 1596.04,692.32 1596.2,694.79 1596.36,697.24 1596.52,699.68 1596.67,702.11 1596.83,704.53 1596.98,706.93 1597.13,709.31 1597.28,711.67 1597.44,714.01 1597.59,716.33 1597.74,718.62 1597.89,720.88 1598.04,723.12 1598.2,725.32 1598.35,727.49 1598.51,729.63 1598.67,731.73 1598.83,733.8 1598.99,735.82 1599.15,737.81 1599.32,739.77 1599.49,741.71 1599.66,743.63 1599.84,745.54 1600.03,747.46 1600.22,749.39 1600.42,751.33 1600.63,753.3 1600.85,755.3 1601.07,757.34 1601.31,759.43 1601.55,761.57 1601.81,763.76 1602.07,765.98 1602.34,768.25 1602.62,770.55 1602.91,772.88 1603.2,775.24 1603.5,777.62 1603.81,780.02 1604.12,782.44 1604.43,784.88 1604.75,787.32 1605.07,789.78 1605.4,792.23 1605.73,794.69 1606.05,797.14 1606.39,799.59 1606.72,802.03 1607.05,804.45 1607.39,806.86 1607.72,809.25 1608.06,811.62 1608.41,813.97 1608.75,816.28 1609.1,818.57 1609.45,820.83 1609.81,823.05 1610.17,825.24 1610.54,827.38 1610.91,829.48 1611.29,831.54 1611.68,833.55 1612.07,835.5 1612.47,837.4 1612.87,839.24 1613.29,841.04 1613.71,842.79 1614.14,844.52 1614.58,846.23 1615.02,847.94 1615.48,849.65 1615.95,851.39 1616.43,853.15 1616.92,854.94 1617.42,856.77 1617.93,858.63 1618.46,860.53 1619,862.45 1619.55,864.39 1620.11,866.37 1620.68,868.37 1621.27,870.39 1621.86,872.43 1622.48,874.5 1623.1,876.58 1623.74,878.68 1624.39,880.79 1625.06,882.92 1625.74,885.07 1626.43,887.22 1627.14,889.39 1627.86,891.56 1628.6,893.74 1629.35,895.92 1630.12,898.11 1630.9,900.31 1631.7,902.5 1632.51,904.69 1633.34,906.88 1634.19,909.07 1635.05,911.26 1635.93,913.43 1636.82,915.6 1637.73,917.76 1638.66,919.91 1639.61,922.05 1640.57,924.18 1641.55,926.29 1642.55,928.38 1643.56,930.46 1644.6,932.51 1645.65,934.55 1646.72,936.56 1647.81,938.55 1648.91,940.51 1650.04,942.45 1651.19,944.36 1652.35,946.24 1653.54,948.09 1654.74,949.91 1655.96,951.69 1657.21,953.44 1658.47,955.15 1659.76,956.83 1661.06,958.47 1662.39,960.08 1663.74,961.66 1665.11,963.21 1666.5,964.73 1667.92,966.23 1669.35,967.69 1670.81,969.13 1672.3,970.54 1673.8,971.93 1675.33,973.3 1676.88,974.64 1678.46,975.96 1680.06,977.26 1681.68,978.54 1683.33,979.8 1685.01,981.04 1686.71,982.27 1688.44,983.48 1690.19,984.67 1691.96,985.85 1693.77,987.02 1695.6,988.18 1697.46,989.32 1699.34,990.46 1701.25,991.58 1703.19,992.7 1705.16,993.81 1707.15,994.92 1709.17,996.01 1711.2,997.1 1713.26,998.18 1715.34,999.25 1717.43,1000.31 1719.54,1001.37 1721.66,1002.42 1723.79,1003.46 1725.93,1004.49 1728.08,1005.51 1730.23,1006.53 1732.39,1007.53 1734.55,1008.53 1736.7,1009.52 1738.86,1010.5 1741.01,1011.47 1743.16,1012.43 1745.31,1013.39 1747.45,1014.33 1749.59,1015.27 1751.73,1016.2 1753.87,1017.12 1756,1018.03 1758.13,1018.93 1760.26,1019.82 1762.38,1020.71 1764.5,1021.58 1766.62,1022.45 1768.74,1023.31 1770.85,1024.17 1772.96,1025.01 1775.07,1025.85 1777.18,1026.67 1779.29,1027.49 1781.39,1028.3 1783.49,1029.11 1785.58,1029.9 1787.68,1030.69 1789.77,1031.47 1791.86,1032.24 1793.95,1033.01 1796.03,1033.76 1798.12,1034.51 1800.2,1035.25 1802.28,1035.99 1804.36,1036.71 1806.43,1037.43 1808.5,1038.14 1810.57,1038.85 1812.64,1039.54 1814.71,1040.23 1816.78,1040.91 1818.84,1041.59 1820.9,1042.26 1822.96,1042.92 1825.02,1043.57 1827.07,1044.21 1829.13,1044.85 1831.18,1045.48 1833.23,1046.11 1835.28,1046.73 1837.33,1047.34 1839.37,1047.94 1841.42,1048.54 1843.46,1049.13 1845.5,1049.71 1847.54,1050.29 1849.58,1050.86 1851.62,1051.43 1853.65,1051.98 1855.68,1052.54 1857.72,1053.08 1859.75,1053.62 1861.78,1054.15 1863.81,1054.68 1865.83,1055.2 1867.86,1055.71 1869.89,1056.22 1871.91,1056.72 1873.93,1057.21 1875.95,1057.7 1877.97,1058.18 1879.99,1058.66 1882.01,1059.13 1884.03,1059.59 1886.04,1060.05 1888.06,1060.51 1890.07,1060.95 1892.09,1061.4 1894.1,1061.83 1896.11,1062.26 1898.12,1062.69 1900.14,1063.11 1902.14,1063.52 1904.15,1063.93 1906.16,1064.33 1908.17,1064.73 1910.18,1065.12 1912.18,1065.51 1914.19,1065.89 1916.19,1066.26 1918.2,1066.64 1920.2,1067 1922.21,1067.36 1924.21,1067.72 1926.21,1068.07 1928.22,1068.42 1930.22,1068.76 1932.22,1069.09 1934.22,1069.43 1936.22,1069.75 1938.23,1070.07 1940.23,1070.39 1942.23,1070.7 1944.23,1071.01 1946.23,1071.32 1948.23,1071.61 1950.23,1071.91 1952.23,1072.2 1954.23,1072.48 1956.23,1072.77 1958.23,1073.04 1960.23,1073.32 1962.23,1073.58 1964.24,1073.85 1966.24,1074.11 1968.24,1074.36 1970.24,1074.62 1972.24,1074.86 1974.24,1075.11 1976.25,1075.35 1978.25,1075.58 1980.25,1075.82 1982.26,1076.05 1984.26,1076.27 1986.26,1076.49 1988.27,1076.71 1990.27,1076.92 1992.28,1077.13 1994.29,1077.34 1996.29,1077.54 1998.3,1077.74 2000.31,1077.94 2002.32,1078.13 2004.33,1078.32 2006.34,1078.51 2008.35,1078.69 2010.36,1078.87 2012.38,1079.05 2014.39,1079.22 2016.41,1079.39 2018.42,1079.56 2020.44,1079.73 2022.45,1079.89 2024.47,1080.05 2026.49,1080.2 2028.51,1080.35 2030.54,1080.51 2032.56,1080.65 2034.58,1080.8 2036.61,1080.94 2038.63,1081.08 2040.66,1081.22 2042.69,1081.35 2044.72,1081.48 2046.75,1081.61 2048.78,1081.74 2050.82,1081.87 2052.85,1081.99 2054.89,1082.11 2056.93,1082.23 2058.97,1082.34 2061.01,1082.46 2063.05,1082.57 2065.1,1082.68 2067.14,1082.79 2069.19,1082.89 2071.24,1083 2073.29,1083.1 2075.34,1083.2 2077.4,1083.3 2079.46,1083.39 2081.51,1083.49 2083.57,1083.58 2085.63,1083.67 2087.7,1083.76 2089.76,1083.85 2091.83,1083.94 2093.9,1084.03 2095.97,1084.11 2098.05,1084.19 2100.12,1084.27 2102.2,1084.35 2104.28,1084.43 2106.36,1084.51 2108.44,1084.59 2110.53,1084.66 2112.62,1084.74 2114.71,1084.81 2116.8,1084.88 2118.9,1084.96 2120.99,1085.03 2123.09,1085.1 2125.2,1085.17 2127.3,1085.23 2129.41,1085.3 2131.52,1085.37 2133.63,1085.44 2135.75,1085.5" fill="none" stroke="#808080" stroke-width="3" stroke-linejoin="round" stroke-linecap="butt" clip-path="url(#cpF)"/>
<path d="M1589.58,598.6 1589.77,601.23 1589.95,603.86 1590.14,606.48 1590.32,609.1 1590.5,611.71 1590.69,614.31 1590.87,616.9 1591.05,619.48 1591.23,622.06 1591.42,624.63 1591.6,627.2 1591.78,629.75 1591.96,632.31 1592.14,634.85 1592.33,637.39 1592.51,639.92 1592.69,642.45 1592.88,644.97 1593.06,647.48 1593.25,649.99 1593.44,652.49 1593.63,654.99 1593.81,657.48 1594,659.96 1594.2,662.44 1594.39,664.92 1594.58,667.39 1594.78,669.85 1594.98,672.31 1595.17,674.77 1595.37,677.22 1595.58,679.66 1595.78,682.1 1595.99,684.54 1596.19,686.97 1596.4,689.4 1596.62,691.83 1596.83,694.25 1597.05,696.66 1597.27,699.08 1597.49,701.48 1597.71,703.89 1597.94,706.29 1598.17,708.69 1598.41,711.09 1598.64,713.48 1598.88,715.87 1599.12,718.25 1599.37,720.64 1599.62,723.02 1599.87,725.4 1600.13,727.77 1600.38,730.14 1600.65,732.52 1600.91,734.88 1601.18,737.25 1601.46,739.61 1601.74,741.98 1602.02,744.34 1602.31,746.7 1602.6,749.06 1602.89,751.41 1603.19,753.77 1603.5,756.12 1603.8,758.47 1604.12,760.82 1604.43,763.17 1604.76,765.52 1605.09,767.87 1605.42,770.22 1605.76,772.57 1606.1,774.92 1606.45,777.26 1606.8,779.61 1607.16,781.96 1607.52,784.3 1607.89,786.64 1608.27,788.98 1608.66,791.32 1609.05,793.65 1609.45,795.98 1609.85,798.3 1610.26,800.62 1610.69,802.93 1611.12,805.23 1611.56,807.53 1612,809.82 1612.46,812.09 1612.93,814.36 1613.4,816.62 1613.89,818.86 1614.39,821.1 1614.89,823.32 1615.41,825.53 1615.94,827.73 1616.48,829.91 1617.04,832.07 1617.6,834.23 1618.18,836.36 1618.77,838.48 1619.37,840.58 1619.99,842.66 1620.62,844.72 1621.26,846.77 1621.92,848.79 1622.59,850.79 1623.27,852.78 1623.98,854.73 1624.69,856.67 1625.42,858.59 1626.17,860.47 1626.93,862.34 1627.71,864.18 1628.51,865.99 1629.32,867.78 1630.15,869.54 1631,871.27 1631.87,872.97 1632.75,874.65 1633.65,876.29 1634.57,877.91 1635.51,879.49 1636.47,881.04 1637.44,882.57 1638.44,884.06 1639.45,885.52 1640.48,886.96 1641.52,888.37 1642.59,889.75 1643.67,891.1 1644.77,892.43 1645.89,893.73 1647.02,895 1648.17,896.25 1649.33,897.48 1650.52,898.68 1651.71,899.86 1652.93,901.02 1654.15,902.15 1655.4,903.26 1656.66,904.35 1657.93,905.42 1659.22,906.47 1660.52,907.49 1661.84,908.5 1663.17,909.49 1664.52,910.46 1665.88,911.42 1667.25,912.35 1668.64,913.27 1670.04,914.18 1671.45,915.06 1672.88,915.93 1674.31,916.79 1675.76,917.63 1677.23,918.46 1678.7,919.27 1680.19,920.08 1681.69,920.87 1683.2,921.64 1684.72,922.41 1686.25,923.16 1687.8,923.91 1689.35,924.64 1690.91,925.37 1692.49,926.09 1694.07,926.79 1695.67,927.49 1697.27,928.19 1698.89,928.87 1700.51,929.55 1702.14,930.23 1703.79,930.89 1705.44,931.56 1707.1,932.22 1708.76,932.87 1710.44,933.52 1712.12,934.17 1713.81,934.82 1715.51,935.46 1717.22,936.11 1718.93,936.75 1720.65,937.39 1722.38,938.03 1724.12,938.68 1725.86,939.32 1727.61,939.97 1729.36,940.62 1731.12,941.27 1732.88,941.92 1734.65,942.58 1736.43,943.24 1738.21,943.9 1740,944.58 1741.79,945.25 1743.58,945.94 1745.38,946.63 1747.19,947.32 1748.99,948.03 1750.81,948.74 1752.62,949.46 1754.44,950.19 1756.26,950.93 1758.09,951.68 1759.92,952.44 1761.75,953.2 1763.58,953.98 1765.42,954.76 1767.26,955.55 1769.11,956.35 1770.95,957.15 1772.8,957.96 1774.66,958.78 1776.51,959.61 1778.37,960.44 1780.23,961.28 1782.09,962.13 1783.96,962.98 1785.83,963.84 1787.7,964.7 1789.57,965.57 1791.44,966.45 1793.32,967.33 1795.2,968.21 1797.08,969.11 1798.97,970 1800.85,970.9 1802.74,971.81 1804.63,972.72 1806.52,973.64 1808.41,974.55 1810.31,975.48 1812.2,976.4 1814.1,977.33 1816,978.27 1817.9,979.2 1819.8,980.14 1821.71,981.09 1823.61,982.03 1825.52,982.98 1827.42,983.93 1829.33,984.88 1831.24,985.84 1833.15,986.79 1835.06,987.75 1836.97,988.71 1838.88,989.67 1840.8,990.64 1842.71,991.6 1844.63,992.56 1846.54,993.53 1848.46,994.49 1850.37,995.46 1852.29,996.43 1854.21,997.39 1856.12,998.36 1858.04,999.32 1859.96,1000.29 1861.88,1001.25 1863.79,1002.22 1865.71,1003.18 1867.63,1004.14 1869.54,1005.1 1871.46,1006.06 1873.38,1007.01 1875.3,1007.97 1877.21,1008.92 1879.13,1009.87 1881.05,1010.82 1882.96,1011.77 1884.88,1012.71 1886.8,1013.65 1888.71,1014.59 1890.63,1015.53 1892.55,1016.46 1894.47,1017.39 1896.38,1018.32 1898.3,1019.24 1900.22,1020.16 1902.14,1021.07 1904.06,1021.98 1905.97,1022.89 1907.89,1023.8 1909.81,1024.7 1911.73,1025.59 1913.65,1026.48 1915.57,1027.37 1917.49,1028.25 1919.41,1029.12 1921.33,1030 1923.25,1030.86 1925.18,1031.72 1927.1,1032.58 1929.02,1033.43 1930.94,1034.27 1932.87,1035.11 1934.79,1035.94 1936.72,1036.77 1938.64,1037.59 1940.57,1038.4 1942.5,1039.2 1944.42,1040 1946.35,1040.8 1948.28,1041.58 1950.21,1042.36 1952.14,1043.13 1954.07,1043.9 1956,1044.65 1957.93,1045.4 1959.87,1046.14 1961.8,1046.88 1963.73,1047.6 1965.67,1048.32 1967.61,1049.03 1969.54,1049.73 1971.48,1050.43 1973.42,1051.12 1975.36,1051.8 1977.3,1052.47 1979.24,1053.14 1981.18,1053.8 1983.12,1054.45 1985.06,1055.09 1987.01,1055.73 1988.95,1056.36 1990.9,1056.98 1992.84,1057.6 1994.79,1058.21 1996.74,1058.81 1998.69,1059.4 2000.64,1059.99 2002.59,1060.57 2004.54,1061.15 2006.49,1061.71 2008.44,1062.27 2010.39,1062.83 2012.35,1063.38 2014.3,1063.92 2016.26,1064.45 2018.21,1064.98 2020.17,1065.5 2022.13,1066.01 2024.09,1066.52 2026.05,1067.03 2028.01,1067.52 2029.97,1068.01 2031.93,1068.49 2033.89,1068.97 2035.85,1069.44 2037.82,1069.9 2039.78,1070.36 2041.75,1070.81 2043.72,1071.26 2045.68,1071.7 2047.65,1072.14 2049.62,1072.56 2051.59,1072.99 2053.56,1073.4 2055.53,1073.81 2057.5,1074.22 2059.48,1074.62 2061.45,1075.01 2063.42,1075.4 2065.4,1075.78 2067.37,1076.16 2069.35,1076.53 2071.33,1076.9 2073.31,1077.26 2075.29,1077.61 2077.27,1077.96 2079.25,1078.31 2081.23,1078.65 2083.21,1078.98 2085.2,1079.31 2087.18,1079.63 2089.16,1079.95 2091.15,1080.26 2093.14,1080.57 2095.12,1080.87 2097.11,1081.17 2099.1,1081.47 2101.09,1081.75 2103.08,1082.04 2105.07,1082.32 2107.07,1082.59 2109.06,1082.86 2111.05,1083.12 2113.05,1083.38 2115.04,1083.64 2117.04,1083.89 2119.04,1084.14 2121.04,1084.38 2123.03,1084.62 2125.03,1084.85 2127.03,1085.08 2129.04,1085.3 2131.04,1085.52 2133.04,1085.74 2135.04,1085.95" fill="none" stroke="#e03c42" stroke-width="3" stroke-linejoin="round" stroke-linecap="butt" clip-path="url(#cpF)"/>
<path d="M1593.06,598.83 1593.29,601.24 1593.51,603.66 1593.72,606.08 1593.94,608.5 1594.15,610.92 1594.35,613.35 1594.56,615.78 1594.76,618.21 1594.95,620.64 1595.15,623.08 1595.34,625.51 1595.54,627.95 1595.73,630.39 1595.91,632.83 1596.1,635.27 1596.28,637.71 1596.47,640.15 1596.65,642.59 1596.84,645.03 1597.02,647.47 1597.2,649.91 1597.38,652.34 1597.56,654.78 1597.75,657.22 1597.93,659.66 1598.11,662.09 1598.3,664.53 1598.48,666.96 1598.67,669.39 1598.86,671.82 1599.05,674.24 1599.24,676.66 1599.44,679.09 1599.64,681.5 1599.84,683.92 1600.04,686.33 1600.25,688.74 1600.45,691.15 1600.67,693.55 1600.88,695.95 1601.1,698.35 1601.33,700.74 1601.55,703.12 1601.79,705.51 1602.02,707.88 1602.26,710.26 1602.51,712.63 1602.76,714.99 1603.02,717.35 1603.28,719.7 1603.55,722.05 1603.82,724.39 1604.1,726.72 1604.39,729.05 1604.69,731.37 1604.99,733.69 1605.29,736 1605.61,738.3 1605.93,740.6 1606.26,742.89 1606.6,745.17 1606.94,747.44 1607.3,749.71 1607.66,751.96 1608.03,754.21 1608.41,756.46 1608.79,758.69 1609.19,760.91 1609.6,763.13 1610.02,765.34 1610.44,767.53 1610.88,769.72 1611.32,771.9 1611.78,774.07 1612.25,776.23 1612.73,778.38 1613.22,780.52 1613.72,782.65 1614.23,784.77 1614.75,786.87 1615.29,788.96 1615.84,791.04 1616.4,793.1 1616.97,795.15 1617.56,797.19 1618.16,799.2 1618.78,801.2 1619.41,803.18 1620.05,805.15 1620.71,807.09 1621.39,809.02 1622.08,810.92 1622.79,812.8 1623.51,814.66 1624.25,816.5 1625,818.32 1625.77,820.11 1626.56,821.87 1627.37,823.62 1628.19,825.33 1629.04,827.02 1629.9,828.68 1630.78,830.31 1631.68,831.92 1632.6,833.49 1633.53,835.04 1634.49,836.55 1635.47,838.03 1636.47,839.49 1637.49,840.9 1638.53,842.29 1639.59,843.64 1640.68,844.95 1641.78,846.23 1642.91,847.47 1644.06,848.68 1645.24,849.85 1646.43,850.98 1647.66,852.07 1648.9,853.12 1650.17,854.13 1651.46,855.1 1652.78,856.03 1654.12,856.93 1655.48,857.78 1656.86,858.6 1658.26,859.39 1659.68,860.14 1661.13,860.85 1662.59,861.54 1664.06,862.2 1665.56,862.82 1667.07,863.42 1668.59,863.99 1670.13,864.54 1671.68,865.06 1673.25,865.56 1674.83,866.03 1676.42,866.49 1678.02,866.92 1679.63,867.33 1681.25,867.73 1682.88,868.11 1684.51,868.48 1686.16,868.83 1687.81,869.16 1689.46,869.49 1691.12,869.8 1692.78,870.11 1694.45,870.4 1696.12,870.69 1697.79,870.97 1699.46,871.25 1701.14,871.52 1702.81,871.79 1704.48,872.06 1706.15,872.32 1707.82,872.59 1709.48,872.86 1711.14,873.13 1712.79,873.41 1714.44,873.68 1716.09,873.97 1717.73,874.26 1719.36,874.55 1721,874.86 1722.62,875.16 1724.25,875.48 1725.87,875.8 1727.49,876.13 1729.11,876.47 1730.73,876.82 1732.34,877.17 1733.96,877.54 1735.57,877.91 1737.18,878.3 1738.79,878.69 1740.4,879.1 1742.01,879.52 1743.62,879.95 1745.24,880.39 1746.85,880.85 1748.46,881.32 1750.08,881.8 1751.69,882.3 1753.31,882.81 1754.93,883.34 1756.56,883.88 1758.18,884.44 1759.81,885.01 1761.44,885.6 1763.08,886.21 1764.72,886.83 1766.37,887.47 1768.02,888.13 1769.67,888.81 1771.33,889.51 1773,890.23 1774.67,890.97 1776.34,891.73 1778.03,892.5 1779.72,893.3 1781.41,894.13 1783.11,894.97 1784.82,895.83 1786.54,896.71 1788.26,897.61 1789.98,898.53 1791.71,899.47 1793.45,900.43 1795.19,901.4 1796.94,902.39 1798.69,903.4 1800.44,904.42 1802.2,905.46 1803.97,906.52 1805.73,907.58 1807.5,908.67 1809.28,909.77 1811.06,910.88 1812.84,912 1814.62,913.14 1816.41,914.29 1818.19,915.45 1819.98,916.63 1821.78,917.81 1823.57,919.01 1825.37,920.21 1827.16,921.42 1828.96,922.65 1830.76,923.88 1832.56,925.12 1834.37,926.37 1836.17,927.63 1837.97,928.89 1839.77,930.16 1841.57,931.44 1843.37,932.72 1845.18,934 1846.98,935.3 1848.78,936.59 1850.57,937.89 1852.37,939.2 1854.17,940.5 1855.96,941.81 1857.75,943.12 1859.54,944.44 1861.33,945.75 1863.12,947.07 1864.9,948.38 1866.68,949.7 1868.46,951.02 1870.23,952.33 1872,953.65 1873.77,954.96 1875.54,956.27 1877.3,957.59 1879.06,958.9 1880.82,960.21 1882.57,961.52 1884.33,962.82 1886.08,964.13 1887.83,965.43 1889.58,966.74 1891.32,968.04 1893.07,969.34 1894.81,970.64 1896.55,971.93 1898.29,973.23 1900.03,974.52 1901.76,975.81 1903.5,977.09 1905.24,978.38 1906.97,979.66 1908.7,980.94 1910.44,982.21 1912.17,983.49 1913.9,984.76 1915.63,986.03 1917.36,987.29 1919.1,988.55 1920.83,989.81 1922.56,991.07 1924.29,992.32 1926.02,993.56 1927.75,994.81 1929.48,996.05 1931.22,997.29 1932.95,998.52 1934.69,999.75 1936.42,1000.97 1938.16,1002.19 1939.89,1003.41 1941.63,1004.62 1943.37,1005.82 1945.11,1007.03 1946.86,1008.22 1948.6,1009.42 1950.35,1010.61 1952.1,1011.79 1953.84,1012.97 1955.6,1014.14 1957.35,1015.31 1959.11,1016.47 1960.86,1017.62 1962.62,1018.78 1964.39,1019.92 1966.15,1021.06 1967.92,1022.19 1969.69,1023.32 1971.46,1024.44 1973.23,1025.56 1975.01,1026.67 1976.78,1027.77 1978.56,1028.86 1980.34,1029.95 1982.13,1031.03 1983.91,1032.11 1985.7,1033.17 1987.49,1034.23 1989.28,1035.29 1991.08,1036.33 1992.87,1037.37 1994.67,1038.4 1996.47,1039.42 1998.27,1040.44 2000.08,1041.44 2001.88,1042.44 2003.69,1043.43 2005.5,1044.41 2007.31,1045.38 2009.13,1046.35 2010.94,1047.3 2012.76,1048.25 2014.58,1049.18 2016.4,1050.11 2018.23,1051.03 2020.06,1051.94 2021.88,1052.84 2023.71,1053.73 2025.55,1054.61 2027.38,1055.48 2029.22,1056.34 2031.05,1057.19 2032.89,1058.03 2034.74,1058.86 2036.58,1059.68 2038.43,1060.49 2040.27,1061.29 2042.12,1062.07 2043.98,1062.85 2045.83,1063.61 2047.68,1064.37 2049.54,1065.11 2051.4,1065.84 2053.26,1066.56 2055.13,1067.27 2056.99,1067.97 2058.86,1068.65 2060.73,1069.32 2062.6,1069.98 2064.47,1070.63 2066.34,1071.27 2068.22,1071.89 2070.1,1072.5 2071.98,1073.1 2073.86,1073.68 2075.74,1074.25 2077.63,1074.81 2079.52,1075.36 2081.4,1075.89 2083.3,1076.41 2085.19,1076.91 2087.08,1077.41 2088.98,1077.88 2090.88,1078.35 2092.78,1078.8 2094.68,1079.23 2096.58,1079.65 2098.49,1080.06 2100.39,1080.45 2102.3,1080.83 2104.21,1081.2 2106.13,1081.54 2108.04,1081.88 2109.95,1082.2 2111.87,1082.5 2113.79,1082.79 2115.71,1083.06 2117.63,1083.31 2119.56,1083.56 2121.48,1083.78 2123.41,1083.99 2125.34,1084.18 2127.27,1084.36 2129.21,1084.52 2131.14,1084.67 2133.08,1084.79 2135.01,1084.9" fill="none" stroke="#3f74e0" stroke-width="3" stroke-linejoin="round" stroke-linecap="butt" clip-path="url(#cpF)"/>
<path d="M1595.45,598.59 1595.74,600.97 1596.03,603.35 1596.3,605.73 1596.57,608.11 1596.83,610.5 1597.08,612.89 1597.32,615.29 1597.56,617.68 1597.79,620.08 1598.02,622.47 1598.24,624.87 1598.45,627.27 1598.66,629.67 1598.87,632.07 1599.07,634.47 1599.27,636.87 1599.46,639.27 1599.66,641.67 1599.84,644.07 1600.03,646.47 1600.22,648.87 1600.4,651.27 1600.58,653.66 1600.77,656.06 1600.95,658.45 1601.13,660.84 1601.31,663.23 1601.5,665.62 1601.68,668 1601.87,670.38 1602.06,672.76 1602.25,675.13 1602.44,677.5 1602.64,679.87 1602.84,682.23 1603.04,684.59 1603.25,686.94 1603.47,689.29 1603.69,691.64 1603.91,693.98 1604.14,696.31 1604.38,698.64 1604.62,700.97 1604.87,703.28 1605.13,705.6 1605.4,707.9 1605.67,710.2 1605.95,712.49 1606.24,714.78 1606.55,717.06 1606.86,719.33 1607.18,721.59 1607.51,723.85 1607.85,726.1 1608.2,728.34 1608.57,730.57 1608.95,732.79 1609.34,735 1609.74,737.21 1610.15,739.41 1610.58,741.59 1611.03,743.77 1611.48,745.93 1611.95,748.08 1612.44,750.22 1612.93,752.34 1613.45,754.45 1613.98,756.54 1614.52,758.61 1615.08,760.67 1615.65,762.71 1616.24,764.73 1616.84,766.73 1617.47,768.71 1618.1,770.66 1618.76,772.6 1619.43,774.51 1620.11,776.4 1620.82,778.26 1621.54,780.1 1622.28,781.91 1623.03,783.69 1623.81,785.45 1624.6,787.17 1625.41,788.87 1626.24,790.54 1627.08,792.17 1627.95,793.77 1628.83,795.34 1629.74,796.88 1630.66,798.38 1631.61,799.84 1632.57,801.27 1633.55,802.66 1634.55,804.01 1635.58,805.33 1636.62,806.6 1637.69,807.84 1638.77,809.03 1639.88,810.18 1641.01,811.29 1642.16,812.35 1643.33,813.37 1644.53,814.35 1645.74,815.27 1646.98,816.16 1648.24,816.99 1649.53,817.77 1650.83,818.51 1652.16,819.21 1653.51,819.87 1654.87,820.48 1656.26,821.05 1657.67,821.59 1659.09,822.08 1660.53,822.55 1661.99,822.97 1663.46,823.37 1664.95,823.74 1666.46,824.07 1667.98,824.38 1669.51,824.67 1671.06,824.92 1672.62,825.16 1674.19,825.37 1675.77,825.57 1677.37,825.74 1678.97,825.9 1680.59,826.04 1682.21,826.16 1683.84,826.28 1685.48,826.38 1687.13,826.47 1688.78,826.56 1690.44,826.63 1692.11,826.71 1693.78,826.77 1695.46,826.84 1697.13,826.9 1698.82,826.97 1700.5,827.04 1702.19,827.11 1703.87,827.18 1705.56,827.27 1707.25,827.36 1708.94,827.46 1710.63,827.57 1712.31,827.69 1714,827.83 1715.68,827.98 1717.36,828.15 1719.04,828.32 1720.71,828.52 1722.39,828.72 1724.06,828.95 1725.73,829.18 1727.4,829.43 1729.06,829.7 1730.73,829.98 1732.39,830.28 1734.06,830.59 1735.72,830.92 1737.38,831.26 1739.03,831.62 1740.69,832 1742.35,832.39 1744,832.8 1745.65,833.23 1747.3,833.67 1748.95,834.13 1750.6,834.61 1752.25,835.11 1753.89,835.62 1755.53,836.15 1757.18,836.7 1758.82,837.27 1760.46,837.85 1762.1,838.46 1763.74,839.08 1765.38,839.72 1767.01,840.39 1768.65,841.07 1770.28,841.77 1771.92,842.49 1773.55,843.23 1775.18,843.99 1776.81,844.77 1778.44,845.57 1780.07,846.39 1781.7,847.23 1783.33,848.1 1784.96,848.98 1786.58,849.88 1788.21,850.8 1789.84,851.75 1791.46,852.71 1793.08,853.69 1794.71,854.69 1796.33,855.7 1797.95,856.74 1799.58,857.79 1801.2,858.86 1802.82,859.95 1804.44,861.05 1806.06,862.18 1807.68,863.31 1809.3,864.47 1810.91,865.64 1812.53,866.82 1814.15,868.02 1815.77,869.24 1817.38,870.47 1819,871.71 1820.62,872.97 1822.23,874.24 1823.85,875.53 1825.46,876.83 1827.08,878.14 1828.69,879.46 1830.31,880.8 1831.92,882.15 1833.53,883.51 1835.15,884.88 1836.76,886.27 1838.37,887.66 1839.99,889.07 1841.6,890.49 1843.21,891.92 1844.83,893.35 1846.44,894.8 1848.05,896.26 1849.66,897.72 1851.28,899.19 1852.89,900.68 1854.5,902.17 1856.11,903.67 1857.73,905.17 1859.34,906.69 1860.95,908.21 1862.56,909.74 1864.17,911.27 1865.79,912.81 1867.4,914.36 1869.01,915.91 1870.63,917.47 1872.24,919.04 1873.85,920.6 1875.47,922.18 1877.08,923.76 1878.69,925.34 1880.31,926.92 1881.92,928.51 1883.54,930.11 1885.15,931.7 1886.77,933.3 1888.38,934.9 1890,936.5 1891.61,938.11 1893.23,939.71 1894.85,941.32 1896.46,942.93 1898.08,944.54 1899.7,946.15 1901.32,947.76 1902.94,949.37 1904.56,950.98 1906.18,952.59 1907.8,954.2 1909.42,955.8 1911.04,957.41 1912.66,959.01 1914.28,960.61 1915.91,962.21 1917.53,963.81 1919.15,965.41 1920.78,967 1922.4,968.58 1924.03,970.17 1925.66,971.75 1927.28,973.32 1928.91,974.89 1930.54,976.46 1932.17,978.02 1933.8,979.58 1935.43,981.13 1937.07,982.67 1938.7,984.21 1940.33,985.74 1941.97,987.27 1943.6,988.78 1945.24,990.3 1946.87,991.8 1948.51,993.29 1950.15,994.78 1951.79,996.26 1953.43,997.73 1955.07,999.19 1956.72,1000.64 1958.36,1002.08 1960,1003.52 1961.65,1004.94 1963.3,1006.35 1964.94,1007.75 1966.59,1009.15 1968.24,1010.53 1969.89,1011.9 1971.55,1013.26 1973.2,1014.62 1974.86,1015.96 1976.51,1017.29 1978.17,1018.61 1979.83,1019.92 1981.5,1021.22 1983.16,1022.51 1984.82,1023.79 1986.49,1025.05 1988.16,1026.31 1989.83,1027.56 1991.5,1028.79 1993.18,1030.01 1994.85,1031.22 1996.53,1032.42 1998.21,1033.61 1999.9,1034.79 2001.58,1035.96 2003.27,1037.11 2004.96,1038.25 2006.65,1039.38 2008.34,1040.5 2010.04,1041.61 2011.74,1042.7 2013.44,1043.79 2015.14,1044.86 2016.85,1045.91 2018.56,1046.96 2020.27,1047.99 2021.98,1049.01 2023.7,1050.02 2025.42,1051.02 2027.14,1052 2028.87,1052.97 2030.59,1053.93 2032.33,1054.87 2034.06,1055.81 2035.8,1056.73 2037.54,1057.63 2039.28,1058.52 2041.03,1059.4 2042.78,1060.27 2044.53,1061.12 2046.29,1061.96 2048.05,1062.78 2049.81,1063.59 2051.58,1064.39 2053.35,1065.18 2055.12,1065.94 2056.9,1066.7 2058.68,1067.44 2060.47,1068.17 2062.26,1068.88 2064.05,1069.58 2065.85,1070.27 2067.65,1070.94 2069.45,1071.59 2071.26,1072.24 2073.07,1072.86 2074.89,1073.47 2076.71,1074.07 2078.53,1074.65 2080.36,1075.22 2082.19,1075.77 2084.03,1076.31 2085.87,1076.83 2087.72,1077.34 2089.57,1077.83 2091.42,1078.31 2093.28,1078.77 2095.15,1079.21 2097.01,1079.64 2098.89,1080.05 2100.77,1080.45 2102.65,1080.83 2104.54,1081.2 2106.43,1081.55 2108.33,1081.88 2110.23,1082.2 2112.13,1082.5 2114.05,1082.79 2115.96,1083.06 2117.89,1083.31 2119.81,1083.55 2121.75,1083.77 2123.68,1083.97 2125.63,1084.15 2127.58,1084.32 2129.53,1084.48 2131.49,1084.61 2133.45,1084.73 2135.42,1084.83" fill="none" stroke="#2f9628" stroke-width="3" stroke-linejoin="round" stroke-linecap="butt" clip-path="url(#cpF)"/>
<path d="M1598.02,598.53 1598.1,600.8 1598.18,603.09 1598.27,605.38 1598.36,607.68 1598.45,609.99 1598.55,612.3 1598.65,614.63 1598.76,616.96 1598.87,619.29 1598.98,621.64 1599.1,623.98 1599.22,626.34 1599.35,628.69 1599.48,631.05 1599.62,633.42 1599.77,635.78 1599.92,638.15 1600.07,640.53 1600.23,642.9 1600.4,645.27 1600.57,647.65 1600.76,650.02 1600.94,652.39 1601.14,654.77 1601.34,657.14 1601.55,659.51 1601.76,661.88 1601.99,664.24 1602.22,666.6 1602.46,668.96 1602.7,671.31 1602.96,673.66 1603.22,676.01 1603.5,678.34 1603.78,680.68 1604.07,683 1604.37,685.32 1604.68,687.63 1605,689.93 1605.33,692.22 1605.66,694.51 1606.01,696.78 1606.37,699.05 1606.74,701.3 1607.12,703.54 1607.51,705.78 1607.91,708 1608.32,710.2 1608.75,712.4 1609.18,714.58 1609.63,716.75 1610.08,718.9 1610.56,721.04 1611.04,723.16 1611.53,725.27 1612.04,727.36 1612.56,729.43 1613.09,731.49 1613.64,733.53 1614.2,735.55 1614.77,737.56 1615.35,739.54 1615.95,741.5 1616.57,743.45 1617.19,745.37 1617.84,747.27 1618.49,749.15 1619.16,751.01 1619.85,752.85 1620.55,754.66 1621.26,756.45 1621.99,758.22 1622.74,759.96 1623.5,761.68 1624.28,763.37 1625.07,765.04 1625.88,766.67 1626.71,768.29 1627.55,769.87 1628.41,771.43 1629.29,772.96 1630.18,774.46 1631.09,775.93 1632.02,777.37 1632.97,778.79 1633.93,780.17 1634.91,781.52 1635.91,782.84 1636.93,784.12 1637.96,785.38 1639.02,786.6 1640.09,787.79 1641.18,788.94 1642.29,790.06 1643.43,791.14 1644.58,792.19 1645.75,793.21 1646.94,794.18 1648.15,795.12 1649.38,796.03 1650.63,796.89 1651.9,797.72 1653.19,798.51 1654.5,799.25 1655.83,799.96 1657.19,800.63 1658.57,801.26 1659.96,801.85 1661.38,802.39 1662.82,802.9 1664.28,803.37 1665.76,803.81 1667.26,804.21 1668.77,804.57 1670.3,804.91 1671.85,805.21 1673.42,805.49 1675,805.74 1676.59,805.96 1678.2,806.16 1679.83,806.33 1681.46,806.48 1683.11,806.61 1684.77,806.72 1686.44,806.81 1688.12,806.89 1689.81,806.95 1691.51,807 1693.22,807.03 1694.94,807.06 1696.66,807.07 1698.39,807.08 1700.13,807.08 1701.87,807.07 1703.61,807.06 1705.36,807.05 1707.12,807.03 1708.87,807.02 1710.63,807.01 1712.39,807 1714.15,806.99 1715.91,806.99 1717.67,807 1719.43,807.01 1721.19,807.04 1722.94,807.07 1724.69,807.12 1726.44,807.19 1728.18,807.26 1729.92,807.36 1731.66,807.47 1733.38,807.6 1735.1,807.76 1736.82,807.93 1738.53,808.13 1740.23,808.35 1741.92,808.59 1743.61,808.85 1745.3,809.13 1746.98,809.44 1748.65,809.78 1750.32,810.13 1751.98,810.52 1753.64,810.92 1755.29,811.36 1756.94,811.81 1758.58,812.3 1760.22,812.81 1761.86,813.35 1763.49,813.91 1765.12,814.5 1766.74,815.12 1768.36,815.77 1769.98,816.45 1771.6,817.16 1773.21,817.9 1774.82,818.66 1776.42,819.46 1778.03,820.29 1779.63,821.15 1781.23,822.04 1782.82,822.96 1784.42,823.91 1786.01,824.89 1787.6,825.9 1789.19,826.94 1790.78,828 1792.36,829.08 1793.95,830.19 1795.53,831.33 1797.1,832.48 1798.68,833.66 1800.25,834.86 1801.82,836.07 1803.39,837.3 1804.96,838.55 1806.53,839.82 1808.09,841.1 1809.65,842.39 1811.21,843.7 1812.76,845.03 1814.32,846.36 1815.87,847.71 1817.42,849.07 1818.97,850.44 1820.52,851.83 1822.06,853.23 1823.6,854.64 1825.14,856.06 1826.68,857.49 1828.22,858.94 1829.76,860.39 1831.29,861.86 1832.83,863.33 1834.36,864.82 1835.89,866.31 1837.42,867.82 1838.94,869.33 1840.47,870.86 1842,872.39 1843.52,873.93 1845.04,875.48 1846.56,877.04 1848.08,878.61 1849.6,880.18 1851.12,881.76 1852.64,883.35 1854.16,884.95 1855.67,886.55 1857.19,888.16 1858.7,889.78 1860.22,891.4 1861.73,893.03 1863.25,894.66 1864.76,896.3 1866.27,897.94 1867.78,899.59 1869.29,901.24 1870.8,902.9 1872.31,904.56 1873.82,906.23 1875.33,907.9 1876.84,909.57 1878.35,911.25 1879.86,912.93 1881.37,914.61 1882.88,916.29 1884.39,917.98 1885.9,919.67 1887.41,921.36 1888.93,923.05 1890.44,924.74 1891.95,926.44 1893.46,928.13 1894.97,929.83 1896.48,931.52 1898,933.22 1899.51,934.91 1901.02,936.61 1902.54,938.3 1904.05,940 1905.57,941.69 1907.09,943.38 1908.61,945.07 1910.13,946.76 1911.65,948.45 1913.17,950.13 1914.69,951.81 1916.21,953.49 1917.73,955.16 1919.26,956.84 1920.79,958.5 1922.31,960.17 1923.84,961.83 1925.37,963.49 1926.91,965.14 1928.44,966.79 1929.97,968.43 1931.51,970.07 1933.05,971.7 1934.59,973.33 1936.13,974.95 1937.67,976.56 1939.22,978.17 1940.76,979.77 1942.31,981.36 1943.86,982.95 1945.42,984.53 1946.97,986.1 1948.53,987.67 1950.09,989.23 1951.65,990.77 1953.21,992.31 1954.78,993.85 1956.34,995.37 1957.91,996.88 1959.49,998.38 1961.06,999.88 1962.64,1001.36 1964.22,1002.84 1965.8,1004.3 1967.39,1005.75 1968.97,1007.19 1970.57,1008.62 1972.16,1010.04 1973.76,1011.45 1975.35,1012.85 1976.96,1014.23 1978.56,1015.6 1980.17,1016.96 1981.78,1018.31 1983.4,1019.64 1985.01,1020.96 1986.63,1022.26 1988.26,1023.56 1989.88,1024.83 1991.51,1026.1 1993.15,1027.35 1994.78,1028.59 1996.42,1029.81 1998.07,1031.02 1999.71,1032.22 2001.36,1033.4 2003.02,1034.57 2004.67,1035.73 2006.33,1036.87 2007.99,1038 2009.66,1039.12 2011.33,1040.22 2013,1041.31 2014.67,1042.39 2016.35,1043.45 2018.03,1044.5 2019.71,1045.54 2021.4,1046.56 2023.09,1047.57 2024.78,1048.57 2026.48,1049.55 2028.17,1050.52 2029.88,1051.48 2031.58,1052.43 2033.29,1053.36 2035,1054.28 2036.71,1055.19 2038.43,1056.08 2040.14,1056.96 2041.87,1057.83 2043.59,1058.69 2045.32,1059.53 2047.05,1060.36 2048.78,1061.18 2050.52,1061.98 2052.26,1062.77 2054,1063.55 2055.74,1064.32 2057.49,1065.08 2059.24,1065.82 2060.99,1066.55 2062.75,1067.27 2064.5,1067.97 2066.26,1068.67 2068.03,1069.35 2069.79,1070.01 2071.56,1070.67 2073.33,1071.31 2075.11,1071.95 2076.89,1072.57 2078.66,1073.17 2080.45,1073.77 2082.23,1074.35 2084.02,1074.92 2085.81,1075.48 2087.6,1076.03 2089.4,1076.57 2091.19,1077.09 2092.99,1077.6 2094.8,1078.1 2096.6,1078.59 2098.41,1079.07 2100.22,1079.53 2102.03,1079.99 2103.85,1080.43 2105.66,1080.86 2107.48,1081.27 2109.31,1081.68 2111.13,1082.08 2112.96,1082.46 2114.79,1082.83 2116.62,1083.19 2118.45,1083.54 2120.29,1083.88 2122.13,1084.21 2123.97,1084.52 2125.81,1084.82 2127.66,1085.12 2129.51,1085.4 2131.36,1085.67 2133.21,1085.93 2135.07,1086.17" fill="none" stroke="#b070e8" stroke-width="3" stroke-linejoin="round" stroke-linecap="butt" clip-path="url(#cpF)"/>
<line x1="1778.5" y1="761.3" x2="1778.5" y2="1087" stroke="#000" stroke-width="2.3" stroke-dasharray="12.3 12.2"/>
<text class="sn" x="1781.6" y="752.4" font-size="35.5" text-anchor="middle">340</text>
<rect x="1540.9" y="650.3" width="594.1" height="478.4" fill="none" stroke="#000" stroke-width="1.5"/>
<text class="sf" x="1540.9" y="1169.1" font-size="32" text-anchor="middle">300</text>
<text class="sf" x="1659.72" y="1169.1" font-size="32" text-anchor="middle">320</text>
<text class="sf" x="1778.54" y="1169.1" font-size="32" text-anchor="middle">340</text>
<text class="sf" x="1897.36" y="1169.1" font-size="32" text-anchor="middle">360</text>
<text class="sf" x="2016.18" y="1169.1" font-size="32" text-anchor="middle">380</text>
<text class="sf" x="2135" y="1169.1" font-size="32" text-anchor="middle">400</text>
<text class="sf" x="1525.5" y="1095.1" font-size="32" text-anchor="end">0.0</text>
<text class="sf" x="1525.5" y="1008.04" font-size="32" text-anchor="end">0.2</text>
<text class="sf" x="1525.5" y="920.98" font-size="32" text-anchor="end">0.4</text>
<text class="sf" x="1525.5" y="833.92" font-size="32" text-anchor="end">0.6</text>
<text class="sf" x="1525.5" y="746.86" font-size="32" text-anchor="end">0.8</text>
<text class="sf" x="1525.5" y="659.8" font-size="32" text-anchor="end">1.0</text>
<text class="sf" x="1854.5" y="1210.5" font-size="41.15" text-anchor="middle">Wavelength (nm)</text>
<text class="sf" x="1472.8" y="874.7" font-size="40.85" text-anchor="middle" transform="rotate(-90 1472.8 874.7)">Absorbance (a.u.)</text>
<text class="sf" x="1432.8" y="623.8" font-size="57">F</text>
<line x1="1953" y1="677.7" x2="2008.7" y2="677.7" stroke="#808080" stroke-width="3" stroke-linecap="round"/>
<text class="sf" x="2024" y="686.3" font-size="36.2" fill="#808080">0 min</text>
<line x1="1953" y1="722.3" x2="2008.7" y2="722.3" stroke="#e04040" stroke-width="3" stroke-linecap="round"/>
<text class="sf" x="2017" y="730.9" font-size="36.2" fill="#e8241a">15 min</text>
<line x1="1953" y1="766.6" x2="2008.7" y2="766.6" stroke="#3f78e0" stroke-width="3" stroke-linecap="round"/>
<text class="sf" x="2017" y="775.2" font-size="36.2" fill="#4a8be0">30 min</text>
<line x1="1953" y1="811.4" x2="2008.7" y2="811.4" stroke="#2f9628" stroke-width="3" stroke-linecap="round"/>
<text class="sf" x="2017" y="820" font-size="36.2" fill="#38962a">45 min</text>
<line x1="1953" y1="856.2" x2="2008.7" y2="856.2" stroke="#b070e8" stroke-width="3" stroke-linecap="round"/>
<text class="sf" x="2017" y="864.8" font-size="36.2" fill="#a530e0">60 min</text>
</svg>
</body></html>
